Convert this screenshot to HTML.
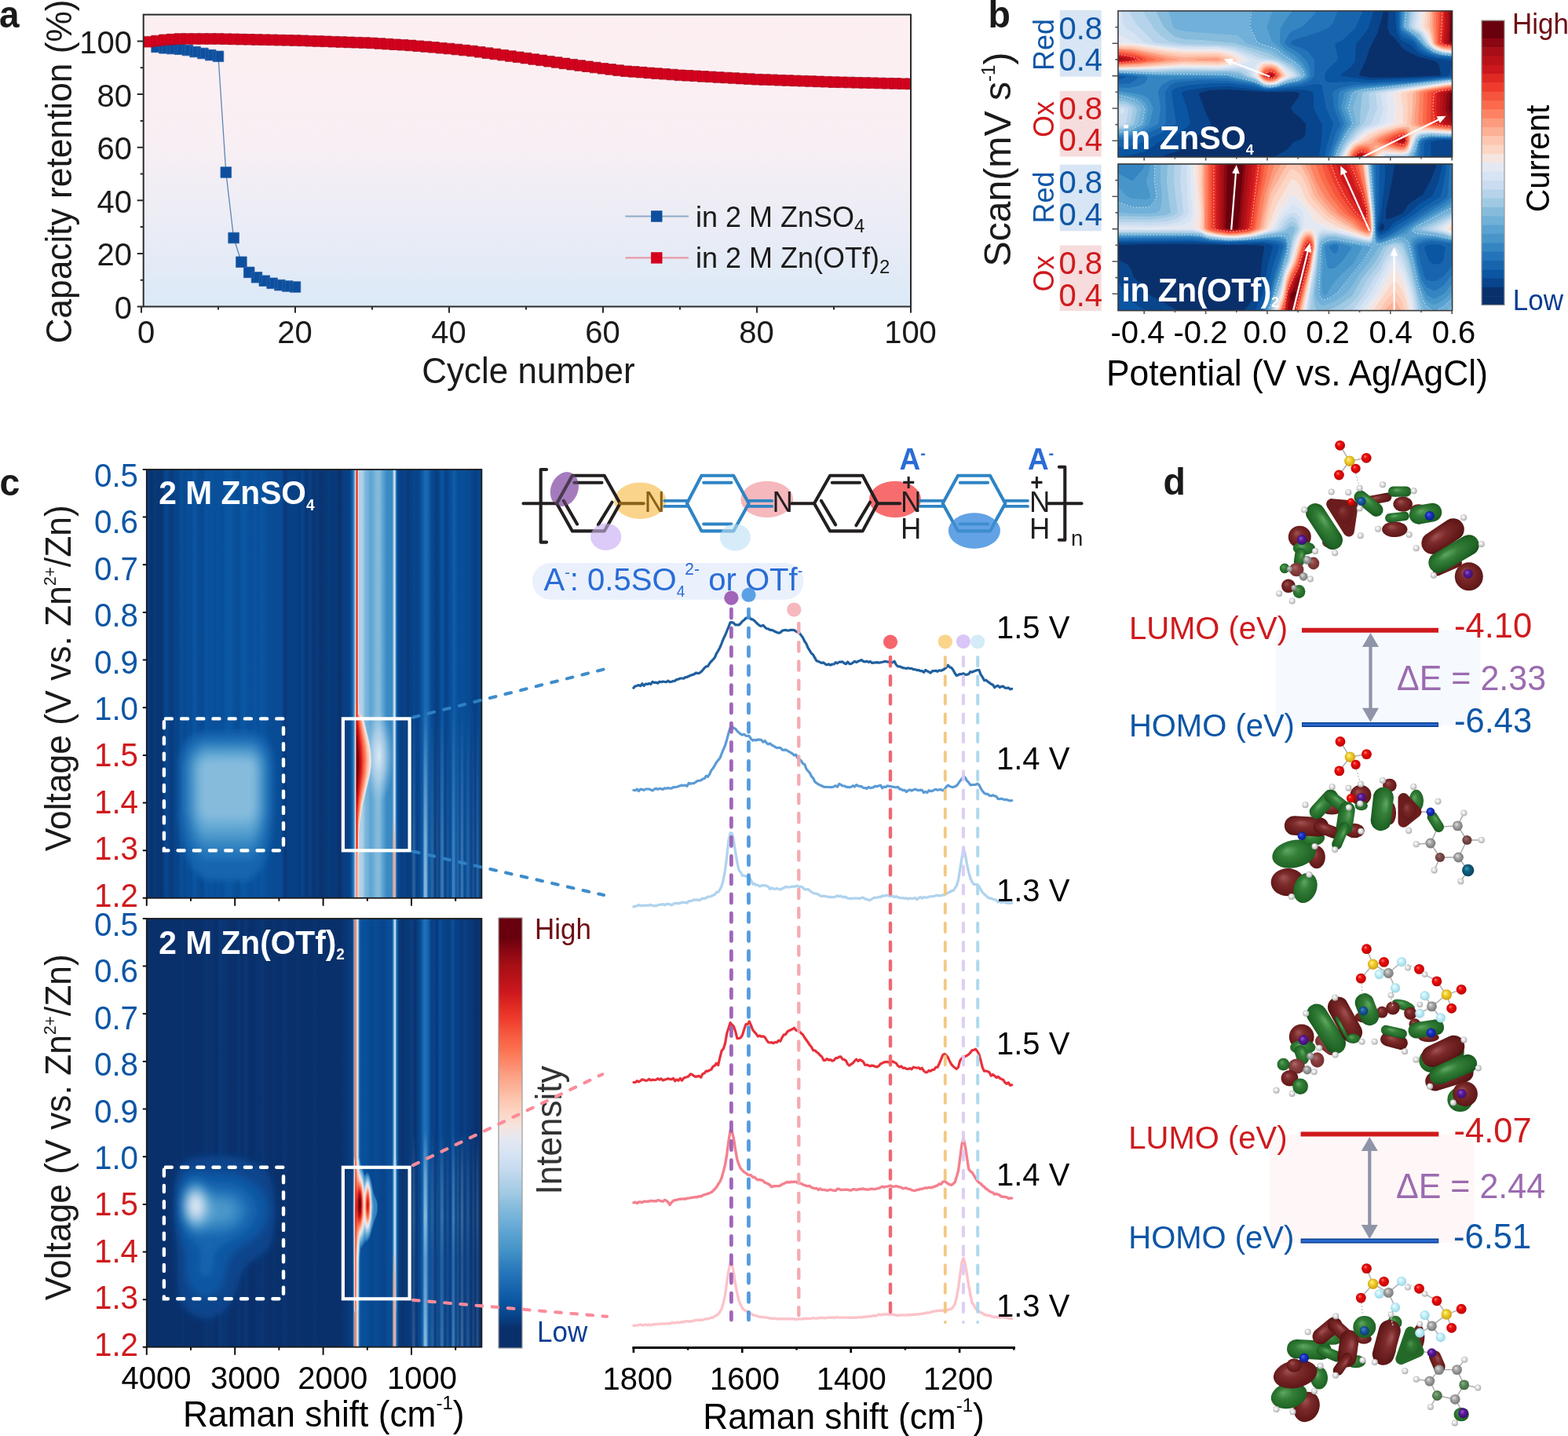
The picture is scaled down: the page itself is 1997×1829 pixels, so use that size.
<!DOCTYPE html>
<html lang="en"><head><meta charset="utf-8"><title>Figure</title>
<style>
html,body{margin:0;padding:0;background:#fff;}
body{width:1997px;height:1829px;overflow:hidden;}
svg{display:block;font-family:'Liberation Sans', Arial, Helvetica, sans-serif;}
</style></head>
<body>
<svg width="1997" height="1829" viewBox="0 0 1997 1829">
<rect width="1997" height="1829" fill="#fff"/>
<g id="panel_a">
<defs><linearGradient id="abg" x1="0" y1="0" x2="0" y2="1"><stop offset="0" stop-color="#fdeff1"/><stop offset="0.45" stop-color="#f8eff4"/><stop offset="0.75" stop-color="#e9ecf6"/><stop offset="1" stop-color="#dbe9f7"/></linearGradient></defs>
<rect x="182.7" y="18.6" width="977.3" height="371.9" fill="url(#abg)"/>
<polyline points="199.6,59.9 209.4,61.3 219.2,62 229,62.6 238.8,64 248.6,66 258.4,68 268.2,70.1 278,71.8 287.8,219.5 297.6,303 307.4,333.7 317.2,346.9 327,353.3 336.8,357.7 346.6,360.8 356.4,363.1 366.2,364.5 376,365.5" fill="none" stroke="#5b86b5" stroke-width="1.3"/>
<path d="M192.8 53.1h13.6v13.6h-13.6zM202.6 54.5h13.6v13.6h-13.6zM212.4 55.2h13.6v13.6h-13.6zM222.2 55.8h13.6v13.6h-13.6zM232 57.2h13.6v13.6h-13.6zM241.8 59.2h13.6v13.6h-13.6zM251.6 61.2h13.6v13.6h-13.6zM261.4 63.3h13.6v13.6h-13.6zM271.2 65h13.6v13.6h-13.6zM281 212.7h13.6v13.6h-13.6zM290.8 296.2h13.6v13.6h-13.6zM300.6 326.9h13.6v13.6h-13.6zM310.4 340.1h13.6v13.6h-13.6zM320.2 346.5h13.6v13.6h-13.6zM330 350.9h13.6v13.6h-13.6zM339.8 354h13.6v13.6h-13.6zM349.6 356.3h13.6v13.6h-13.6zM359.4 357.7h13.6v13.6h-13.6zM369.2 358.7h13.6v13.6h-13.6z" fill="#0d4f9e" stroke="#2a62a8" stroke-width="0.8"/>
<clipPath id="aclip"><rect x="182.7" y="0" width="977.3" height="420"/></clipPath>
<path d="M183 46.4h13.6v13.6h-13.6zM192.8 45.2h13.6v13.6h-13.6zM202.6 44h13.6v13.6h-13.6zM212.4 43.3h13.6v13.6h-13.6zM222.2 42.7h13.6v13.6h-13.6zM232 42.7h13.6v13.6h-13.6zM241.8 42.7h13.6v13.6h-13.6zM251.6 42.7h13.6v13.6h-13.6zM261.4 42.7h13.6v13.6h-13.6zM271.2 42.7h13.6v13.6h-13.6zM281 42.9h13.6v13.6h-13.6zM290.8 43.1h13.6v13.6h-13.6zM300.6 43.3h13.6v13.6h-13.6zM310.4 43.5h13.6v13.6h-13.6zM320.2 43.7h13.6v13.6h-13.6zM330 43.9h13.6v13.6h-13.6zM339.8 44.1h13.6v13.6h-13.6zM349.6 44.3h13.6v13.6h-13.6zM359.4 44.5h13.6v13.6h-13.6zM369.2 44.7h13.6v13.6h-13.6zM379 45h13.6v13.6h-13.6zM388.8 45.4h13.6v13.6h-13.6zM398.6 45.7h13.6v13.6h-13.6zM408.4 46h13.6v13.6h-13.6zM418.2 46.4h13.6v13.6h-13.6zM428 46.7h13.6v13.6h-13.6zM437.8 47.1h13.6v13.6h-13.6zM447.6 47.4h13.6v13.6h-13.6zM457.4 47.7h13.6v13.6h-13.6zM467.2 48.1h13.6v13.6h-13.6zM477 48.7h13.6v13.6h-13.6zM486.8 49.3h13.6v13.6h-13.6zM496.6 49.9h13.6v13.6h-13.6zM506.4 50.5h13.6v13.6h-13.6zM516.2 51.1h13.6v13.6h-13.6zM526 51.9h13.6v13.6h-13.6zM535.8 52.7h13.6v13.6h-13.6zM545.6 53.5h13.6v13.6h-13.6zM555.4 54.4h13.6v13.6h-13.6zM565.2 55.2h13.6v13.6h-13.6zM575 56.2h13.6v13.6h-13.6zM584.8 57.2h13.6v13.6h-13.6zM594.6 58.2h13.6v13.6h-13.6zM604.4 59.5h13.6v13.6h-13.6zM614.2 60.8h13.6v13.6h-13.6zM624 62.1h13.6v13.6h-13.6zM633.8 63.4h13.6v13.6h-13.6zM643.6 64.7h13.6v13.6h-13.6zM653.4 66h13.6v13.6h-13.6zM663.2 67.3h13.6v13.6h-13.6zM673 68.7h13.6v13.6h-13.6zM682.8 70h13.6v13.6h-13.6zM692.6 71.4h13.6v13.6h-13.6zM702.4 72.7h13.6v13.6h-13.6zM712.2 74.1h13.6v13.6h-13.6zM722 75.4h13.6v13.6h-13.6zM731.8 76.7h13.6v13.6h-13.6zM741.6 77.9h13.6v13.6h-13.6zM751.4 79.2h13.6v13.6h-13.6zM761.2 80.5h13.6v13.6h-13.6zM771 81.6h13.6v13.6h-13.6zM780.8 82.8h13.6v13.6h-13.6zM790.6 83.9h13.6v13.6h-13.6zM800.4 84.6h13.6v13.6h-13.6zM810.2 85.3h13.6v13.6h-13.6zM820 86.1h13.6v13.6h-13.6zM829.8 86.8h13.6v13.6h-13.6zM839.6 87.5h13.6v13.6h-13.6zM849.4 88.2h13.6v13.6h-13.6zM859.2 89h13.6v13.6h-13.6zM869 89.5h13.6v13.6h-13.6zM878.8 90h13.6v13.6h-13.6zM888.6 90.6h13.6v13.6h-13.6zM898.4 91.1h13.6v13.6h-13.6zM908.2 91.7h13.6v13.6h-13.6zM918 92.2h13.6v13.6h-13.6zM927.8 92.7h13.6v13.6h-13.6zM937.6 93.3h13.6v13.6h-13.6zM947.4 93.8h13.6v13.6h-13.6zM957.2 94.4h13.6v13.6h-13.6zM967 94.7h13.6v13.6h-13.6zM976.8 95h13.6v13.6h-13.6zM986.6 95.4h13.6v13.6h-13.6zM996.4 95.7h13.6v13.6h-13.6zM1006.2 96.1h13.6v13.6h-13.6zM1016 96.4h13.6v13.6h-13.6zM1025.8 96.7h13.6v13.6h-13.6zM1035.6 97.1h13.6v13.6h-13.6zM1045.4 97.4h13.6v13.6h-13.6zM1055.2 97.8h13.6v13.6h-13.6zM1065 98h13.6v13.6h-13.6zM1074.8 98.2h13.6v13.6h-13.6zM1084.6 98.5h13.6v13.6h-13.6zM1094.4 98.7h13.6v13.6h-13.6zM1104.2 98.9h13.6v13.6h-13.6zM1114 99.2h13.6v13.6h-13.6zM1123.8 99.4h13.6v13.6h-13.6zM1133.6 99.6h13.6v13.6h-13.6zM1143.4 99.9h13.6v13.6h-13.6zM1153.2 100.1h13.6v13.6h-13.6z" fill="#d6001c" stroke="#a80c20" stroke-width="0.7" clip-path="url(#aclip)"/>
<rect x="182.7" y="18.6" width="977.3" height="371.9" fill="none" stroke="#2b2b2b" stroke-width="2"/>
<path d="M182.7 390.5h-8M182.7 356.7h-4M182.7 322.9h-8M182.7 289.1h-4M182.7 255.3h-8M182.7 221.5h-4M182.7 187.7h-8M182.7 153.9h-4M182.7 120.1h-8M182.7 86.3h-4M182.7 52.5h-8M180 390.5v8M278 390.5v4M376 390.5v8M474 390.5v4M572 390.5v8M670 390.5v4M768 390.5v8M866 390.5v4M964 390.5v8M1062 390.5v4M1160 390.5v8" stroke="#2b2b2b" stroke-width="2" fill="none"/>
<text transform="translate(168 406) scale(1 1.035)" font-size="40" fill="#1a1a1a" text-anchor="end">0</text>
<text transform="translate(168 338.4) scale(1 1.035)" font-size="40" fill="#1a1a1a" text-anchor="end">20</text>
<text transform="translate(168 270.8) scale(1 1.035)" font-size="40" fill="#1a1a1a" text-anchor="end">40</text>
<text transform="translate(168 203.2) scale(1 1.035)" font-size="40" fill="#1a1a1a" text-anchor="end">60</text>
<text transform="translate(168 135.6) scale(1 1.035)" font-size="40" fill="#1a1a1a" text-anchor="end">80</text>
<text transform="translate(168 68) scale(1 1.035)" font-size="40" fill="#1a1a1a" text-anchor="end">100</text>
<text transform="translate(186 437) scale(1 1.035)" font-size="40" fill="#1a1a1a" text-anchor="middle">0</text>
<text transform="translate(375.5 437) scale(1 1.035)" font-size="40" fill="#1a1a1a" text-anchor="middle">20</text>
<text transform="translate(571.5 437) scale(1 1.035)" font-size="40" fill="#1a1a1a" text-anchor="middle">40</text>
<text transform="translate(767.5 437) scale(1 1.035)" font-size="40" fill="#1a1a1a" text-anchor="middle">60</text>
<text transform="translate(963.5 437) scale(1 1.035)" font-size="40" fill="#1a1a1a" text-anchor="middle">80</text>
<text transform="translate(1159.5 437) scale(1 1.035)" font-size="40" fill="#1a1a1a" text-anchor="middle">100</text>
<text transform="translate(673 488) scale(1 1.035)" font-size="44" fill="#1a1a1a" text-anchor="middle">Cycle number</text>
<text transform="translate(91 218.5) rotate(-90) scale(1 1.035)" font-size="44.3" fill="#1a1a1a" text-anchor="middle">Capacity retention (%)</text>
<text transform="translate(-1 34.5) scale(1 1.035)" font-size="46" fill="#1a1a1a" font-weight="bold">a</text>
<line x1="796.4" y1="275.5" x2="877" y2="275.5" stroke="#8fa9c6" stroke-width="2.2"/>
<rect x="829.1" y="268.3" width="14.4" height="14.4" fill="#0d4f9e"/>
<line x1="796.4" y1="328.4" x2="877" y2="328.4" stroke="#e79aa6" stroke-width="2.2"/>
<rect x="829.1" y="321.2" width="14.4" height="14.4" fill="#d6001c"/>
<text transform="translate(886 288.5) scale(1 1.035)" font-size="36" fill="#1a1a1a">in 2 M ZnSO<tspan font-size="24" dy="7">4</tspan><tspan dy="-7" font-size="1">&#8203;</tspan></text>
<text transform="translate(886 341) scale(1 1.035)" font-size="36" fill="#1a1a1a">in 2 M Zn(OTf)<tspan font-size="24" dy="7">2</tspan><tspan dy="-7" font-size="1">&#8203;</tspan></text>
</g>
<g id="panel_b">
<clipPath id="bct"><rect x="1424.0" y="13.9" width="425.6" height="186.1"/></clipPath>
<clipPath id="bcb"><rect x="1424.0" y="208.9" width="425.6" height="186.7"/></clipPath>
<g clip-path="url(#bct)"><rect x="1424" y="13.9" width="425.6" height="186.1" fill="#0a306b"/>
<path fill="#08458c" d="M1421 11l341 0 -1 8 -7 24 -9 17 -6 18 -8 17 1 2 4 0 10 2 54 -1 34 -2 1 -2 -1 -4 -1 -6 -3 -5 -5 -2 -19 -5 -16 -8 -5 -4 -9 -12 -6 -5 -3 -8 2 -24 84 0 0 192 -231 0 0 -3 13 -7 6 -4 6 -8 11 -4 4 -4 1 -9 0 -6 -6 -7 -9 -7 -4 -6 1 -3 8 -10 2 -5 -1 -2 -5 -1 -37 0 -49 -3 -23 1 -12 3 -1 2 8 22 7 15 0 3 -3 5 -5 4 -15 5 -10 5 -2 2 -2 7 -4 4 -5 2 -11 3 -4 3 0 3 -60 0z"/>
<path fill="#0a56a3" d="M1421 11l329 0 -1 5 -6 19 -4 7 -12 14 -1 18 0 4 -5 7 -13 10 0 2 8 1 29 4 88 -4 9 -1 4 -2 4 -14 3 0 0 98 -16 -1 -11 2 -4 1 1 22 -144 0 4 -24 1 -20 -11 -21 0 -19 -2 -2 -6 -2 -12 -1 -37 2 -52 -6 -22 1 -24 3 -10 2 -3 2 7 20 4 19 -2 3 -15 11 -22 9 -11 8 -8 5 -7 2 -25 5 0 3 -5 0zM1777 11l76 0 0 67 -27 -4 -14 -4 -7 -4 -8 -9 -13 -6 -3 -5 -3 -9z"/>
<path fill="#1865ae" d="M1421 11l314 0 0 5 -9 20 -15 14 -11 6 4 19 -2 3 -8 7 -5 6 -2 6 1 6 2 1 7 1 26 -1 22 1 55 -3 53 -5 0 80 -21 0 -10 1 -5 1 -3 3 -1 21 -126 0 2 -15 9 -30 -9 -20 -5 -27 -1 -3 -9 -1 -14 3 -43 4 -7 0 -11 -3 -34 -5 -23 0 -25 2 -16 3 -5 2 -3 2 -1 3 6 38 -2 4 -14 8 -32 15 -13 4 -16 0 0 -86 7 0 6 -3 0 -1 -5 0 -8 -1zM1781 11l72 0 0 64 -23 -2 -14 -5 -9 -5 -7 -10 -14 -6 -3 -5 -2 -7z"/>
<path fill="#2474ba" d="M1421 11l283 0 0 3 -7 16 -4 5 -16 7 -30 9 -3 3 1 3 12 4 8 4 4 5 4 5 1 4 0 17 -2 3 -5 5 -11 4 -38 5 -7 0 -14 -5 -35 -5 -34 -1 -31 3 -7 4 -6 8 1 23 0 16 -2 3 -7 4 -24 11 -15 4 -16 0 0 -71 18 -1 7 -4 4 -4 -4 -1 -6 -1 -19 -2zM1783 11l70 0 0 62 -22 -2 -12 -4 -9 -5 -9 -11 -13 -8 -4 -4 -1 -4zM1845 99l8 0 0 77 -30 0 -11 3 -2 3 -2 21 -116 0 0 -6 4 -11 5 -16 6 -11 -8 -22 -2 -18 1 -2 2 -2 9 -4 15 -3 77 -4z"/>
<path fill="#3585c2" d="M1421 11l255 0 0 3 -1 3 -13 14 -6 4 -11 5 -3 3 -3 5 -3 6 1 2 3 3 16 10 9 10 3 8 1 10 -4 4 -8 4 -38 7 -9 0 -11 -5 -36 -7 -41 0 -23 1 -8 1 -10 5 -3 4 -3 5 3 22 -2 17 -1 3 -21 11 -8 3 -10 3 -15 0 0 -64 16 1 11 -2 10 -4 4 -7 -2 -2 -10 -1 -29 -2zM1785 11l68 0 0 61 -17 -1 -13 -3 -9 -6 -12 -13 -14 -9 -3 -3 -1 -3zM1843 100l10 0 0 75 -30 0 -12 3 -3 3 -3 22 -110 0 0 -5 4 -11 12 -28 0 -3 -7 -19 1 -17 2 -4 11 -4 13 -2 68 -5z"/>
<path fill="#4896c9" d="M1421 11l225 0 -1 4 -8 11 -6 10 -1 8 0 11 6 7 15 10 8 8 5 9 2 8 -4 4 -7 3 -17 3 -13 4 -8 1 -7 -1 -13 -6 -34 -7 -33 -1 -58 0 -31 -3 -20 -1zM1787 11l66 0 0 61 -17 -2 -11 -3 -10 -6 -12 -13 -14 -10 -3 -4zM1842 101l11 0 0 74 -30 -1 -12 2 -4 4 -4 20 0 3 -106 0 1 -5 3 -10 15 -30 -8 -21 3 -13 1 -5 2 -2 7 -3 11 -2zM1421 115l30 5 6 2 5 3 4 7 3 6 -5 18 -1 3 -10 7 -12 5 -9 1 -11 1z"/>
<path fill="#5aa2d1" d="M1421 11l200 0 0 3 -8 20 7 19 16 13 19 15 6 8 2 5 0 3 -3 3 -6 3 -15 3 -14 4 -8 1 -8 -1 -11 -5 -35 -9 -92 -1 -50 -3zM1789 11l64 0 0 60 -16 -1 -12 -4 -11 -7 -11 -13 -14 -9 -2 -4zM1847 101l6 0 0 73 -30 -1 -9 1 -4 2 -4 4 -2 12 -4 8 0 3 -101 0 0 -5 4 -9 9 -19 8 -12 -2 -7 -6 -14 5 -17 2 -3 7 -2 9 -2zM1421 118l9 1 16 4 7 3 5 4 3 5 1 4 -3 17 -1 3 -8 5 -10 4 -9 2 -10 1z"/>
<path fill="#70b0d9" d="M1421 11l172 0 -2 23 10 19 4 3 20 6 11 9 13 8 8 8 4 7 0 3 -3 2 -5 3 -14 3 -14 5 -8 1 -8 -2 -11 -5 -19 -6 -16 -3 -92 -1 -50 -2zM1791 11l62 0 0 59 -16 -1 -11 -3 -11 -8 -11 -12 -13 -10 -2 -3zM1844 102l9 0 0 71 -30 -1 -13 3 -4 4 -4 13 -4 8 0 3 -97 0 0 -5 6 -13 8 -15 8 -12 -1 -6 -5 -15 5 -17 3 -3 12 -3zM1421 122l9 0 12 3 7 4 6 5 3 5 -3 17 -2 3 -7 4 -9 4 -7 1 -9 1z"/>
<path fill="#86bbdc" d="M1421 11l67 0 0 3 3 8 3 12 3 3 13 3 65 5 5 3 7 7 33 10 15 10 11 5 9 9 3 5 1 3 -3 2 -6 2 -11 3 -14 5 -8 1 -7 -1 -11 -6 -20 -7 -15 -3 -94 0 -49 -2zM1794 11l59 0 0 59 -16 -2 -11 -3 -11 -8 -9 -12 -13 -9 -1 -4zM1848 102l5 0 0 71 -30 -1 -13 2 -6 5 -3 13 -5 8 0 3 -93 0 0 -5 6 -13 8 -14 10 -13 -1 -9 -3 -12 6 -18 2 -2 6 -1 14 -2zM1421 125l9 0 9 3 7 3 6 5 1 2 0 3 -3 15 -2 3 -5 3 -8 3 -14 2z"/>
<path fill="#a0cae3" d="M1421 11l51 0 1 5 9 18 8 8 7 5 12 3 22 1 42 4 33 10 12 4 27 14 8 8 3 4 0 2 -5 2 -12 4 -13 5 -9 1 -8 -1 -9 -6 -13 -5 -8 -4 -13 -2 -57 0 -39 1 -49 -2zM1796 11l57 0 0 58 -15 -1 -11 -4 -10 -7 -9 -13 -13 -8 -1 -4zM1846 103l7 0 0 69 -31 -1 -12 1 -6 6 -5 14 -3 5 -3 3 0 3 -88 0 0 -5 6 -13 11 -16 10 -11 1 -20 2 -18 1 -2 6 -2 12 -1zM1421 129l0 -1 11 1 10 4 5 4 1 3 -3 15 -2 4 -11 5 -11 0z"/>
<path fill="#b5d3ea" d="M1421 11l34 0 1 4 14 22 9 9 10 7 18 3 45 1 23 2 58 20 15 10 4 5 1 3 -3 2 -11 3 -13 6 -9 1 -8 -2 -9 -6 -11 -4 -7 -5 -4 -2 -69 -1 -39 2 -49 -1zM1799 11l54 0 0 58 -15 -2 -11 -3 -10 -8 -8 -13 -11 -7 -2 -4zM1843 104l10 0 0 67 -31 -1 -12 1 -4 3 -3 3 -4 12 -3 7 -4 3 -7 1 0 3 -13 0 0 -3 -2 0 -2 0 0 3 -62 0 1 -6 7 -13 13 -16 10 -11 7 -19 -1 -18 2 -2 12 -3zM1421 132l11 0 7 3 4 3 -3 17 -3 4 -6 3 -10 0z"/>
<path fill="#c9dcf0" d="M1421 11l17 0 1 4 2 5 7 12 22 22 14 2 22 2 46 1 20 2 34 13 18 3 6 2 17 12 3 4 0 2 -24 10 -9 1 -5 0 -4 -2 -8 -6 -7 -3 -6 -7 -7 -3 -28 2 -43 -1 -39 1 -49 0zM1802 11l51 0 0 57 -16 -2 -10 -3 -8 -7 -9 -14 -10 -7 -1 -3zM1847 104l6 0 0 67 -31 -2 -13 2 -4 2 -2 3 -8 19 -2 2 -3 1 -23 0 -4 2 0 3 -55 0 0 -3 2 -5 7 -12 14 -16 7 -5 7 -4 2 -2 7 -18 -2 -18 1 -2 12 -2zM1421 135l10 0 6 3 0 3 -3 15 -3 3 -10 1z"/>
<path fill="#d6e4f3" d="M1421 11l7 0 2 16 3 8 11 7 13 12 14 3 35 3 45 0 18 3 32 13 17 1 9 3 6 3 13 10 2 3 -1 1 -22 10 -8 1 -6 -1 -4 -2 -12 -9 -2 -7 -2 -2 -7 -2 -32 3 -44 -1 -38 1 -49 1zM1805 11l48 0 0 57 -14 -2 -8 -2 -5 -3 -6 -5 -8 -14 -10 -8zM1844 105l9 0 0 65 -31 -1 -13 1 -4 2 -3 3 -7 19 -5 3 -24 0 -6 3 0 3 -51 0 1 -5 6 -11 14 -15 9 -8 15 -6 3 -2 4 -17 -2 -19 1 -2 9 -2zM1428 138l3 0 1 2 -1 3 -2 2 -2 -1 -1 -3 1 -2z"/>
<path fill="#e4e8f2" d="M1808 11l45 0 0 56 -18 -2 -7 -3 -6 -5 -8 -15 -9 -8zM1421 44l4 0 21 10 22 4 40 4 42 0 14 2 9 2 13 7 5 3 1 2 -4 2 -15 4 -20 2 -45 0 -38 2 -49 0zM1605 79l12 -1 10 2 5 4 12 11 0 2 -20 10 -7 0 -8 -1 -11 -9 -1 -2 1 -10 3 -4zM1848 105l5 0 0 65 -32 -2 -9 0 -4 1 -6 4 -7 19 -2 3 -3 1 -7 1 -18 -1 -6 3 -1 4 -48 0 1 -6 7 -12 17 -15 7 -5 20 -7 3 -2 2 -17 -1 -19 1 -2 15 -3z"/>
<path fill="#f5e4df" d="M1811 11l42 0 0 55 -10 0 -9 -2 -7 -3 -5 -5 -5 -12 -8 -10zM1421 56l0 -1 3 0 18 1 65 8 46 0 18 4 11 7 1 2 -12 5 -18 3 -45 -1 -53 3 -34 0zM1608 80l10 -1 9 3 7 6 6 7 0 2 -16 9 -7 1 -7 -2 -7 -6 -3 -4 3 -11 2 -3zM1845 106l8 0 0 63 -31 -2 -13 0 -4 2 -4 3 -6 18 -2 3 -3 2 -6 1 -20 -1 -7 3 -1 2 0 3 -44 0 1 -5 7 -12 19 -16 11 -5 23 -7 2 -2 3 -18 -3 -17 1 -3 11 -3z"/>
<path fill="#fdd5c4" d="M1816 11l37 0 0 55 -17 -3 -7 -3 -5 -4 -4 -13 -6 -9zM1421 58l22 0 43 7 21 2 45 0 16 4 5 3 2 2 -1 2 -5 2 -17 3 -44 -1 -55 4 -32 1zM1613 81l7 0 7 3 6 6 4 5 0 2 -6 4 -8 4 -7 1 -7 -2 -7 -7 0 -3 1 -6 3 -4 3 -3zM1845 107l8 0 0 61 -41 -2 -5 0 -4 2 -3 3 -5 16 -2 5 -3 2 -5 1 -18 -2 -6 0 -5 3 -2 4 0 3 -40 0 0 -4 4 -8 4 -5 3 -3 9 -4 9 -7 10 -5 34 -10 0 -19 -3 -18 1 -2 6 -2 19 -3z"/>
<path fill="#fdc6b0" d="M1819 11l34 0 0 54 -16 -2 -8 -4 -4 -3 -3 -14 -4 -8zM1421 60l0 -1 3 0 19 1 43 7 21 3 45 -1 12 4 5 3 -4 2 -13 3 -44 -1 -55 5 -32 1zM1610 83l8 -1 7 2 7 6 3 5 0 2 -5 3 -7 4 -6 1 -7 -1 -6 -6 -1 -2 2 -8 3 -4zM1844 108l9 0 0 59 -42 -3 -9 1 -3 1 -1 2 -2 12 -2 7 -2 4 -3 2 -6 0 -16 -2 -7 0 -4 1 -2 3 -2 4 0 4 -36 0 0 -4 4 -8 3 -4 4 -3 12 -5 10 -6 10 -5 16 -5 15 -3 2 -2 1 -19 -1 -19 1 -2 19 -5z"/>
<path fill="#fcb095" d="M1822 11l31 0 0 53 -15 -2 -7 -3 -5 -3 -5 -22zM1421 61l21 1 44 8 21 3 24 -1 21 0 6 2 3 2 -3 2 -6 1 -44 -1 -57 6 -30 1zM1612 84l7 -1 7 3 6 8 1 2 0 1 -6 5 -5 2 -7 0 -6 -2 -5 -5 0 -2 4 -8zM1843 109l10 -1 0 58 -48 -4 -7 -2 -1 -4 2 -18 0 -18 1 -2 4 -2 9 -2zM1786 162l8 0 2 4 -1 15 -2 6 -3 4 -7 1 -17 -3 -9 -1 -3 2 -2 2 -2 11 -33 0 0 -4 3 -6 4 -5 4 -3 15 -5 10 -7 10 -4 15 -5z"/>
<path fill="#fc9b7e" d="M1824 11l29 0 0 52 -16 -2 -7 -3 -3 -3 -3 -21zM1421 62l23 1 59 13 -6 1 -44 5 -32 2zM1524 75l26 -1 4 2 -1 1 -5 0 -19 0 -10 -1zM1614 85l5 0 6 2 6 7 1 2 -1 1 -6 5 -5 2 -7 -1 -4 -2 -4 -4 0 -3 4 -7zM1848 109l5 0 0 57 -34 -3 -12 -2 -4 -2 -2 -3 3 -38 4 -2 8 -2zM1783 164l5 0 3 0 2 2 1 3 1 12 -2 5 -4 4 -2 1 -5 0 -16 -4 -14 -2 -2 1 0 2 -1 15 -31 0 1 -4 2 -6 4 -4 4 -3 8 -2 10 -1 5 -6 7 -4 10 -4z"/>
<path fill="#fc8262" d="M1826 11l27 0 0 51 -15 -2 -7 -2 -3 -3 -2 -21zM1421 64l0 -1 4 0 18 2 38 9 4 2 -6 2 -27 3 -31 2zM1611 87l7 -1 6 2 6 6 0 2 0 1 -5 4 -4 1 -5 1 -6 -2 -3 -3 -1 -2 2 -6zM1846 110l7 0 0 55 -31 -3 -11 -2 -4 -2 -1 -3 1 -17 1 -18 0 -2 8 -3zM1782 166l5 -1 3 1 2 1 2 4 1 7 -1 3 -2 5 -3 3 -4 1 -10 -2 -17 -5 -4 -3 2 -3 7 -4zM1733 186l8 0 4 2 2 6 1 9 -29 0 1 -4 4 -7 4 -4z"/>
<path fill="#fb6a4a" d="M1829 11l24 0 0 50 -15 -2 -6 -2 -2 -2 -1 -20zM1421 66l0 -1 4 0 18 2 25 7 4 2 -2 1 -18 3 -31 2zM1614 88l5 -1 5 2 4 6 0 2 -3 3 -6 2 -5 0 -4 -2 -3 -3 0 -2 3 -5zM1847 111l6 0 0 53 -29 -3 -11 -3 -1 -3 1 -35 1 -2 8 -3zM1782 168l7 0 2 1 2 4 0 7 -1 4 -3 4 -3 0 -7 -1 -14 -4 -5 -3 1 -2 4 -3zM1734 188l6 0 4 3 2 5 0 7 -25 0 0 -4 4 -6 5 -4z"/>
<path fill="#f5553d" d="M1832 11l21 0 0 49 -15 -2 -5 -2 -2 -2zM1421 67l6 0 16 2 14 4 5 3 -4 2 -9 1 -28 2zM1613 90l5 -1 5 1 4 5 0 2 -3 3 -5 1 -8 -1 -3 -3 0 -1 2 -4zM1846 112l7 0 0 51 -18 -2 -16 -3 -2 -3 1 -36 2 -2 4 -1zM1787 169l2 1 2 2 2 6 -1 4 -3 4 -3 1 -7 -1 -12 -5 -2 -2 2 -2 9 -5zM1732 190l6 0 4 2 2 5 1 6 -23 0 0 -4 3 -4 4 -3z"/>
<path fill="#ef3b2c" d="M1834 11l19 0 0 49 -14 -2 -4 -2 -2 -2zM1421 69l0 -1 4 0 14 2 14 3 3 3 -4 1 -7 2 -24 2zM1614 91l4 -1 5 2 3 3 0 2 -3 2 -5 1 -7 -1 -2 -2 0 -2 2 -3zM1845 113l8 0 0 49 -15 -1 -14 -3 -1 -1 -1 -3 1 -35 5 -3zM1784 171l5 0 3 5 0 5 -3 4 -3 1 -6 -1 -9 -4 -2 -2 7 -5zM1731 192l5 0 4 1 3 5 1 5 -21 0 1 -5z"/>
<path fill="#e02922" d="M1837 11l16 0 0 48 -14 -2 -4 -3 2 -20zM1421 70l4 -1 13 2 10 3 3 2 -12 3 -18 1zM1615 92l3 -1 4 1 3 3 0 2 -2 1 -4 2 -7 -1 -2 -2 0 -2 2 -2zM1844 114l9 0 0 47 -20 -2 -5 -2 -1 -2 -2 -17 2 -19 5 -2zM1783 173l5 -1 3 4 0 4 -3 4 -9 -1 -5 -2 -2 -2 4 -3zM1730 194l3 -1 6 1 3 4 1 5 -19 0 1 -4z"/>
<path fill="#cb181d" d="M1839 11l14 0 0 47 -12 -2 -3 0 -1 -2 2 -20zM1421 71l16 1 6 2 2 2 -7 2 -17 1zM1615 93l3 -1 4 2 2 1 0 2 -2 1 -4 1 -7 -2 0 -2zM1848 114l5 0 0 46 -14 -1 -6 -2 -2 -3 -2 -15 1 -20 3 -2zM1784 174l4 0 2 2 1 3 -2 4 -2 0 -4 0 -7 -3 -1 -1 2 -2zM1730 195l4 0 5 1 2 3 0 4 -15 0 0 -4z"/>
<path fill="#b91219" d="M1841 11l12 0 0 46 -10 -1 -4 -2 2 -19zM1421 73l0 -1 10 1 6 1 3 2 -7 1 -12 1zM1616 94l5 0 1 3 -5 1 -5 -1 1 -2zM1847 115l6 0 0 45 -13 -2 -3 -2 -4 -17 2 -20 3 -2zM1782 176l5 -1 2 1 1 3 -1 2 -3 1 -7 -2 0 -2zM1731 196l5 0 3 2 1 2 0 3 -13 0 0 -4z"/>
<path fill="#a50f15" d="M1844 11l9 0 0 46 -8 -1 -2 -1 -1 -2 2 -18zM1421 74l0 -1 6 0 6 2 1 1 -13 1zM1615 96l3 -1 2 1 0 1 -3 0 -2 0zM1846 116l7 0 0 42 -5 0 -5 -2 -3 -7 -3 -10 2 -20zM1784 177l4 0 1 1 -1 2 -1 1 -5 -1 0 -1zM1730 198l3 -1 5 2 1 1 0 3 -11 0 0 -3z"/>
<path fill="#8b0712" d="M1846 11l7 0 0 45 -6 -1 -2 -2 1 -18zM1421 75l4 0 2 1 -6 0zM1847 117l6 0 0 39 -3 0 -2 -2 -4 -8 -3 -8 2 -18 2 -2zM1731 199l2 0 3 1 0 3 -6 0 0 -3z"/>
<path fill="#69000d" d="M1848 11l5 0 0 44 -3 0 -3 -2zM1848 118l5 0 0 28 -3 0 -5 -8 2 -18z"/></g>
<g clip-path="url(#bcb)"><rect x="1424" y="208.9" width="425.6" height="186.7" fill="#0a306b"/>
<path fill="#08458c" d="M1421 206l356 0 -4 23 -8 41 0 7 1 2 2 0 9 -3 9 -4 2 -2 4 -7 3 -4 17 -11 10 -18 7 -18 0 -6 24 0 0 193 -268 0 0 -4 9 -11 7 -11 4 -19 2 -20 3 -18 0 -2 -3 -1 -10 -1 -35 0 -44 -1 -53 0 -44 1zM1760 284l-2 3 -1 4 0 2 2 0 3 -1 1 -2 -1 -5zM1421 332l0 -1 4 0 11 6 4 5 4 11 8 7 11 15 29 16 7 5 0 3 -78 0z"/>
<path fill="#0a56a3" d="M1421 206l343 0 0 23 -5 41 -4 20 1 5 3 2 8 -4 8 -9 20 -12 12 -12 17 -10 8 -18 5 -21 0 -5 16 0 0 193 -255 0 2 -7 8 -18 7 -38 6 -21 -1 -2 -5 -2 -9 -1 -45 1 -42 -3 -98 1zM1421 358l3 -1 6 12 13 16 7 5 11 6 0 3 -40 0z"/>
<path fill="#1865ae" d="M1421 206l336 0 -1 63 -3 22 2 7 2 2 2 0 9 -4 13 -10 18 -11 13 -10 22 -14 3 -9 5 -26 0 -10 11 0 0 193 -249 0 1 -5 8 -20 7 -31 9 -28 0 -3 -7 -2 -12 -2 -48 1 -21 -1 -24 -2 -96 1zM1824 311l-9 2 -1 3 3 9 3 7 4 4 4 1 7 -2 3 -3 3 -17 -3 -2 -3 -1z"/>
<path fill="#2474ba" d="M1421 206l331 0 1 63 0 24 1 8 4 3 6 -2 6 -3 51 -34 13 -7 8 -6 1 -2 1 -3 3 -41 6 0 0 105 -29 -4 -8 1 -6 2 -3 1 -2 3 4 20 5 18 3 5 8 1 4 0 9 -6 11 -13 4 -1 0 61 -245 0 1 -7 8 -17 6 -26 11 -34 0 -2 -1 -2 -6 -3 -12 -2 -50 2 -23 -1 -13 -2 -11 -1 -97 1z"/>
<path fill="#3585c2" d="M1421 206l328 0 3 63 0 26 2 8 2 2 2 1 8 -3 13 -7 43 -27 15 -9 13 -10 3 0 0 59 -25 -4 -12 0 -10 3 -3 3 -1 3 3 20 5 20 3 6 4 6 9 4 3 0 9 -6 11 -14 4 -1 0 50 -243 0 1 -6 8 -17 4 -19 13 -41 1 -4 -2 -3 -6 -3 -11 -1 -53 2 -24 -1 -12 -3 -11 -1 -97 1zM1697 312l-4 2 0 2 5 6 3 1 3 -4 1 -5 -3 -3z"/>
<path fill="#4896c9" d="M1459 206l289 0 3 62 1 30 1 8 4 2 8 -2 22 -10 17 -13 18 -10 16 -9 11 -7 4 -1 0 51 -26 -4 -15 0 -6 1 -3 1 -3 3 -1 5 4 20 6 26 5 11 4 6 8 5 3 -1 10 -6 11 -13 3 0 0 38 -241 0 1 -6 7 -15 3 -15 15 -46 0 -7 -2 -4 -2 -1 -5 -2 -12 0 -30 3 -22 1 -23 -2 -13 -3 -11 -1 -97 1 0 -80 7 1 13 7 2 0 13 -15 2 -5zM1698 309l-8 2 -3 3 3 24 1 3 1 1 7 0 4 -3 8 -8 11 -16 -4 -2 -16 -4z"/>
<path fill="#5aa2d1" d="M1466 206l280 0 4 61 1 34 1 5 2 3 6 0 17 -7 14 -4 2 -1 4 -6 7 -5 45 -25 4 -1 0 46 -26 -5 -21 0 -7 2 -2 3 0 6 10 47 3 9 6 14 4 3 5 3 3 0 11 -6 11 -11 3 0 0 28 -239 0 0 -4 7 -16 4 -15 14 -46 0 -8 -1 -5 -3 -2 -5 -1 -11 0 -29 3 -25 1 -24 -2 -12 -3 -11 -1 -97 0 0 -62 4 1 9 10 7 4 19 1 4 -1 1 -2 0 -3 -4 -13 -1 -5 4 -13zM1698 307l-9 2 -3 2 -2 3 1 20 -2 23 1 16 1 2 2 1 3 -2 6 -10 11 -13 17 -16 11 -20 -4 -2z"/>
<path fill="#70b0d9" d="M1471 206l274 0 5 63 1 41 2 1 5 0 18 -7 5 0 7 0 4 2 2 4 11 51 7 20 4 8 8 7 0 3 -209 0 1 -4 5 -13 16 -51 4 -15 0 -4 -1 -6 -2 -4 -2 -2 -21 1 -27 4 -22 1 -24 -2 -13 -4 -11 -1 -97 0 0 -42 4 1 17 6 19 0 5 -2 5 -6 2 -6 -3 -20zM1692 306l-7 3 -2 3 -1 3 -3 59 3 5 4 3 9 -3 7 -5 34 -41 11 -18 0 -1 -3 -1 -33 -6 -10 -2zM1848 265l5 -1 0 41 -4 0 -21 -5 -23 -2 -5 -3 -1 -3 5 -4zM1849 381l4 -1 0 19 -24 0 0 -3 10 -6z"/>
<path fill="#86bbdc" d="M1478 206l266 0 6 66 0 22 -1 14 -2 2 -6 1 -42 -8 -9 1 -6 3 -2 3 -1 4 -2 25 -4 35 2 7 4 6 3 2 2 0 13 -5 10 -6 5 -4 8 -10 8 -13 13 -16 13 -20 3 -2 16 -6 8 -1 6 3 3 7 17 65 5 15 0 3 -197 0 0 -4 14 -39 3 -14 6 -15 3 -16 -1 -11 -2 -3 -4 0 -21 3 -23 4 -20 1 -29 -2 -7 -1 -7 -3 -11 -1 -97 0 0 -28 21 2 21 0 9 -1 5 -3 2 -7 1 -10 -2 -21zM1848 269l5 -1 0 36 -4 -1 -20 -5 -20 -3 -6 -2 3 -3zM1849 390l4 -1 0 10 -11 0 0 -3z"/>
<path fill="#a0cae3" d="M1487 206l256 0 6 68 1 19 -2 13 -1 3 -4 1 -43 -9 -10 0 -6 3 -3 3 -1 5 -3 29 -4 34 1 14 2 4 2 3 0 3 -59 0 0 -4 12 -35 4 -17 5 -11 4 -19 2 -12 4 -9 -1 -2 -2 -2 -4 0 -7 6 -8 2 -35 7 -18 2 -13 0 -18 -2 -8 -2 -7 -3 -11 -1 -97 0 0 -22 44 1 20 -2 6 -3 0 -2 -3 -18 -2 -20zM1847 273l6 -1 0 30 -4 0 -12 -4 -22 -4 -5 -2 2 -2zM1776 309l9 1 2 2 2 4 6 17 15 63 0 3 -120 0 0 -3 15 -7 17 -12 13 -23 17 -21 10 -18 3 -2z"/>
<path fill="#b5d3ea" d="M1496 206l247 0 6 71 0 16 -1 12 -2 3 -4 0 -42 -9 -11 0 -6 2 -3 4 -1 6 -3 32 -5 32 -2 24 -49 0 0 -4 11 -31 5 -19 5 -12 6 -29 6 -12 -2 -7 -3 -2 -3 -1 -3 1 -8 9 -7 3 -33 7 -18 2 -14 0 -17 -2 -8 -1 -8 -4 -11 -1 -97 0 0 -17 41 1 19 -2 10 -2 8 -4 1 -3 -3 -19 -2 -20zM1849 275l4 0 0 26 -4 0 -12 -4 -15 -3 -5 -2 2 -2zM1773 312l5 -1 4 2 3 2 3 6 5 14 10 39 4 25 -99 0 0 -3 14 -10 8 -9 12 -22 14 -18 10 -20 3 -3z"/>
<path fill="#c9dcf0" d="M1504 206l238 0 6 69 1 18 -2 11 -2 3 -3 0 -41 -10 -13 0 -6 1 -2 3 -1 4 -4 37 -7 34 -2 23 -44 0 0 -4 10 -29 4 -19 6 -15 6 -25 7 -15 -2 -9 -3 -5 -4 -2 -4 1 -6 6 -5 8 -6 3 -30 7 -18 2 -15 0 -18 -2 -8 -1 -7 -4 -11 -2 -97 1 0 -12 42 0 22 -1 13 -3 8 -6 1 -4 -4 -39zM1848 278l5 -1 0 23 -4 -1 -24 -7 1 -2zM1775 315l3 0 2 2 6 9 3 8 12 41 4 24 -83 0 0 -3 16 -21 11 -20 9 -12 8 -16z"/>
<path fill="#d6e4f3" d="M1511 206l230 0 7 71 1 16 -2 10 -2 3 -4 0 -40 -10 -15 -2 -5 2 -3 6 -4 37 -3 16 -7 44 -41 0 0 -5 9 -25 4 -20 7 -16 7 -27 7 -15 -1 -13 -2 -3 -2 -3 -6 -1 -7 3 -7 7 -5 10 -3 2 -26 7 -14 2 -20 1 -17 -2 -10 -2 -8 -4 -11 -2 -97 0 0 -7 42 1 24 -1 14 -3 9 -6 3 -4 1 -3 -2 -21zM1848 280l5 -1 0 19 -5 0 -17 -6 1 -2zM1775 323l2 -1 3 3 5 8 4 9 10 33 4 24 -74 0 0 -4 16 -21 16 -28 6 -13z"/>
<path fill="#e4e8f2" d="M1515 206l226 0 7 71 0 15 -1 10 -3 3 -3 0 -38 -10 -19 -4 -4 2 -3 4 -2 31 -13 71 -38 0 0 -5 8 -22 6 -24 6 -15 8 -29 4 -7 4 -7 0 -18 -4 -6 -8 -5 -2 0 -2 1 -6 7 -6 6 -3 4 -5 11 -2 2 -14 5 -17 4 -18 2 -19 -1 -16 -3 -9 -4 -12 -3 -96 0 0 -3 45 1 30 -2 11 -2 7 -3 3 -5 2 -7 -2 -21zM1848 282l5 -1 0 16 -5 0 -11 -5 0 -2zM1775 330l2 -1 3 3 9 18 8 27 4 22 -67 0 1 -4 17 -22 19 -38z"/>
<path fill="#f5e4df" d="M1520 206l220 0 8 75 0 12 -1 7 -3 4 -4 0 -28 -10 -16 -3 -13 -6 -8 -2 -3 -3 -3 -9 -7 -8 -7 -9 -9 -7 -2 1 -7 11 -7 9 -10 22 -4 3 -22 7 -18 2 -16 0 -23 -4 -8 -5 -5 -1 -3 -2 3 -20zM1848 285l5 -1 0 12 -5 -1 -7 -3 1 -2zM1665 292l7 0 2 3 1 5 1 13 -4 27 -11 59 -36 0 1 -5 7 -21 5 -23 7 -17 9 -28 4 -9 4 -3zM1775 342l2 -1 1 1 11 19 6 22 3 16 -57 0 1 -5 14 -18 6 -11z"/>
<path fill="#fdd5c4" d="M1526 206l213 0 7 66 2 19 -2 8 -1 2 -2 1 -5 -1 -36 -13 -13 -7 -6 -5 -17 -18 -4 -7 -7 -16 -5 -5 -4 -2 -3 3 -8 14 -9 15 -11 29 -2 3 -5 2 -13 5 -20 2 -20 -1 -19 -4 -5 -3 -3 -3 1 -19 -3 -40zM1849 288l4 0 0 6 -4 0 -3 -2 1 -2zM1663 295l6 -1 3 3 2 6 1 10 -5 30 -11 56 -32 0 1 -7 6 -17 2 -15 3 -10 8 -17 3 -13 6 -17 3 -5zM1774 360l3 -1 2 1 8 12 5 14 2 13 -45 0 0 -3 1 -2z"/>
<path fill="#fdc6b0" d="M1530 206l207 0 9 66 1 19 -1 7 -2 2 -2 1 -11 -4 -28 -14 -12 -7 -22 -25 -8 -21 -4 -7 -3 -3 -8 -5 -2 1 -4 5 -19 32 -9 36 -2 3 -5 2 -12 4 -18 2 -17 0 -21 -4 -5 -3 -1 -3 0 -20 -2 -40zM1663 297l5 -1 4 3 2 6 0 9 -4 29 -12 52 0 4 -30 0 1 -6 6 -17 2 -15 3 -10 8 -17 9 -30 3 -4zM1776 372l1 0 2 1 7 12 3 9 1 5 -34 0 0 -3 3 -4 7 -10z"/>
<path fill="#fcb095" d="M1532 206l107 0 0 4 -21 37 -9 42 -2 3 -14 5 -20 3 -10 0 -13 -2 -11 -3 -5 -2 -1 -3 0 -20 -2 -39zM1656 206l80 0 9 66 2 20 -1 4 -2 3 -2 0 -3 -1 -12 -5 -24 -14 -11 -8 -18 -21 -8 -22 -10 -19zM1663 299l4 -1 4 2 2 6 1 8 -5 28 -12 53 0 4 -27 0 0 -6 5 -15 4 -21 4 -11 6 -12 9 -29zM1775 384l2 0 3 3 4 8 0 4 -21 0 0 -3 2 -3z"/>
<path fill="#fc9b7e" d="M1533 206l98 0 0 4 -8 15 -7 18 -10 46 -2 3 -13 5 -22 2 -21 -2 -9 -3 -4 -2 -1 -3 -1 -58zM1662 206l73 0 10 65 1 20 0 3 -2 3 -4 0 -10 -4 -9 -7 -17 -11 -8 -6 -17 -21 -11 -26 -6 -12zM1664 300l4 0 3 2 2 7 0 6 -5 28 -12 52 0 4 -26 0 1 -5 4 -14 5 -22 4 -11 6 -13 9 -28 3 -4zM1774 395l3 0 0 4 -4 0 0 -3z"/>
<path fill="#fc8262" d="M1535 206l88 0 0 4 -12 38 -7 41 -2 3 -10 4 -12 2 -11 0 -18 -1 -9 -2 -6 -3 -1 -3zM1668 206l66 0 10 61 2 24 -2 4 -4 1 -7 -3 -11 -10 -16 -10 -18 -21 -11 -19 -9 -23zM1664 302l3 -1 3 2 2 4 1 7 -5 27 -13 53 0 5 -24 0 1 -6 4 -12 4 -21 4 -11 7 -15 8 -25 2 -4z"/>
<path fill="#fb6a4a" d="M1538 206l78 0 -4 23 -6 23 -6 37 -1 3 -5 2 -6 2 -13 1 -10 1 -18 -3 -6 -2 -3 -2zM1676 206l55 0 0 4 12 60 2 21 -2 3 -2 0 -5 -2 -12 -12 -12 -8 -17 -21 -12 -22 -7 -19zM1664 304l3 -1 3 3 2 5 0 4 -4 24 -15 56 0 4 -21 0 0 -4 4 -12 4 -20 4 -12 8 -15 8 -26z"/>
<path fill="#f5553d" d="M1540 206l71 0 -3 22 -5 25 -5 36 -2 3 -4 2 -7 1 -10 2 -10 0 -17 -3 -7 -3zM1683 206l45 0 1 5 8 30 5 26 1 22 -1 3 -1 0 -2 -1 -8 -9 -14 -11 -16 -21 -11 -21 -6 -18zM1664 306l3 -1 2 2 2 4 0 4 -4 23 -14 56 -1 5 -19 0 0 -4 3 -9 4 -20 5 -13 8 -17 7 -24z"/>
<path fill="#ef3b2c" d="M1543 206l64 0 -2 22 -5 24 -5 37 -1 3 -5 2 -10 1 -14 1 -14 -2 -7 -3 -1 -3zM1690 206l35 0 0 4 11 33 5 21 1 9 -1 13 -2 0 -16 -15 -15 -21 -11 -21 -7 -18zM1664 308l3 -1 2 1 1 4 0 3 -3 21 -15 57 -1 6 -17 0 6 -30 6 -16 7 -14 8 -26z"/>
<path fill="#e02922" d="M1546 206l57 0 -10 83 -2 3 -14 3 -12 0 -13 -2 -5 -2 -1 -3zM1696 206l24 0 1 4 14 37 5 17 1 8 -1 9 -2 0 -11 -10 -13 -21 -11 -21 -7 -18zM1665 309l3 0 2 4 -3 21 -16 59 -1 6 -15 0 5 -27 7 -18 7 -14 8 -27z"/>
<path fill="#cb181d" d="M1549 206l51 0 -10 83 -2 3 -12 2 -12 1 -10 -2 -3 -1 -2 -2zM1701 206l15 0 1 8 6 13 3 11 7 10 2 11 5 9 0 5 -1 3 -2 0 -5 -5 -5 -10 -7 -10 -4 -10 -6 -9 -8 -22zM1665 311l2 -1 2 3 -3 21 -16 57 -1 8 -13 0 4 -26 8 -19 6 -12 9 -28z"/>
<path fill="#b91219" d="M1552 206l43 0 -8 82 0 2 -3 2 -9 2 -11 0 -10 -2 -2 -2zM1737 271l1 -1 0 2zM1665 313l2 -1 0 2 -2 20 -4 11 -1 10 -11 36 -1 8 -10 0 3 -25 5 -12 3 -8 7 -13z"/>
<path fill="#a50f15" d="M1555 206l36 0 -7 82 -1 2 -2 2 -7 1 -10 0 -6 -1 -3 -2zM1662 327l1 -1 1 1 0 7 -5 10 0 11 -11 34 -1 10 -8 0 3 -24 5 -11 3 -10 8 -11 1 -10z"/>
<path fill="#8b0712" d="M1559 206l28 0 -7 83 -1 2 -3 1 -13 0 -4 -1 -1 -2zM1661 332l1 -1 1 1 -1 3 -1 0zM1655 351l2 -1 0 5 -4 9 -1 11 -5 14 -2 10 -5 0 3 -24 6 -10 3 -10z"/>
<path fill="#69000d" d="M1563 206l21 0 -7 83 -1 2 -3 1 -9 -1 -2 0 -1 -2zM1648 371l2 0 1 4 -6 9 -1 -8 2 -3z"/></g>
<path d="M1594 14 1592 34 1601 53 1606 56 1625 62 1636 71 1650 80 1656 85 1660 91 1661 96 1659 98 1653 102 1639 105 1626 110 1617 111 1609 109 1598 104 1563 95 1471 94 1424 92M1850 71 1836 69 1826 66 1815 58 1804 46 1791 36 1789 33 1791 14M1424 121 1433 123 1447 127 1455 133 1458 139 1455 156 1453 159 1439 166 1424 169M1850 173 1822 173 1810 175 1806 179 1802 192 1798 200M1701 200 1705 189 1713 173 1723 158 1717 137 1722 120 1725 117 1737 114 1850 102M1424 55 1443 56 1507 64 1553 64 1570 68 1583 76 1582 78 1572 82 1553 85 1508 84 1469 86 1424 87M1850 66 1838 65 1831 63 1826 60 1822 56 1817 44 1809 34 1811 14M1608 80 1618 79 1627 82 1634 88 1640 95 1640 97 1624 106 1617 107 1610 105 1603 99 1600 95 1603 84 1608 80M1850 169 1821 167 1808 168 1804 170 1801 173 1796 189 1792 194 1785 196 1765 195 1759 197 1756 200M1712 200 1720 185 1740 170 1752 164 1774 157 1778 138 1775 121 1776 118 1787 115 1850 106M1850 59 1839 57 1835 54 1836 34 1837 14M1424 69 1441 72 1448 74 1451 76 1443 78 1424 80M1614 92 1618 91 1622 92 1625 95 1625 97 1623 98 1619 100 1612 99 1610 96 1611 93 1614 92M1850 161 1835 160 1828 157 1827 154 1825 138 1826 121 1827 118 1833 116 1850 114M1782 173 1788 172 1791 176 1791 180 1788 184 1779 183 1772 179 1776 176 1782 173M1724 200 1729 195 1733 193 1739 194 1743 200" fill="none" stroke="#fff" stroke-width="0.9" stroke-dasharray="1.6 2.4" opacity="0.75"/>
<path d="M1745 209 1750 268 1751 310 1753 311 1758 311 1781 303 1788 303 1792 306 1794 309 1806 362 1813 383 1817 390 1825 396M1424 257 1443 264 1462 264 1467 261 1471 255 1473 250 1470 230 1471 209M1692 306 1685 309 1682 315 1680 374 1682 379 1686 382 1694 379 1702 374 1735 333 1747 315 1746 314 1744 313 1701 305 1692 306M1850 305 1828 300 1804 297 1800 296 1799 293 1805 288 1850 264M1615 396 1621 381 1639 323 1641 311 1639 304 1637 301 1628 300 1590 305 1565 306 1541 304 1529 300 1518 299 1424 299M1829 396 1839 390 1850 380M1740 209 1747 268 1748 291 1746 301 1745 303 1742 304 1712 294 1696 291 1674 282 1672 279 1669 271 1662 263 1655 254 1646 247 1644 248 1630 268 1620 290 1616 293 1594 300 1576 302 1551 301 1536 297 1524 292 1521 290 1524 270 1520 209M1850 296 1842 293 1841 291 1850 284M1625 396 1633 374 1638 350 1645 333 1655 302 1657 297 1661 293 1664 292 1670 292 1673 293 1675 297 1676 315 1672 340 1664 384 1661 396M1741 396 1746 388 1756 376 1774 344 1777 341 1789 361 1798 396M1603 209 1593 290 1591 292 1587 293 1569 295 1552 293 1548 292 1546 290 1546 209M1720 209 1735 246 1740 264 1741 274 1740 280 1739 281 1727 271 1713 250 1703 230 1695 209M1635 396 1640 370 1647 354 1654 340 1662 313 1665 309 1667 309 1669 311 1670 314 1666 335 1650 396" fill="none" stroke="#fff" stroke-width="0.9" stroke-dasharray="1.6 2.4" opacity="0.75"/>
<polygon fill="#fff" points="1617.6,96.6 1569.5,78.1 1570.8,74.7 1558.8,75.2 1567.4,83.6 1568.7,80.2 1616.8,98.6"/>
<polygon fill="#fff" points="1735.9,201 1832.3,153.5 1833.9,156.8 1841.7,147.7 1829.7,148.3 1831.3,151.6 1734.9,199"/>
<g clip-path="url(#bcb)">
<polygon fill="#fff" points="1569.3,292.8 1575,221.1 1578.7,221.3 1574.8,210 1569.2,220.6 1572.8,220.9 1567.1,292.6"/>
<polygon fill="#fff" points="1745.2,293.4 1712.8,220.8 1716.1,219.3 1707.3,211.2 1707.4,223.2 1710.8,221.7 1743.2,294.2"/>
<polygon fill="#fff" points="1647.8,397.3 1666.6,320.7 1670.2,321.6 1668.2,309.8 1661,319.3 1664.5,320.2 1645.6,396.7"/>
<polygon fill="#fff" points="1776.7,397 1776.7,325.7 1780.3,325.7 1775.6,314.7 1770.8,325.7 1774.5,325.7 1774.5,397"/>
</g>
<rect x="1424" y="13.9" width="425.6" height="186.1" fill="none" stroke="#3a3a3a" stroke-width="1.6"/>
<rect x="1424" y="208.9" width="425.6" height="186.7" fill="none" stroke="#3a3a3a" stroke-width="1.6"/>
<path d="M1424 34.6h-3.5M1424 55.3h-7.5M1424 75.9h-3.5M1424 96.6h-7.5M1424 117.3h-3.5M1424 138h-7.5M1424 158.6h-3.5M1424 179.3h-7.5M1424 229.6h-3.5M1424 250.3h-7.5M1424 270.9h-3.5M1424 291.6h-7.5M1424 312.3h-3.5M1424 333h-7.5M1424 353.6h-3.5M1424 374.3h-7.5M1457.2 200v4.5M1496.4 200v2.5M1535.6 200v4.5M1574.8 200v2.5M1614 200v4.5M1653.2 200v2.5M1692.4 200v4.5M1731.6 200v2.5M1770.8 200v4.5M1810 200v2.5M1849.2 200v4.5M1457.2 395.6v4.5M1496.4 395.6v2.5M1535.6 395.6v4.5M1574.8 395.6v2.5M1614 395.6v4.5M1653.2 395.6v2.5M1692.4 395.6v4.5M1731.6 395.6v2.5M1770.8 395.6v4.5M1810 395.6v2.5M1849.2 395.6v4.5" stroke="#555" stroke-width="1.6" fill="none"/>
<rect x="1349.8" y="13" width="52.9" height="84.6" fill="#d7e5f4"/>
<rect x="1349.8" y="115.8" width="52.9" height="83.6" fill="#f6dcdc"/>
<rect x="1349.8" y="209.7" width="52.9" height="84.6" fill="#d7e5f4"/>
<rect x="1349.8" y="312.5" width="52.9" height="83.5" fill="#f6dcdc"/>
<text transform="translate(1376.2 50) scale(1 1.035)" font-size="40" fill="#0d56a6" text-anchor="middle">0.8</text>
<text transform="translate(1376.2 152.3) scale(1 1.035)" font-size="40" fill="#cf1a1d" text-anchor="middle">0.8</text>
<text transform="translate(1376.2 246.2) scale(1 1.035)" font-size="40" fill="#0d56a6" text-anchor="middle">0.8</text>
<text transform="translate(1376.2 348.5) scale(1 1.035)" font-size="40" fill="#cf1a1d" text-anchor="middle">0.8</text>
<text transform="translate(1376.2 89.6) scale(1 1.035)" font-size="40" fill="#0d56a6" text-anchor="middle">0.4</text>
<text transform="translate(1376.2 192.4) scale(1 1.035)" font-size="40" fill="#cf1a1d" text-anchor="middle">0.4</text>
<text transform="translate(1376.2 286.9) scale(1 1.035)" font-size="40" fill="#0d56a6" text-anchor="middle">0.4</text>
<text transform="translate(1376.2 389.7) scale(1 1.035)" font-size="40" fill="#cf1a1d" text-anchor="middle">0.4</text>
<text transform="translate(1342 57) rotate(-90) scale(1 1.035)" font-size="36" fill="#0d56a6" text-anchor="middle">Red</text>
<text transform="translate(1342 152) rotate(-90) scale(1 1.035)" font-size="36" fill="#cf1a1d" text-anchor="middle">Ox</text>
<text transform="translate(1342 251.6) rotate(-90) scale(1 1.035)" font-size="36" fill="#0d56a6" text-anchor="middle">Red</text>
<text transform="translate(1342 348.4) rotate(-90) scale(1 1.035)" font-size="36" fill="#cf1a1d" text-anchor="middle">Ox</text>
<text transform="translate(1287 203) rotate(-90) scale(1 1.035)" font-size="46" fill="#1a1a1a" text-anchor="middle" textLength="273" lengthAdjust="spacingAndGlyphs">Scan(mV s<tspan font-size="23" dy="-19">-1</tspan><tspan dy="19" font-size="1">&#8203;</tspan>)</text>
<text transform="translate(1258.5 34.5) scale(1 1.035)" font-size="46.5" fill="#1a1a1a" font-weight="bold">b</text>
<text transform="translate(1449 437) scale(1 1.035)" font-size="40" fill="#000" text-anchor="middle">-0.4</text>
<text transform="translate(1529 437) scale(1 1.035)" font-size="40" fill="#000" text-anchor="middle">-0.2</text>
<text transform="translate(1611 437) scale(1 1.035)" font-size="40" fill="#000" text-anchor="middle">0.0</text>
<text transform="translate(1691 437) scale(1 1.035)" font-size="40" fill="#000" text-anchor="middle">0.2</text>
<text transform="translate(1771.3 437) scale(1 1.035)" font-size="40" fill="#000" text-anchor="middle">0.4</text>
<text transform="translate(1851.5 437) scale(1 1.035)" font-size="40" fill="#000" text-anchor="middle">0.6</text>
<text transform="translate(1652 490.8) scale(1 1.035)" font-size="44.4" fill="#000" text-anchor="middle">Potential (V vs. Ag/AgCl)</text>
<text transform="translate(1428.6 189.6) scale(1 1.035)" font-size="41.3" fill="#fff" font-weight="bold">in ZnSO<tspan font-size="18" dy="7">4</tspan><tspan dy="-7" font-size="1">&#8203;</tspan></text>
<text transform="translate(1428.6 383.6) scale(1 1.035)" font-size="40.8" fill="#fff" font-weight="bold" letter-spacing="-0.45">in Zn(OTf)<tspan font-size="18" dy="7.5">2</tspan><tspan dy="-7.5" font-size="1">&#8203;</tspan></text>
<rect x="1887" y="26.1" width="29" height="11.9" fill="#69000d"/><rect x="1887" y="37.4" width="29" height="11.9" fill="#69000d"/><rect x="1887" y="48.8" width="29" height="11.9" fill="#8b0712"/><rect x="1887" y="60.1" width="29" height="11.9" fill="#a50f15"/><rect x="1887" y="71.4" width="29" height="11.9" fill="#b91219"/><rect x="1887" y="82.7" width="29" height="11.9" fill="#cb181d"/><rect x="1887" y="94" width="29" height="11.9" fill="#e02922"/><rect x="1887" y="105.4" width="29" height="11.9" fill="#ef3b2c"/><rect x="1887" y="116.7" width="29" height="11.9" fill="#f5553d"/><rect x="1887" y="128" width="29" height="11.9" fill="#fb6a4a"/><rect x="1887" y="139.3" width="29" height="11.9" fill="#fc8262"/><rect x="1887" y="150.7" width="29" height="11.9" fill="#fc9b7e"/><rect x="1887" y="162" width="29" height="11.9" fill="#fcb095"/><rect x="1887" y="173.3" width="29" height="11.9" fill="#fdc6b0"/><rect x="1887" y="184.6" width="29" height="11.9" fill="#fdd5c4"/><rect x="1887" y="196" width="29" height="11.9" fill="#f5e4df"/><rect x="1887" y="207.3" width="29" height="11.9" fill="#e4e8f2"/><rect x="1887" y="218.6" width="29" height="11.9" fill="#d6e4f3"/><rect x="1887" y="229.9" width="29" height="11.9" fill="#c9dcf0"/><rect x="1887" y="241.3" width="29" height="11.9" fill="#b5d3ea"/><rect x="1887" y="252.6" width="29" height="11.9" fill="#a0cae3"/><rect x="1887" y="263.9" width="29" height="11.9" fill="#86bbdc"/><rect x="1887" y="275.2" width="29" height="11.9" fill="#70b0d9"/><rect x="1887" y="286.6" width="29" height="11.9" fill="#5aa2d1"/><rect x="1887" y="297.9" width="29" height="11.9" fill="#4896c9"/><rect x="1887" y="309.2" width="29" height="11.9" fill="#3585c2"/><rect x="1887" y="320.6" width="29" height="11.9" fill="#2474ba"/><rect x="1887" y="331.9" width="29" height="11.9" fill="#1865ae"/><rect x="1887" y="343.2" width="29" height="11.9" fill="#0a56a3"/><rect x="1887" y="354.5" width="29" height="11.9" fill="#08458c"/><rect x="1887" y="365.9" width="29" height="11.9" fill="#0a306b"/><rect x="1887" y="377.2" width="29" height="11.3" fill="#0a306b"/>
<rect x="1887" y="26.1" width="29" height="362.4" fill="none" stroke="#999" stroke-width="1.2"/>
<text transform="translate(1926 42.7) scale(1 1.035)" font-size="35" fill="#6e0d14">High</text>
<text transform="translate(1926.8 395.3) scale(1 1.035)" font-size="35" fill="#0b3c93">Low</text>
<text transform="translate(1973 202) rotate(-90) scale(1 1.035)" font-size="41" fill="#000" text-anchor="middle">Current</text>
</g>
<g id="panel_c">
<defs>
<linearGradient id="ctg" x1="0" y1="0" x2="1" y2="0"><stop offset="0.0000" stop-color="#084084"/><stop offset="0.0047" stop-color="#093e81"/><stop offset="0.0094" stop-color="#093775"/><stop offset="0.0141" stop-color="#0a326e"/><stop offset="0.0188" stop-color="#093573"/><stop offset="0.0235" stop-color="#093979"/><stop offset="0.0282" stop-color="#093878"/><stop offset="0.0329" stop-color="#093776"/><stop offset="0.0376" stop-color="#093776"/><stop offset="0.0423" stop-color="#0a3472"/><stop offset="0.0469" stop-color="#093674"/><stop offset="0.0516" stop-color="#093f82"/><stop offset="0.0563" stop-color="#08468d"/><stop offset="0.0610" stop-color="#08478e"/><stop offset="0.0657" stop-color="#084388"/><stop offset="0.0704" stop-color="#093e81"/><stop offset="0.0751" stop-color="#093c7e"/><stop offset="0.0798" stop-color="#093f83"/><stop offset="0.0845" stop-color="#08458c"/><stop offset="0.0892" stop-color="#08448a"/><stop offset="0.0939" stop-color="#084389"/><stop offset="0.0986" stop-color="#094a92"/><stop offset="0.1033" stop-color="#094f99"/><stop offset="0.1080" stop-color="#094d96"/><stop offset="0.1127" stop-color="#084991"/><stop offset="0.1174" stop-color="#094a93"/><stop offset="0.1221" stop-color="#094e98"/><stop offset="0.1268" stop-color="#094d97"/><stop offset="0.1315" stop-color="#094c96"/><stop offset="0.1362" stop-color="#094f99"/><stop offset="0.1408" stop-color="#0a54a1"/><stop offset="0.1455" stop-color="#0a55a1"/><stop offset="0.1502" stop-color="#094f9a"/><stop offset="0.1549" stop-color="#094d96"/><stop offset="0.1596" stop-color="#094b94"/><stop offset="0.1643" stop-color="#084992"/><stop offset="0.1690" stop-color="#094b94"/><stop offset="0.1737" stop-color="#09509b"/><stop offset="0.1784" stop-color="#0a54a0"/><stop offset="0.1831" stop-color="#0a529d"/><stop offset="0.1878" stop-color="#094f9a"/><stop offset="0.1925" stop-color="#0a529e"/><stop offset="0.1972" stop-color="#09519c"/><stop offset="0.2019" stop-color="#094e98"/><stop offset="0.2066" stop-color="#094f9a"/><stop offset="0.2113" stop-color="#09509b"/><stop offset="0.2160" stop-color="#09519c"/><stop offset="0.2207" stop-color="#094f9a"/><stop offset="0.2254" stop-color="#094d96"/><stop offset="0.2300" stop-color="#09509b"/><stop offset="0.2347" stop-color="#0a55a2"/><stop offset="0.2394" stop-color="#0a56a3"/><stop offset="0.2441" stop-color="#0b57a3"/><stop offset="0.2488" stop-color="#0b58a4"/><stop offset="0.2535" stop-color="#0a55a2"/><stop offset="0.2582" stop-color="#0a529d"/><stop offset="0.2629" stop-color="#09509b"/><stop offset="0.2676" stop-color="#094d97"/><stop offset="0.2723" stop-color="#094c95"/><stop offset="0.2770" stop-color="#094e98"/><stop offset="0.2817" stop-color="#0a54a1"/><stop offset="0.2864" stop-color="#0b57a4"/><stop offset="0.2911" stop-color="#0a56a3"/><stop offset="0.2958" stop-color="#0a55a2"/><stop offset="0.3005" stop-color="#0a529e"/><stop offset="0.3052" stop-color="#09519c"/><stop offset="0.3099" stop-color="#09509b"/><stop offset="0.3146" stop-color="#094f99"/><stop offset="0.3192" stop-color="#0a539e"/><stop offset="0.3239" stop-color="#0a54a1"/><stop offset="0.3286" stop-color="#09519c"/><stop offset="0.3333" stop-color="#09509b"/><stop offset="0.3380" stop-color="#0a529e"/><stop offset="0.3427" stop-color="#0a54a0"/><stop offset="0.3474" stop-color="#0a539f"/><stop offset="0.3521" stop-color="#09529d"/><stop offset="0.3568" stop-color="#09519c"/><stop offset="0.3615" stop-color="#094d97"/><stop offset="0.3662" stop-color="#094c95"/><stop offset="0.3709" stop-color="#094d97"/><stop offset="0.3756" stop-color="#094b94"/><stop offset="0.3803" stop-color="#094c95"/><stop offset="0.3850" stop-color="#094c96"/><stop offset="0.3897" stop-color="#094a92"/><stop offset="0.3944" stop-color="#094b94"/><stop offset="0.3991" stop-color="#094d97"/><stop offset="0.4038" stop-color="#094992"/><stop offset="0.4085" stop-color="#084084"/><stop offset="0.4131" stop-color="#093878"/><stop offset="0.4178" stop-color="#093c7e"/><stop offset="0.4225" stop-color="#084185"/><stop offset="0.4272" stop-color="#084084"/><stop offset="0.4319" stop-color="#094084"/><stop offset="0.4366" stop-color="#084186"/><stop offset="0.4413" stop-color="#084084"/><stop offset="0.4460" stop-color="#084084"/><stop offset="0.4507" stop-color="#084085"/><stop offset="0.4554" stop-color="#093b7d"/><stop offset="0.4601" stop-color="#093f83"/><stop offset="0.4648" stop-color="#08468e"/><stop offset="0.4695" stop-color="#084186"/><stop offset="0.4742" stop-color="#093675"/><stop offset="0.4789" stop-color="#093777"/><stop offset="0.4836" stop-color="#093e81"/><stop offset="0.4883" stop-color="#084084"/><stop offset="0.4930" stop-color="#093b7c"/><stop offset="0.4977" stop-color="#0a3572"/><stop offset="0.5023" stop-color="#0a3573"/><stop offset="0.5070" stop-color="#093a7a"/><stop offset="0.5117" stop-color="#09397a"/><stop offset="0.5164" stop-color="#093573"/><stop offset="0.5211" stop-color="#0a3472"/><stop offset="0.5258" stop-color="#093675"/><stop offset="0.5305" stop-color="#093877"/><stop offset="0.5352" stop-color="#093776"/><stop offset="0.5399" stop-color="#093a7a"/><stop offset="0.5446" stop-color="#093d7f"/><stop offset="0.5493" stop-color="#09397a"/><stop offset="0.5540" stop-color="#093777"/><stop offset="0.5587" stop-color="#093a7b"/><stop offset="0.5634" stop-color="#09397a"/><stop offset="0.5681" stop-color="#093877"/><stop offset="0.5728" stop-color="#0a3370"/><stop offset="0.5775" stop-color="#0a316d"/><stop offset="0.5822" stop-color="#093979"/><stop offset="0.5869" stop-color="#093d80"/><stop offset="0.5915" stop-color="#093f82"/><stop offset="0.5962" stop-color="#084084"/><stop offset="0.6009" stop-color="#093f82"/><stop offset="0.6056" stop-color="#094084"/><stop offset="0.6103" stop-color="#09519c"/><stop offset="0.6150" stop-color="#1865ae"/><stop offset="0.6197" stop-color="#4a97ca"/><stop offset="0.6237" stop-color="#e7e7ef"/><stop offset="0.6258" stop-color="#f24a36"/><stop offset="0.6277" stop-color="#d92320"/><stop offset="0.6296" stop-color="#f6583f"/><stop offset="0.6318" stop-color="#f2e5e2"/><stop offset="0.6338" stop-color="#a8cde6"/><stop offset="0.6385" stop-color="#b1d1e9"/><stop offset="0.6432" stop-color="#aed0e8"/><stop offset="0.6479" stop-color="#9ac7e1"/><stop offset="0.6526" stop-color="#7fb7db"/><stop offset="0.6573" stop-color="#76b3da"/><stop offset="0.6620" stop-color="#6fafd8"/><stop offset="0.6667" stop-color="#5fa5d3"/><stop offset="0.6714" stop-color="#62a7d4"/><stop offset="0.6761" stop-color="#68abd6"/><stop offset="0.6808" stop-color="#76b3da"/><stop offset="0.6854" stop-color="#7fb8db"/><stop offset="0.6901" stop-color="#84badc"/><stop offset="0.6948" stop-color="#84badc"/><stop offset="0.6995" stop-color="#71b1d9"/><stop offset="0.7042" stop-color="#5ea5d2"/><stop offset="0.7089" stop-color="#529ccd"/><stop offset="0.7136" stop-color="#408fc6"/><stop offset="0.7183" stop-color="#3b8ac4"/><stop offset="0.7230" stop-color="#3a8ac4"/><stop offset="0.7277" stop-color="#3a89c4"/><stop offset="0.7324" stop-color="#3a89c4"/><stop offset="0.7365" stop-color="#7cb6db"/><stop offset="0.7387" stop-color="#d5e3f3"/><stop offset="0.7414" stop-color="#d5e3f3"/><stop offset="0.7436" stop-color="#4c98cb"/><stop offset="0.7465" stop-color="#105da8"/><stop offset="0.7512" stop-color="#084890"/><stop offset="0.7559" stop-color="#084388"/><stop offset="0.7606" stop-color="#093e81"/><stop offset="0.7653" stop-color="#093f82"/><stop offset="0.7700" stop-color="#08458c"/><stop offset="0.7746" stop-color="#093f82"/><stop offset="0.7793" stop-color="#093a7b"/><stop offset="0.7840" stop-color="#093f83"/><stop offset="0.7887" stop-color="#093f82"/><stop offset="0.7934" stop-color="#084287"/><stop offset="0.7981" stop-color="#08468d"/><stop offset="0.8028" stop-color="#084389"/><stop offset="0.8075" stop-color="#084288"/><stop offset="0.8122" stop-color="#08458c"/><stop offset="0.8169" stop-color="#094d97"/><stop offset="0.8216" stop-color="#0b57a3"/><stop offset="0.8263" stop-color="#125ea9"/><stop offset="0.8310" stop-color="#1c6ab2"/><stop offset="0.8357" stop-color="#1a68b0"/><stop offset="0.8404" stop-color="#1663ad"/><stop offset="0.8451" stop-color="#0c58a4"/><stop offset="0.8498" stop-color="#094b94"/><stop offset="0.8545" stop-color="#08478f"/><stop offset="0.8592" stop-color="#084389"/><stop offset="0.8638" stop-color="#093e81"/><stop offset="0.8685" stop-color="#093f82"/><stop offset="0.8732" stop-color="#08448a"/><stop offset="0.8779" stop-color="#094f99"/><stop offset="0.8826" stop-color="#0a56a3"/><stop offset="0.8873" stop-color="#094c95"/><stop offset="0.8920" stop-color="#084389"/><stop offset="0.8967" stop-color="#08448b"/><stop offset="0.9014" stop-color="#084991"/><stop offset="0.9061" stop-color="#094e98"/><stop offset="0.9108" stop-color="#0a529d"/><stop offset="0.9155" stop-color="#0e5aa6"/><stop offset="0.9202" stop-color="#0e5aa6"/><stop offset="0.9249" stop-color="#0a539f"/><stop offset="0.9296" stop-color="#094f99"/><stop offset="0.9343" stop-color="#094d97"/><stop offset="0.9390" stop-color="#094e98"/><stop offset="0.9437" stop-color="#094e99"/><stop offset="0.9484" stop-color="#094e98"/><stop offset="0.9531" stop-color="#094c96"/><stop offset="0.9577" stop-color="#094b94"/><stop offset="0.9624" stop-color="#094b94"/><stop offset="0.9671" stop-color="#084991"/><stop offset="0.9718" stop-color="#08458c"/><stop offset="0.9765" stop-color="#084287"/><stop offset="0.9812" stop-color="#093e81"/><stop offset="0.9859" stop-color="#084186"/><stop offset="0.9906" stop-color="#08468d"/><stop offset="0.9953" stop-color="#08468d"/><stop offset="1.0000" stop-color="#08478e"/></linearGradient>
<linearGradient id="cbg" x1="0" y1="0" x2="1" y2="0"><stop offset="0.0000" stop-color="#0a306b"/><stop offset="0.0047" stop-color="#0a306b"/><stop offset="0.0094" stop-color="#0a306b"/><stop offset="0.0141" stop-color="#0a306b"/><stop offset="0.0188" stop-color="#0a306b"/><stop offset="0.0235" stop-color="#0a306b"/><stop offset="0.0282" stop-color="#0a306b"/><stop offset="0.0329" stop-color="#0a306b"/><stop offset="0.0376" stop-color="#0a306b"/><stop offset="0.0423" stop-color="#0a306b"/><stop offset="0.0469" stop-color="#0a306b"/><stop offset="0.0516" stop-color="#0a306b"/><stop offset="0.0563" stop-color="#0a306b"/><stop offset="0.0610" stop-color="#0a306b"/><stop offset="0.0657" stop-color="#0a306b"/><stop offset="0.0704" stop-color="#0a306b"/><stop offset="0.0751" stop-color="#0a306b"/><stop offset="0.0798" stop-color="#0a306b"/><stop offset="0.0845" stop-color="#0a306b"/><stop offset="0.0892" stop-color="#0a306b"/><stop offset="0.0939" stop-color="#0a316c"/><stop offset="0.0986" stop-color="#0a306c"/><stop offset="0.1033" stop-color="#0a316c"/><stop offset="0.1080" stop-color="#0a3472"/><stop offset="0.1127" stop-color="#0a306b"/><stop offset="0.1174" stop-color="#0a306b"/><stop offset="0.1221" stop-color="#0a306b"/><stop offset="0.1268" stop-color="#0a306b"/><stop offset="0.1315" stop-color="#0a306b"/><stop offset="0.1362" stop-color="#0a306b"/><stop offset="0.1408" stop-color="#0a306b"/><stop offset="0.1455" stop-color="#0a306b"/><stop offset="0.1502" stop-color="#0a306b"/><stop offset="0.1549" stop-color="#0a306b"/><stop offset="0.1596" stop-color="#0a306b"/><stop offset="0.1643" stop-color="#0a306b"/><stop offset="0.1690" stop-color="#0a306b"/><stop offset="0.1737" stop-color="#0a3370"/><stop offset="0.1784" stop-color="#0a3573"/><stop offset="0.1831" stop-color="#0a326f"/><stop offset="0.1878" stop-color="#0a326f"/><stop offset="0.1925" stop-color="#0a3370"/><stop offset="0.1972" stop-color="#0a3370"/><stop offset="0.2019" stop-color="#0a306c"/><stop offset="0.2066" stop-color="#0a306b"/><stop offset="0.2113" stop-color="#0a306b"/><stop offset="0.2160" stop-color="#0a3573"/><stop offset="0.2207" stop-color="#093a7b"/><stop offset="0.2254" stop-color="#093574"/><stop offset="0.2300" stop-color="#0a3370"/><stop offset="0.2347" stop-color="#093675"/><stop offset="0.2394" stop-color="#0a3471"/><stop offset="0.2441" stop-color="#0a316d"/><stop offset="0.2488" stop-color="#0a316d"/><stop offset="0.2535" stop-color="#0a316c"/><stop offset="0.2582" stop-color="#0a306b"/><stop offset="0.2629" stop-color="#0a306b"/><stop offset="0.2676" stop-color="#0a316d"/><stop offset="0.2723" stop-color="#0a3472"/><stop offset="0.2770" stop-color="#093573"/><stop offset="0.2817" stop-color="#0a316c"/><stop offset="0.2864" stop-color="#0a306b"/><stop offset="0.2911" stop-color="#0a336f"/><stop offset="0.2958" stop-color="#093878"/><stop offset="0.3005" stop-color="#0a3471"/><stop offset="0.3052" stop-color="#0a306b"/><stop offset="0.3099" stop-color="#0a306b"/><stop offset="0.3146" stop-color="#0a306b"/><stop offset="0.3192" stop-color="#0a306b"/><stop offset="0.3239" stop-color="#0a316d"/><stop offset="0.3286" stop-color="#0a3472"/><stop offset="0.3333" stop-color="#0a336f"/><stop offset="0.3380" stop-color="#0a326f"/><stop offset="0.3427" stop-color="#093775"/><stop offset="0.3474" stop-color="#093674"/><stop offset="0.3521" stop-color="#0a326e"/><stop offset="0.3568" stop-color="#0a316d"/><stop offset="0.3615" stop-color="#0a326d"/><stop offset="0.3662" stop-color="#0a306b"/><stop offset="0.3709" stop-color="#0a306b"/><stop offset="0.3756" stop-color="#0a306b"/><stop offset="0.3803" stop-color="#0a336f"/><stop offset="0.3850" stop-color="#0a306b"/><stop offset="0.3897" stop-color="#0a306b"/><stop offset="0.3944" stop-color="#0a306b"/><stop offset="0.3991" stop-color="#0a306b"/><stop offset="0.4038" stop-color="#0a306b"/><stop offset="0.4085" stop-color="#0a336f"/><stop offset="0.4131" stop-color="#0a3472"/><stop offset="0.4178" stop-color="#0a326e"/><stop offset="0.4225" stop-color="#0a306b"/><stop offset="0.4272" stop-color="#0a306b"/><stop offset="0.4319" stop-color="#0a306b"/><stop offset="0.4366" stop-color="#0a306b"/><stop offset="0.4413" stop-color="#0a306b"/><stop offset="0.4460" stop-color="#0a306b"/><stop offset="0.4507" stop-color="#0a3471"/><stop offset="0.4554" stop-color="#0a316d"/><stop offset="0.4601" stop-color="#0a306b"/><stop offset="0.4648" stop-color="#0a306b"/><stop offset="0.4695" stop-color="#0a306b"/><stop offset="0.4742" stop-color="#0a306b"/><stop offset="0.4789" stop-color="#0a306b"/><stop offset="0.4836" stop-color="#0a306b"/><stop offset="0.4883" stop-color="#0a306b"/><stop offset="0.4930" stop-color="#0a306b"/><stop offset="0.4977" stop-color="#0a316d"/><stop offset="0.5023" stop-color="#0a3370"/><stop offset="0.5070" stop-color="#0a326e"/><stop offset="0.5117" stop-color="#0a306b"/><stop offset="0.5164" stop-color="#0a306b"/><stop offset="0.5211" stop-color="#0a306b"/><stop offset="0.5258" stop-color="#0a316d"/><stop offset="0.5305" stop-color="#0a306b"/><stop offset="0.5352" stop-color="#0a306b"/><stop offset="0.5399" stop-color="#0a306b"/><stop offset="0.5446" stop-color="#0a306b"/><stop offset="0.5493" stop-color="#0a306b"/><stop offset="0.5540" stop-color="#0a306b"/><stop offset="0.5587" stop-color="#0a306b"/><stop offset="0.5634" stop-color="#0a306b"/><stop offset="0.5681" stop-color="#0a306b"/><stop offset="0.5728" stop-color="#0a306b"/><stop offset="0.5775" stop-color="#0a306c"/><stop offset="0.5822" stop-color="#0a316d"/><stop offset="0.5869" stop-color="#0a3471"/><stop offset="0.5915" stop-color="#0a3572"/><stop offset="0.5962" stop-color="#093574"/><stop offset="0.6009" stop-color="#093979"/><stop offset="0.6056" stop-color="#093b7c"/><stop offset="0.6103" stop-color="#093b7d"/><stop offset="0.6150" stop-color="#093f83"/><stop offset="0.6199" stop-color="#73b2d9"/><stop offset="0.6221" stop-color="#fc8666"/><stop offset="0.6242" stop-color="#f96446"/><stop offset="0.6264" stop-color="#fcbba2"/><stop offset="0.6285" stop-color="#d5e3f3"/><stop offset="0.6312" stop-color="#cedff1"/><stop offset="0.6339" stop-color="#2d7dbe"/><stop offset="0.6385" stop-color="#0a539e"/><stop offset="0.6432" stop-color="#09509b"/><stop offset="0.6479" stop-color="#094f9a"/><stop offset="0.6526" stop-color="#09509b"/><stop offset="0.6573" stop-color="#094e98"/><stop offset="0.6620" stop-color="#094b94"/><stop offset="0.6667" stop-color="#094992"/><stop offset="0.6714" stop-color="#084890"/><stop offset="0.6761" stop-color="#084891"/><stop offset="0.6808" stop-color="#094a93"/><stop offset="0.6854" stop-color="#094b94"/><stop offset="0.6901" stop-color="#094a92"/><stop offset="0.6948" stop-color="#084890"/><stop offset="0.6995" stop-color="#08468e"/><stop offset="0.7042" stop-color="#08458c"/><stop offset="0.7089" stop-color="#08458b"/><stop offset="0.7136" stop-color="#08478f"/><stop offset="0.7183" stop-color="#094b94"/><stop offset="0.7230" stop-color="#094e98"/><stop offset="0.7277" stop-color="#094d97"/><stop offset="0.7324" stop-color="#09509b"/><stop offset="0.7371" stop-color="#4c98cb"/><stop offset="0.7392" stop-color="#c0d8ed"/><stop offset="0.7430" stop-color="#c0d8ed"/><stop offset="0.7452" stop-color="#2d7dbe"/><stop offset="0.7512" stop-color="#084388"/><stop offset="0.7559" stop-color="#093878"/><stop offset="0.7606" stop-color="#093776"/><stop offset="0.7653" stop-color="#0a3370"/><stop offset="0.7700" stop-color="#093674"/><stop offset="0.7746" stop-color="#093979"/><stop offset="0.7793" stop-color="#093776"/><stop offset="0.7840" stop-color="#093a7a"/><stop offset="0.7887" stop-color="#093d7f"/><stop offset="0.7934" stop-color="#093e80"/><stop offset="0.7981" stop-color="#093777"/><stop offset="0.8028" stop-color="#0a326e"/><stop offset="0.8075" stop-color="#093c7d"/><stop offset="0.8122" stop-color="#08448a"/><stop offset="0.8169" stop-color="#084891"/><stop offset="0.8216" stop-color="#0e5aa6"/><stop offset="0.8263" stop-color="#1c6ab2"/><stop offset="0.8310" stop-color="#2271b8"/><stop offset="0.8357" stop-color="#1c6ab2"/><stop offset="0.8404" stop-color="#1562ac"/><stop offset="0.8451" stop-color="#0a529e"/><stop offset="0.8498" stop-color="#084186"/><stop offset="0.8545" stop-color="#084288"/><stop offset="0.8592" stop-color="#084287"/><stop offset="0.8638" stop-color="#093c7e"/><stop offset="0.8685" stop-color="#093878"/><stop offset="0.8732" stop-color="#094b94"/><stop offset="0.8779" stop-color="#094f9a"/><stop offset="0.8826" stop-color="#084389"/><stop offset="0.8873" stop-color="#08448a"/><stop offset="0.8920" stop-color="#084287"/><stop offset="0.8967" stop-color="#084084"/><stop offset="0.9014" stop-color="#084186"/><stop offset="0.9061" stop-color="#093f82"/><stop offset="0.9108" stop-color="#094c96"/><stop offset="0.9155" stop-color="#09509b"/><stop offset="0.9202" stop-color="#084185"/><stop offset="0.9249" stop-color="#084084"/><stop offset="0.9296" stop-color="#084288"/><stop offset="0.9343" stop-color="#093d7f"/><stop offset="0.9390" stop-color="#09397a"/><stop offset="0.9437" stop-color="#093b7c"/><stop offset="0.9484" stop-color="#094083"/><stop offset="0.9531" stop-color="#093f83"/><stop offset="0.9577" stop-color="#09397a"/><stop offset="0.9624" stop-color="#093979"/><stop offset="0.9671" stop-color="#09397a"/><stop offset="0.9718" stop-color="#093877"/><stop offset="0.9765" stop-color="#0a3573"/><stop offset="0.9812" stop-color="#0a326e"/><stop offset="0.9859" stop-color="#0a306b"/><stop offset="0.9906" stop-color="#0a326e"/><stop offset="0.9953" stop-color="#0a3471"/><stop offset="1.0000" stop-color="#0a326f"/></linearGradient>
<radialGradient id="cb1"><stop offset="0" stop-color="#9ecae1" stop-opacity="0.78"/><stop offset="0.35" stop-color="#9ecae1" stop-opacity="0.62"/><stop offset="0.65" stop-color="#9ecae1" stop-opacity="0.3"/><stop offset="1" stop-color="#9ecae1" stop-opacity="0"/></radialGradient>
<radialGradient id="cb2"><stop offset="0" stop-color="#e8f0f8" stop-opacity="0.95"/><stop offset="0.3" stop-color="#c6dbef" stop-opacity="0.8"/><stop offset="0.6" stop-color="#9ecae1" stop-opacity="0.4"/><stop offset="1" stop-color="#9ecae1" stop-opacity="0"/></radialGradient>
<radialGradient id="cw"><stop offset="0" stop-color="#e4eef8" stop-opacity="0.9"/><stop offset="0.5" stop-color="#c6dbef" stop-opacity="0.6"/><stop offset="1" stop-color="#9ecae1" stop-opacity="0"/></radialGradient>
<radialGradient id="cr"><stop offset="0" stop-color="#7a0410" stop-opacity="1"/><stop offset="0.35" stop-color="#c4161c" stop-opacity="1"/><stop offset="0.7" stop-color="#f0452f" stop-opacity="0.95"/><stop offset="0.9" stop-color="#fc9272" stop-opacity="0.8"/><stop offset="1" stop-color="#fee0d2" stop-opacity="0"/></radialGradient>
<radialGradient id="cr2"><stop offset="0" stop-color="#a50f15" stop-opacity="1"/><stop offset="0.4" stop-color="#e32f27" stop-opacity="1"/><stop offset="0.75" stop-color="#fb6a4a" stop-opacity="0.9"/><stop offset="1" stop-color="#fee0d2" stop-opacity="0"/></radialGradient>
<linearGradient id="cfade" x1="0" y1="0" x2="0" y2="1"><stop offset="0" stop-color="#fff" stop-opacity="0"/><stop offset="1" stop-color="#fff" stop-opacity="1"/></linearGradient>
<clipPath id="cct"><rect x="186.8" y="598.0" width="426.6" height="545.8"/></clipPath>
<clipPath id="ccb"><rect x="186.8" y="1170.0" width="426.6" height="545.7"/></clipPath>
<linearGradient id="cst" gradientUnits="userSpaceOnUse" x1="520" y1="0" x2="614" y2="0"><stop offset="0" stop-color="#9ecae1" stop-opacity="0"/><stop offset="0.0426" stop-color="#a9d1e8" stop-opacity="0"/><stop offset="0.0633" stop-color="#a9d1e8" stop-opacity="0.2"/><stop offset="0.0856" stop-color="#a9d1e8" stop-opacity="0.2"/><stop offset="0.1064" stop-color="#a9d1e8" stop-opacity="0"/><stop offset="0.1957" stop-color="#a9d1e8" stop-opacity="0"/><stop offset="0.2193" stop-color="#a9d1e8" stop-opacity="0.75"/><stop offset="0.2446" stop-color="#a9d1e8" stop-opacity="0.75"/><stop offset="0.2681" stop-color="#a9d1e8" stop-opacity="0"/><stop offset="0.2926" stop-color="#a9d1e8" stop-opacity="0"/><stop offset="0.3133" stop-color="#a9d1e8" stop-opacity="0.2"/><stop offset="0.3356" stop-color="#a9d1e8" stop-opacity="0.2"/><stop offset="0.3564" stop-color="#a9d1e8" stop-opacity="0"/><stop offset="0.3670" stop-color="#a9d1e8" stop-opacity="0"/><stop offset="0.3843" stop-color="#a9d1e8" stop-opacity="0.12"/><stop offset="0.4029" stop-color="#a9d1e8" stop-opacity="0.12"/><stop offset="0.4202" stop-color="#a9d1e8" stop-opacity="0"/><stop offset="0.4255" stop-color="#a9d1e8" stop-opacity="0"/><stop offset="0.4463" stop-color="#a9d1e8" stop-opacity="0.3"/><stop offset="0.4686" stop-color="#a9d1e8" stop-opacity="0.3"/><stop offset="0.4894" stop-color="#a9d1e8" stop-opacity="0"/><stop offset="0.5053" stop-color="#a9d1e8" stop-opacity="0"/><stop offset="0.5226" stop-color="#a9d1e8" stop-opacity="0.12"/><stop offset="0.5412" stop-color="#a9d1e8" stop-opacity="0.12"/><stop offset="0.5585" stop-color="#a9d1e8" stop-opacity="0"/><stop offset="0.5809" stop-color="#a9d1e8" stop-opacity="0"/><stop offset="0.6016" stop-color="#a9d1e8" stop-opacity="0.32"/><stop offset="0.6239" stop-color="#a9d1e8" stop-opacity="0.32"/><stop offset="0.6447" stop-color="#a9d1e8" stop-opacity="0"/><stop offset="0.6436" stop-color="#a9d1e8" stop-opacity="0"/><stop offset="0.6609" stop-color="#a9d1e8" stop-opacity="0.15"/><stop offset="0.6795" stop-color="#a9d1e8" stop-opacity="0.15"/><stop offset="0.6968" stop-color="#a9d1e8" stop-opacity="0"/><stop offset="0.7011" stop-color="#a9d1e8" stop-opacity="0"/><stop offset="0.7184" stop-color="#a9d1e8" stop-opacity="0.3"/><stop offset="0.7370" stop-color="#a9d1e8" stop-opacity="0.3"/><stop offset="0.7543" stop-color="#a9d1e8" stop-opacity="0"/><stop offset="0.7766" stop-color="#a9d1e8" stop-opacity="0"/><stop offset="0.7973" stop-color="#a9d1e8" stop-opacity="0.18"/><stop offset="0.8197" stop-color="#a9d1e8" stop-opacity="0.18"/><stop offset="0.8404" stop-color="#a9d1e8" stop-opacity="0"/><stop offset="0.8564" stop-color="#a9d1e8" stop-opacity="0"/><stop offset="0.8737" stop-color="#a9d1e8" stop-opacity="0.12"/><stop offset="0.8923" stop-color="#a9d1e8" stop-opacity="0.12"/><stop offset="0.9096" stop-color="#a9d1e8" stop-opacity="0"/><stop offset="0.9096" stop-color="#a9d1e8" stop-opacity="0"/><stop offset="0.9269" stop-color="#a9d1e8" stop-opacity="0.2"/><stop offset="0.9455" stop-color="#a9d1e8" stop-opacity="0.2"/><stop offset="0.9628" stop-color="#a9d1e8" stop-opacity="0"/></linearGradient>
<linearGradient id="cmg1" gradientUnits="userSpaceOnUse" x1="0" y1="900" x2="0" y2="1144"><stop offset="0" stop-color="#000"/><stop offset=".35" stop-color="#777"/><stop offset=".7" stop-color="#ddd"/><stop offset="1" stop-color="#fff"/></linearGradient>
<mask id="cmk1" maskUnits="userSpaceOnUse" x="520" y="900" width="94" height="244"><rect x="520" y="900" width="94" height="244" fill="url(#cmg1)"/></mask>
<linearGradient id="cmg2" gradientUnits="userSpaceOnUse" x1="0" y1="1440" x2="0" y2="1716"><stop offset="0" stop-color="#000"/><stop offset=".2" stop-color="#aaa"/><stop offset=".4" stop-color="#fff"/><stop offset=".6" stop-color="#999"/><stop offset=".8" stop-color="#bbb"/><stop offset="1" stop-color="#fff"/></linearGradient>
<mask id="cmk2" maskUnits="userSpaceOnUse" x="520" y="1440" width="94" height="276"><rect x="520" y="1440" width="94" height="276" fill="url(#cmg2)"/></mask>
<linearGradient id="cpk" x1="0" y1="0" x2="0" y2="1"><stop offset="0" stop-color="#f4a08a" stop-opacity="0"/><stop offset=".4" stop-color="#f4a08a" stop-opacity=".9"/><stop offset="1" stop-color="#f4a08a" stop-opacity=".95"/></linearGradient>
<filter id="cbl5" x="-20%" y="-20%" width="140%" height="140%"><feGaussianBlur stdDeviation="4.5"/></filter>
<filter id="cbl1" x="-20%" y="-20%" width="140%" height="140%"><feGaussianBlur stdDeviation="0.55 1.4"/></filter>
<filter id="cblur" x="-50%" y="-50%" width="200%" height="200%"><feGaussianBlur stdDeviation="13"/></filter>
<filter id="cbl2" x="-50%" y="-20%" width="200%" height="140%"><feGaussianBlur stdDeviation="1.1 3"/></filter>
</defs>
<g clip-path="url(#cct)">
<rect x="186.8" y="598" width="426.6" height="545.8" fill="url(#ctg)"/>
<g filter="url(#cbl5)"><path fill="#1865ae" d="M253 934l11 -2 52 0 6 1 8 3 6 4 5 6 4 8 2 12 1 14 0 54 -3 34 -5 20 -5 14 -7 10 -10 9 -2 1 -54 -1 -8 -6 -8 -8 -5 -9 -4 -10 -6 -22 -3 -26 0 -16 0 -54 3 -14 5 -10 4 -5 4 -3z"/>
<path fill="#2474ba" d="M260 942l60 0 6 2 5 4 4 4 4 8 2 8 1 10 0 50 -1 16 -4 20 -4 14 -7 11 -6 5 -4 1 -54 0 -6 -3 -4 -4 -5 -6 -4 -8 -4 -14 -4 -24 0 -64 3 -10 5 -10 7 -6 6 -3z"/>
<path fill="#3585c2" d="M259 948l5 -1 54 0 6 2 4 3 3 4 3 5 3 7 1 10 0 48 -1 12 -3 18 -4 12 -4 7 -6 6 -4 1 -54 0 -4 -2 -4 -3 -6 -9 -5 -16 -4 -18 0 -58 2 -10 4 -8 7 -7z"/>
<path fill="#4896c9" d="M258 954l6 -1 54 0 4 1 4 3 5 7 2 6 1 8 0 48 0 10 -3 14 -4 10 -5 8 -4 3 -56 0 -6 -4 -5 -7 -4 -12 -3 -16 -1 -54 2 -8 2 -6 5 -6z"/>
<path fill="#5aa2d1" d="M260 958l4 -1 54 1 6 3 4 5 2 6 1 6 0 54 -2 10 -3 9 -4 7 -4 4 -54 0 -4 -1 -2 -2 -4 -5 -5 -12 -2 -12 0 -52 1 -6 3 -6 3 -4z"/>
<path fill="#70b0d9" d="M258 964l6 -2 52 0 4 1 4 4 3 5 1 6 0 50 -1 8 -3 8 -2 4 -4 4 -54 1 -4 -2 -4 -5 -4 -9 -1 -9 -1 -48 1 -6 2 -4 3 -4z"/>
<path fill="#86bbdc" d="M260 970l4 -1 52 0 2 0 3 3 2 4 1 4 0 46 -2 9 -2 4 -2 2 -2 1 -52 0 -4 -2 -3 -6 -1 -6 -1 -48 2 -6z"/></g>
<ellipse cx="482.5" cy="963" rx="19" ry="60" fill="url(#cw)"/>
<g filter="url(#cbl1)"><path fill="#d6e4f3" d="M452.5 896l4.9 0 0 12 0.9 1.5 3.2 2.4 1.1 2.1 8.1 33.1 1.6 10.5 0.6 10.5 -0.3 7.6 -1.3 10.5 -9.4 39.1 -4 24 -0.5 10.5 0 84.2 -2.9 0.2 -2 -0.2z"/>
<path fill="#e4e8f2" d="M452.7 896l4.3 0 0 12 0.8 1.5 3.7 3 1 2.2 8 33 1.5 9.9 0.6 10.5 -0.6 10.6 -1.3 9 -10 42.1 -2.9 19.5 -0.8 10.5 0 84.2 -2.5 0.2 -1.8 -0.2z"/>
<path fill="#f5e4df" d="M452.9 896l3.6 0 0 12 0.6 1.5 3.9 3 1.4 3 7.6 32.6 1.5 10.5 0.5 9.5 -0.5 9.7 -1.5 10.5 -8.9 38.5 -3.5 22.5 -1.1 18 0 76.7 -2 0.2 -1.6 -0.2z"/>
<path fill="#fdd5c4" d="M453 896l3.3 0 0.1 13.5 3.8 3 1.4 3 7.3 33.1 1.4 10.5 0.4 9 -0.4 9.1 -1.1 9 -8.7 40.6 -3.4 25.5 -0.8 15 0 76.7 -1.8 0.2 -1.5 -0.2z"/>
<path fill="#fdc6b0" d="M453.1 896l3 0 0.1 13.5 3.2 3 1.5 3 6.8 33.1 1.4 10.5 0.4 9 -0.3 9.1 -1.1 9 -8.1 39.8 -3 23 -0.9 16.8 0 78.2 -1.6 0.1 -1.4 -0.1z"/>
<path fill="#fcb095" d="M453.2 896l2.8 0 0 13.8 3 3.2 1.2 2.5 6.7 34.6 1.5 18 -1.2 16.6 -7.7 40.6 -2.9 24 -0.6 12 0 82.7 -1.5 0.1 -1.3 -0.1z"/>
<path fill="#fc9b7e" d="M453.3 896l2.5 0 0.2 14.8 2 1.7 1.5 3 6.4 34.6 1.4 18 -1.3 18.1 -7 38.6 -2.6 23 -0.6 13.5 0 82.7 -1.3 0.1 -1.2 -0.1z"/>
<path fill="#fc8262" d="M453.4 896l2.3 0 0.1 15 2.6 3 0.4 1.5 6.2 36 1.2 16.6 -1.2 18.3 -6.3 35.9 -2.6 24 -0.4 15 0 82.7 -1.2 0.1 -1.1 -0.1z"/>
<path fill="#fb6a4a" d="M453.6 896l2 0 0 15 2.3 4.5 4.6 28.6 1.8 13.5 0.5 10.5 -0.9 16.6 -5.9 37.1 -2.2 23 -0.2 99.2 -1.1 0.1 -0.9 -0.1z"/>
<path fill="#f5553d" d="M453.8 896l1.6 0 0.1 16.3 1.6 3.2 4.7 31.6 1.3 12 0.4 10.5 -0.8 15.1 -5.3 36.1 -1.9 20.7 -0.1 102.5 -0.9 0.1 -0.7 -0.1z"/>
<path fill="#ef3b2c" d="M453.9 896l1.2 0 0.1 16.5 1.2 3 4.7 34.6 1.3 19.5 -0.8 15.1 -4.7 34.5 -1.7 19.6 -0.1 105.2 -0.6 0 -0.6 0 -0.1 -61.6z"/>
<path fill="#e02922" d="M454.2 896l0.6 0 0 16.5 0.9 3 4.5 36.1 1.1 18 -0.7 15.1 -4.2 33 -1.6 19.6 -0.3 106.7 -0.8 -142.8 0.1 -85.7 0.4 -4.5z"/>
<path fill="#cb181d" d="M453.9 914l0.1 -0.9 0.5 0.2 4.6 36.8 1.3 19.5 -0.7 15.1 -4.8 43.6 -0.9 40.1z"/>
<path fill="#b91219" d="M454 914l4.6 40.6 0.8 15 -0.6 13.6 -3.7 34.5 -1.1 20.5z"/>
<path fill="#a50f15" d="M454 920l0 -0.8 3.7 36.9 0.7 15.1 -0.6 13.5 -3.8 40.4z"/>
<path fill="#8b0712" d="M454 929.1l0 -1 2.9 28 0.6 15.1 -0.5 13.5 -3 31.5z"/>
<path fill="#69000d" d="M454 935.1l2.2 22.5 0.5 13.6 -0.5 13.5 -2.2 24.5z"/></g>
<rect x="520" y="900" width="94" height="244" fill="url(#cst)" mask="url(#cmk1)"/>
<rect x="500.6" y="1040" width="3" height="105" fill="url(#cpk)"/>
<rect x="453.6" y="1086" width="2.8" height="60" fill="#f9c4b6" opacity=".75"/>
</g>
<g clip-path="url(#ccb)">
<rect x="186.8" y="1170" width="426.6" height="545.7" fill="url(#cbg)"/>
<g filter="url(#cbl5)"><path fill="#08458c" d="M249 1474l33 -2 14 1 16 4 16 6 12 8 3 5 5 16 2 18 1 18 -2 16 -3 17 -4 10 -4 4 -19 13 -7 7 -4 8 -9 27 -4 8 -6 8 -5 5 -6 4 -8 4 -6 1 -8 -1 -8 -3 -8 -5 -7 -7 -3 -6 -2 -6 -2 -20 -1 -40 -4 -46 0 -20 1 -16 3 -14 5 -12 2 -2 6 -4 6 -3z"/>
<path fill="#0a56a3" d="M242 1492l4 -1 6 -1 18 3 20 1 10 1 10 4 12 7 9 8 7 10 2 6 1 6 0 8 -1 9 -2 7 -4 6 -5 6 -5 5 -22 15 -6 6 -5 8 -6 24 -4 10 -7 8 -4 3 -6 1 -6 0 -6 -3 -6 -5 -4 -8 -3 -6 -1 -8 -1 -22 -1 -8 -7 -20 -3 -16 -1 -12 0 -12 2 -20 2 -6 3 -5 4 -5z"/>
<path fill="#1865ae" d="M244 1500l4 -1 4 0 18 6 22 2 12 3 8 5 7 7 5 8 2 8 0 8 -1 6 -3 6 -4 6 -6 5 -6 5 -23 12 -5 4 -4 4 -2 6 -2 14 -1 6 -3 5 -4 1 -4 -2 -3 -6 0 -6 1 -14 -1 -6 -4 -6 -11 -11 -5 -7 -4 -8 -2 -10 -1 -16 2 -16 2 -6 4 -6 4 -4z"/>
<path fill="#2474ba" d="M243 1506l5 -2 6 1 18 10 22 2 10 5 6 6 3 4 2 6 0 6 -1 4 -4 8 -6 7 -6 4 -10 4 -6 1 -26 2 -6 -1 -6 -3 -6 -6 -3 -6 -4 -10 -1 -10 1 -10 2 -8 4 -8z"/>
<path fill="#3585c2" d="M246 1508l4 -1 6 2 16 12 4 1 14 1 6 2 4 3 5 6 2 6 -1 8 -3 6 -5 4 -4 3 -10 3 -14 1 -16 4 -6 -1 -4 -3 -5 -5 -4 -8 -2 -8 -1 -10 1 -8 3 -8 4 -6z"/>
<path fill="#4896c9" d="M244 1512l4 -2 6 1 6 5 10 10 4 3 14 2 4 2 3 3 2 4 0 4 -1 4 -4 4 -4 2 -18 3 -14 7 -6 0 -6 -2 -4 -5 -3 -5 -2 -8 -1 -8 1 -8 2 -8 3 -5z"/>
<path fill="#5aa2d1" d="M244 1514l6 -1 4 1 4 3 8 9 9 16 -1 4 -8 8 -6 5 -6 2 -6 0 -5 -3 -4 -6 -3 -8 -1 -10 2 -8 3 -8z"/>
<path fill="#70b0d9" d="M245 1516l5 -1 4 1 2 2 7 8 2 6 2 6 0 6 -4 8 -5 4 -6 3 -6 -1 -4 -4 -3 -6 -2 -6 0 -8 1 -8 3 -6z"/>
<path fill="#86bbdc" d="M245 1518l5 -1 6 3 4 6 3 8 0 8 -2 6 -4 6 -5 2 -4 0 -4 -3 -4 -5 -2 -6 0 -8 1 -6 2 -6z"/>
<path fill="#a0cae3" d="M246 1520l4 -1 5 3 4 6 2 6 0 6 -2 6 -3 5 -4 2 -4 0 -4 -2 -3 -5 -1 -6 -1 -6 1 -6 2 -4z"/>
<path fill="#b5d3ea" d="M248 1522l4 1 3 3 2 4 2 6 -1 6 -1 4 -3 3 -4 2 -4 -2 -2 -2 -2 -4 -1 -5 0 -6 1 -4 2 -3z"/>
<path fill="#c9dcf0" d="M246 1526l2 -1 4 1 3 4 1 4 0 8 -3 4 -3 2 -4 -2 -3 -6 0 -8 1 -4z"/>
<path fill="#d6e4f3" d="M248 1528l2 0 2 2 2 4 0 6 -2 3 -2 1 -2 0 -2 -2 -2 -4 1 -6 1 -2z"/>
<path fill="#e4e8f2" d="M247 1534l1 -1 2 0 1 1 0 2 -1 3 -2 0 -1 -1z"/></g>
<g filter="url(#cbl1)"><path fill="#3585c2" d="M450.3 1476l2.7 -0.4 5.1 0.4 0.9 7.1 2.5 4.6 3 10.4 1.7 -2.5 1.3 -1 1 0.2 1.7 2.3 2 6 3.8 17.8 4 9.2 0.8 6.1 -0.3 5.6 -0.9 4.9 -3.1 8.5 -5.5 19.9 -3 4.7 -1.5 0.7 -1.5 -0.1 -3.5 6.1 -2.5 2.7 -1.5 21 -0.1 59.8 -4.4 0.4 -2.6 -0.4 -0.6 -130.8zM500.8 1476l4 0 0 194 -1.3 0.3 -2.7 -0.3z"/>
<path fill="#4896c9" d="M450.6 1476l7 0 1.4 10.3 2.5 4.9 3 11 2 -4.3 1 -0.7 1.5 0.5 1.5 2.6 1.6 5.8 1.7 9 2.5 22.6 -1.5 16.5 -1.5 9 -2.3 8.6 -2.5 4.4 -1.5 0.8 -2 -0.8 -0.5 0.3 -3.5 7.1 -2 2.2 -1.6 16.5 -0.3 67.7 -4.1 0.3 -2.4 -0.3 -0.6 -130.8zM501.1 1476l3.5 0 0 194 -1.1 0.2 -2.4 -0.2z"/>
<path fill="#5aa2d1" d="M450.8 1476l6.5 0 1.7 12.4 2.5 5 3 11.4 1.5 -4.1 1.5 -1.8 1.5 0.5 1.5 2.8 1.8 6.9 1.3 9 1.5 19.6 -1.3 18 -2.8 13.8 -1 2.4 -2 2.6 -1.5 0 -2 -1.3 -3 7 -2.5 3.1 -0.8 4 -0.7 5.4 -0.5 15.6 -0.1 61.7 -3.9 0.3 -2.1 -0.3 -0.7 -130.8zM501.3 1476l3.1 0 0 194 -0.9 0.2 -2.2 -0.2z"/>
<path fill="#70b0d9" d="M451 1476l6.1 0 0.4 7.2 1.3 6.3 2.7 6 3 11.6 1.5 -4.5 1.5 -2.1 1.5 0.4 1.2 2.2 1.6 6 1.2 7.5 1.5 19.6 -0.8 16.5 -2.7 14.7 -1 2.6 -2 2.6 -1.5 -0.3 -2 -2.2 -3 7.8 -2.5 3.3 -1.2 6.1 -0.9 18 -0.1 64.7 -3.8 0.3 -2 -0.3 -0.6 -132.3zM501.4 1476l2.9 0 0 194 -0.8 0.2 -2.1 -0.2z"/>
<path fill="#86bbdc" d="M451.1 1476l5.8 0 0.7 10.5 1.4 5.6 2.5 5.5 2.5 11.6 0.5 0.3 1.5 -5.1 1.5 -2.4 1.5 0.4 1.2 2.2 1.5 6 1.1 7.5 1.2 18.1 -0.8 16.5 -1.2 8.2 -1.5 6 -1.5 3 -1.5 0.9 -1.5 -1.1 -1.5 -2.8 -3 8.8 -2.5 3.5 -1.5 6.5 -0.8 21.1 -0.1 63.2 -3.6 0.3 -1.8 -0.3 -0.7 -132.3zM501.6 1476l2.6 0 0 194 -0.7 0.1 -1.9 -0.1z"/>
<path fill="#a0cae3" d="M451.2 1476l5.5 0 0.8 12.6 1.5 5.2 2.5 5.7 2.5 12.6 0.5 -0.3 1.5 -5.7 1.5 -2.6 1 -0.1 1.5 2.2 2.3 11 1.3 19.6 -0.8 16.5 -2.3 12.3 -1.5 3.1 -1.5 0.9 -1.5 -1.4 -1.5 -3.4 -3 9.3 -2.5 3.9 -1.5 5.6 -0.9 22.3 -0.1 64.7 -3.5 0.3 -1.7 -0.3 -0.6 -132.3zM501.8 1476l2.2 0 0 194 -0.5 0.1 -1.7 -0.1z"/>
<path fill="#b5d3ea" d="M451.3 1476l5.3 0 0.9 14.8 4 10.6 2.5 13.7 3 -9.6 1.5 -0.8 1.5 2.3 2.2 11.1 1 16.6 -0.6 16.5 -2.1 12 -1.5 3.3 -1.5 0.8 -1.5 -1.7 -1.5 -4.1 -3 10 -2.5 4.2 -1.5 4.9 -1 23.2 -0.2 66.2 -3.3 0.2 -1.6 -0.2 -0.5 -132.3zM502 1476l1.8 0 -0.3 194 -1.5 0z"/>
<path fill="#c9dcf0" d="M451.4 1476l5 0 1.1 16.8 4 10.3 2.5 15 1.6 -7.5 1.4 -3.7 1.5 -0.9 1.5 2.4 1.9 9.7 1.1 16.6 -0.7 16.5 -2.3 11.9 -1.5 2.5 -1 0.1 -1.5 -2 -1.5 -4.9 -0.5 0.4 -2.5 10.4 -2.5 4.4 -1.5 4.4 -1.2 23.9 -0.1 67.7 -3.2 0.2 -1.5 -0.2 -0.5 -132.3zM502.5 1476l1 0 0 194 -1 0z"/>
<path fill="#d6e4f3" d="M451.5 1476l4.7 0 1.2 18 3.7 9.1 2.9 18 1.7 -9 1.8 -4.8 1 -0.3 1.5 2.6 1.7 8.5 1 16.6 -0.5 15 -2.2 12 -1.5 2.6 -1.5 -0.4 -1.5 -3.3 -1 -4.2 -0.5 -0.3 -2.4 11.6 -1.1 2.9 -1.5 2.1 -1.8 5.6 -1 24 -0.3 67.7 -2.9 0.2 -1.4 -0.2 -0.5 -132.3z"/>
<path fill="#e4e8f2" d="M451.6 1476l4.5 0 0.9 17.3 0.5 2.6 2.7 5.7 1.3 4.4 2.5 18.1 1.5 -9.9 1.5 -5.1 1.5 -1 1.5 2.6 1.6 8.9 0.9 15.1 -0.5 14 -2 11.8 -1.5 2.6 -1 0.1 -1.5 -2.6 -2 -7.6 -2.4 13.2 -1.1 3 -1.5 2.2 -1.8 5.4 -1.2 26.1 -1 3.5 -0.1 63.6 -1.9 0.2 -1.4 -0.2 -0.3 -132.3z"/>
<path fill="#f5e4df" d="M451.7 1476l3.2 0 0.1 5.1 1 -0.6 1 14.9 0.5 2.2 2.7 5.5 1.3 4.8 2.5 21.3 2 -15.6 1 -3.1 1.5 -1.2 1.5 2.7 1 4.7 1.2 18 -0.6 15 -1.6 9.2 -1.5 2.8 -1 -0.1 -2 -4.8 -1.5 -9 -0.8 7.9 -1.7 8.7 -1.1 3.3 -2.9 5.5 -0.5 2.6 -1 17.3 -1 -0.1 0 1.8 -0.3 75.2 -1.7 0.1 -1.3 -0.1z"/>
<path fill="#fdd5c4" d="M451.8 1476l2.8 0 0.4 13.5 1 -1.9 1 10.6 3 6.3 1.3 4.6 1.6 12 0.9 16.6 -0.5 12 -1.5 10.5 -1.3 5 -3.4 7 -1.1 13.1 -1 -1.6 -0.5 86.3 -1.5 0.1 -1.2 -0.1zM467.2 1512.1l1.3 -1.1 1.8 4.1 1.1 7.5 0.6 10.5 -0.2 10.6 -1 9 -1.3 5.4 -1.5 1.8 -1 -1.2 -1.4 -4.5 -1.4 -15 1 -18.1z"/>
<path fill="#fdc6b0" d="M451.9 1476l2.5 0 0.6 19.2 1 -2.6 1 8 3 5.8 1.1 4.2 1.6 12 0.6 13.6 -0.4 12 -1.3 10.5 -1.6 5.6 -3 5.8 -1 9.7 -1 -2.4 -0.7 23.4 -0.1 69.2 -1.2 0.1 -1.1 -0.1zM467.3 1513.6l0.7 -1 1 0.5 1.2 3.5 1 7.5 0.5 9 -1 18.1 -1.2 5 -1.5 1.7 -1 -1.2 -1.1 -4 -1.2 -13.5 0.7 -16.6z"/>
<path fill="#fcb095" d="M451.9 1476l2.2 0 0.9 23.7 1 -3.2 1 6.3 2.5 4.1 1.5 5.3 1.3 10.4 0.6 13.6 -0.5 13.5 -1.3 9 -1.1 3.7 -3 5.3 -1 7.8 -1 -3 -0.1 1.3 -0.8 27 -0.1 69.2 -1 0.1 -1 -0.1zM467.4 1515.1l1.1 -1 1.5 3.5 0.9 6.5 0.5 9 -0.9 16.7 -1 4.5 -0.5 1.2 -1 0.6 -1.2 -1.9 -0.9 -4.5 -0.9 -12 0.6 -13.6z"/>
<path fill="#fc9b7e" d="M452.1 1476l1.8 0 1.1 27.5 1 -3.8 1 5.1 2.5 3.7 1.5 5.7 1.1 9.9 0.5 12.1 -0.5 12 -1.2 9 -1.4 4.5 -2.5 3.9 -1 6.4 -1 -3.6 -0.3 3.8 -0.8 28.6 -0.1 69.2 -0.8 0.1 -0.9 -0.1zM467.4 1516.6l1.1 -1 1.5 3.8 1.2 13.7 -0.8 15.1 -1 4.5 -0.9 1.7 -0.5 0 -1 -1.7 -0.7 -3 -1 -12 0.6 -13.6z"/>
<path fill="#fc8262" d="M452.3 1476l1.3 0 1.2 30.1 0.2 1.2 1 -4.4 1 3.9 2 2.3 1.5 4.5 1.4 12 0.3 10.6 -0.3 10.5 -1.4 10.1 -2 4.9 -1.5 1.7 -1 5.2 -1 -4.2 -0.5 4.8 -0.8 28.6 -0.1 72.2 -0.6 0 -0.7 0 -0.4 -120.3zM467.5 1518.1l1 -0.9 1 2 1.4 12.4 -0.5 13.6 -0.9 5.4 -1 2.1 -1 -0.7 -1 -3.7 -0.8 -9.1 0.3 -12.9z"/>
<path fill="#fb6a4a" d="M452.5 1476l0.8 0 1.2 33.9 0.5 2.2 1 -5.3 1 2.6 1.5 0.8 1.4 3.4 1.4 9 0.6 12.1 -0.4 12 -1.4 9 -1.6 3.7 -1.5 1.1 -1 3.8 -1 -5.2 -0.8 7.1 -0.8 30.1 -0.4 73.7 -0.4 0 -0.6 -123.3zM467.9 1519.6l0.6 -0.3 1 2.2 1.1 11.6 -0.6 12.1 -1.5 5.1 -0.8 -0.6 -0.7 -2 -1 -10 0.5 -12.1z"/>
<path fill="#f5553d" d="M453 1480.5l0.6 22.6 0.9 12.7 0.5 1 1 -6.5 1 1.5 1.5 0.4 1.5 3.9 1.1 8 0.4 10.6 -0.3 10.5 -1 7.5 -1.7 4.6 -1.5 0.6 -1 2.5 -1 -6.3 -0.5 2 -1.5 42.5 -0.9 -60.9zM467.5 1522.6l1 -1.2 1 2.7 0.7 7.5 -0.3 10.6 -1.4 5.8 -0.5 -0.1 -0.9 -2.7 -0.7 -7.5 0.2 -9.1z"/>
<path fill="#ef3b2c" d="M453 1500.1l0 -1.2 1.5 23 0.5 -0.2 1 -8.2 1 0.5 1 -0.4 1.5 2.6 0.7 3.4 1 15.1 -0.3 9 -0.9 7.6 -1.5 4.1 -1.5 0.1 -1 1.4 -1 -8 -0.5 0.7 -1.5 29 -0.7 -39.4zM467.8 1524.1l0.7 -0.6 0.5 0.9 0.9 7.2 -0.2 9.1 -1.2 5 -0.5 -0.2 -0.6 -1.8 -0.6 -7.5 0.2 -7.6z"/>
<path fill="#e02922" d="M453 1510.6l0 -0.4 1.5 21.9 1.5 -15.3 2 -1.4 1 1.3 1.1 4.4 0.8 13.6 -0.8 13.5 -1.1 4.3 -1 1.3 -1 -0.7 -1 0.3 -1.5 -14.4 -1.5 27.6 -0.5 -28.9zM467.7 1527.1l0.8 -1.4 1 5.9 -0.1 7.6 -0.9 4 -0.7 -1 -0.6 -4.5z"/>
<path fill="#cb181d" d="M457.2 1518.1l0.8 -0.9 0.5 0.2 1 2.7 1.1 11.5 -0.6 14.7 -1 4.3 -1 1.3 -2 -2.2 -0.7 -10.5 0.4 -16.6 0.3 -2.4zM453 1522.6l0 -1.3 0.6 16.4 -0.6 17.4zM468.4 1528.6l0.8 6.1 -0.7 5.5 -0.6 -1 -0.4 -4.5 0.3 -4.6z"/>
<path fill="#b91219" d="M457.6 1519.6l0.4 -0.6 0.5 0.2 1 3.1 0.9 10.8 -0.6 12.1 -0.8 3.4 -1 1.3 -2 -4.7 -0.4 -9 0.4 -11.8z"/>
<path fill="#a50f15" d="M457.3 1522.6l0.7 -1.5 0.5 0.2 1 3.6 0.5 6.7 -0.5 12.1 -0.5 2.6 -1 1.3 -1.4 -3.9 -0.6 -6 0.2 -9.1z"/>
<path fill="#8b0712" d="M457.6 1524.1l0.4 -0.8 0.5 0 0.5 1.4 0.8 8.4 -0.5 9.1 -0.8 3.1 -0.5 0.1 -0.9 -3.2 -0.6 -6 0.3 -7.6z"/>
<path fill="#69000d" d="M457.9 1525.6l0.6 -0.1 0.5 1.7 0.5 7.5 -0.5 6.6 -0.5 1.7 -0.5 0 -1 -8.3z"/></g>
<rect x="520" y="1440" width="94" height="276" fill="url(#cst)" mask="url(#cmk2)"/>
<rect x="500.6" y="1590" width="3" height="126" fill="url(#cpk)"/>
</g>
<rect x="436.9" y="915.4" width="84.7" height="167.9" fill="none" stroke="#fff" stroke-width="4.2"/>
<rect x="208.9" y="915.4" width="152.1" height="167.9" fill="none" stroke="#fff" stroke-width="4.4" stroke-dasharray="8 12.2" stroke-linecap="round" stroke-dashoffset="-2"/>
<rect x="436.9" y="1486.8" width="84.7" height="167.5" fill="none" stroke="#fff" stroke-width="4.2"/>
<rect x="208.9" y="1486.8" width="152.1" height="167.5" fill="none" stroke="#fff" stroke-width="4.4" stroke-dasharray="8 12.2" stroke-linecap="round" stroke-dashoffset="-2"/>
<rect x="186.8" y="598" width="426.6" height="545.8" fill="none" stroke="#1a1a1a" stroke-width="1.8"/>
<rect x="186.8" y="1170" width="426.6" height="545.7" fill="none" stroke="#1a1a1a" stroke-width="1.8"/>
<path d="M186.8 598h-5M186.8 658.6h-5M186.8 719.3h-5M186.8 779.9h-5M186.8 840.6h-5M186.8 901.2h-5M186.8 961.9h-5M186.8 1022.5h-5M186.8 1083.2h-5M186.8 1143.8h-5M186.8 1170h-5M186.8 1230.6h-5M186.8 1291.3h-5M186.8 1351.9h-5M186.8 1412.6h-5M186.8 1473.2h-5M186.8 1533.9h-5M186.8 1594.5h-5M186.8 1655.2h-5M186.8 1715.8h-5M186.8 1143.8v10M243 1143.8v4M299.2 1143.8v10M355.4 1143.8v4M411.6 1143.8v10M467.8 1143.8v4M524 1143.8v10M580.2 1143.8v4M186.8 1715.7v10M243 1715.7v4M299.2 1715.7v10M355.4 1715.7v4M411.6 1715.7v10M467.8 1715.7v4M524 1715.7v10M580.2 1715.7v4" stroke="#111" stroke-width="2" fill="none"/>
<text transform="translate(148 620) scale(1 1.035)" font-size="40.4" fill="#0d56a6" text-anchor="middle">0.5</text>
<text transform="translate(148 679.4) scale(1 1.035)" font-size="40.4" fill="#0d56a6" text-anchor="middle">0.6</text>
<text transform="translate(148 738.8) scale(1 1.035)" font-size="40.4" fill="#0d56a6" text-anchor="middle">0.7</text>
<text transform="translate(148 798.2) scale(1 1.035)" font-size="40.4" fill="#0d56a6" text-anchor="middle">0.8</text>
<text transform="translate(148 857.6) scale(1 1.035)" font-size="40.4" fill="#0d56a6" text-anchor="middle">0.9</text>
<text transform="translate(148 917) scale(1 1.035)" font-size="40.4" fill="#0d56a6" text-anchor="middle">1.0</text>
<text transform="translate(148 976.4) scale(1 1.035)" font-size="40.4" fill="#cf1a1d" text-anchor="middle">1.5</text>
<text transform="translate(148 1035.8) scale(1 1.035)" font-size="40.4" fill="#cf1a1d" text-anchor="middle">1.4</text>
<text transform="translate(148 1095.2) scale(1 1.035)" font-size="40.4" fill="#cf1a1d" text-anchor="middle">1.3</text>
<text transform="translate(148 1154.6) scale(1 1.035)" font-size="40.4" fill="#cf1a1d" text-anchor="middle">1.2</text>
<text transform="translate(148 1192) scale(1 1.035)" font-size="40.4" fill="#0d56a6" text-anchor="middle">0.5</text>
<text transform="translate(148 1251.4) scale(1 1.035)" font-size="40.4" fill="#0d56a6" text-anchor="middle">0.6</text>
<text transform="translate(148 1310.8) scale(1 1.035)" font-size="40.4" fill="#0d56a6" text-anchor="middle">0.7</text>
<text transform="translate(148 1370.2) scale(1 1.035)" font-size="40.4" fill="#0d56a6" text-anchor="middle">0.8</text>
<text transform="translate(148 1429.6) scale(1 1.035)" font-size="40.4" fill="#0d56a6" text-anchor="middle">0.9</text>
<text transform="translate(148 1489) scale(1 1.035)" font-size="40.4" fill="#0d56a6" text-anchor="middle">1.0</text>
<text transform="translate(148 1548.4) scale(1 1.035)" font-size="40.4" fill="#cf1a1d" text-anchor="middle">1.5</text>
<text transform="translate(148 1607.8) scale(1 1.035)" font-size="40.4" fill="#cf1a1d" text-anchor="middle">1.4</text>
<text transform="translate(148 1667.2) scale(1 1.035)" font-size="40.4" fill="#cf1a1d" text-anchor="middle">1.3</text>
<text transform="translate(148 1726.6) scale(1 1.035)" font-size="40.4" fill="#cf1a1d" text-anchor="middle">1.2</text>
<text transform="translate(198.9 1769) scale(1 1.035)" font-size="40" fill="#000" text-anchor="middle">4000</text>
<text transform="translate(312.5 1769) scale(1 1.035)" font-size="40" fill="#000" text-anchor="middle">3000</text>
<text transform="translate(423.7 1769) scale(1 1.035)" font-size="40" fill="#000" text-anchor="middle">2000</text>
<text transform="translate(537.5 1769) scale(1 1.035)" font-size="40" fill="#000" text-anchor="middle">1000</text>
<text transform="translate(412.3 1817) scale(1 1.035)" font-size="44.3" fill="#000" text-anchor="middle">Raman shift (cm<tspan font-size="24" dy="-21">-1</tspan><tspan dy="21" font-size="1">&#8203;</tspan>)</text>
<text transform="translate(90.2 863.7) rotate(-90) scale(1 1.035)" font-size="44.4" fill="#1a1a1a" text-anchor="middle">Voltage (V vs. Zn<tspan font-size="21" dy="-19">2+</tspan><tspan dy="19" font-size="1">&#8203;</tspan>/Zn)</text>
<text transform="translate(90.2 1435.7) rotate(-90) scale(1 1.035)" font-size="44.4" fill="#1a1a1a" text-anchor="middle">Voltage (V vs. Zn<tspan font-size="21" dy="-19">2+</tspan><tspan dy="19" font-size="1">&#8203;</tspan>/Zn)</text>
<text transform="translate(-0.5 630.5) scale(1 1.035)" font-size="46.5" fill="#1a1a1a" font-weight="bold">c</text>
<text transform="translate(202.3 642.2) scale(1 1.035)" font-size="40.7" fill="#fff" font-weight="bold">2 M ZnSO<tspan font-size="19" dy="7.5">4</tspan><tspan dy="-7.5" font-size="1">&#8203;</tspan></text>
<text transform="translate(202.3 1214.5) scale(1 1.035)" font-size="40.7" fill="#fff" font-weight="bold">2 M Zn(OTf)<tspan font-size="19" dy="7.5">2</tspan><tspan dy="-7.5" font-size="1">&#8203;</tspan></text>
<defs><linearGradient id="ccbar" x1="0" y1="0" x2="0" y2="1"><stop offset="0.000" stop-color="#69000d"/><stop offset="0.016" stop-color="#69000d"/><stop offset="0.031" stop-color="#69000d"/><stop offset="0.047" stop-color="#69000d"/><stop offset="0.062" stop-color="#7a0410"/><stop offset="0.078" stop-color="#8b0712"/><stop offset="0.094" stop-color="#980b14"/><stop offset="0.109" stop-color="#a50f15"/><stop offset="0.125" stop-color="#af1017"/><stop offset="0.141" stop-color="#b91219"/><stop offset="0.156" stop-color="#c2151b"/><stop offset="0.172" stop-color="#cb181d"/><stop offset="0.188" stop-color="#d62020"/><stop offset="0.203" stop-color="#e02922"/><stop offset="0.219" stop-color="#e83227"/><stop offset="0.234" stop-color="#ef3b2c"/><stop offset="0.250" stop-color="#f24834"/><stop offset="0.266" stop-color="#f5553d"/><stop offset="0.281" stop-color="#f86044"/><stop offset="0.297" stop-color="#fb6a4a"/><stop offset="0.312" stop-color="#fc7656"/><stop offset="0.328" stop-color="#fc8262"/><stop offset="0.344" stop-color="#fc8e70"/><stop offset="0.359" stop-color="#fc9b7e"/><stop offset="0.375" stop-color="#fca68a"/><stop offset="0.391" stop-color="#fcb095"/><stop offset="0.406" stop-color="#fcbba2"/><stop offset="0.422" stop-color="#fdc6b0"/><stop offset="0.438" stop-color="#fdceba"/><stop offset="0.453" stop-color="#fdd5c4"/><stop offset="0.469" stop-color="#f9dcd2"/><stop offset="0.484" stop-color="#f5e4df"/><stop offset="0.500" stop-color="#ece6e8"/><stop offset="0.516" stop-color="#e4e8f2"/><stop offset="0.531" stop-color="#dde6f2"/><stop offset="0.547" stop-color="#d6e4f3"/><stop offset="0.562" stop-color="#d0e0f2"/><stop offset="0.578" stop-color="#c9dcf0"/><stop offset="0.594" stop-color="#bfd8ed"/><stop offset="0.609" stop-color="#b5d3ea"/><stop offset="0.625" stop-color="#aacee6"/><stop offset="0.641" stop-color="#a0cae3"/><stop offset="0.656" stop-color="#93c2e0"/><stop offset="0.672" stop-color="#86bbdc"/><stop offset="0.688" stop-color="#7bb6da"/><stop offset="0.703" stop-color="#70b0d9"/><stop offset="0.719" stop-color="#65a9d5"/><stop offset="0.734" stop-color="#5aa2d1"/><stop offset="0.750" stop-color="#519ccd"/><stop offset="0.766" stop-color="#4896c9"/><stop offset="0.781" stop-color="#3e8ec6"/><stop offset="0.797" stop-color="#3585c2"/><stop offset="0.812" stop-color="#2c7cbe"/><stop offset="0.828" stop-color="#2474ba"/><stop offset="0.844" stop-color="#1e6cb4"/><stop offset="0.859" stop-color="#1865ae"/><stop offset="0.875" stop-color="#115ea8"/><stop offset="0.891" stop-color="#0a56a3"/><stop offset="0.906" stop-color="#094e98"/><stop offset="0.922" stop-color="#08458c"/><stop offset="0.938" stop-color="#093a7c"/><stop offset="0.953" stop-color="#0a306b"/><stop offset="0.969" stop-color="#0a306b"/><stop offset="0.984" stop-color="#0a306b"/><stop offset="1.000" stop-color="#0a306b"/></linearGradient></defs>
<rect x="635" y="1169" width="30" height="548" fill="url(#ccbar)" stroke="#999" stroke-width="1.2"/>
<text transform="translate(681 1196) scale(1 1.035)" font-size="35" fill="#6e0d14">High</text>
<text transform="translate(684 1709) scale(1 1.035)" font-size="35" fill="#0b3c93">Low</text>
<text transform="translate(715 1439.5) rotate(-90) scale(1 1.035)" font-size="44" fill="#333" text-anchor="middle">Intensity</text>
<path d="M526 913.7L769 852.5M526 1084.4L769 1140" stroke="#2f83c6" stroke-opacity=".93" stroke-width="4.1" stroke-dasharray="7.7 12.5" stroke-linecap="round" fill="none"/>
<path d="M526 1484.2L767.2 1368.3M526 1655.9L773 1676.8" stroke="#fb8b9a" stroke-width="4.1" stroke-dasharray="7.7 12.5" fill="none" stroke-linecap="round"/>
</g>
<g id="panel_s">
<ellipse cx="815.3" cy="637.8" rx="33" ry="23.2" fill="#fbd48b"/>
<ellipse cx="976.8" cy="636" rx="33.3" ry="23.2" fill="#f5b8bd"/>
<ellipse cx="1140" cy="636" rx="33" ry="23.2" fill="#f76d6e"/>
<ellipse cx="718.9" cy="623" rx="17.2" ry="22.5" transform="rotate(22 718.9 623)" fill="#a57cbd"/>
<ellipse cx="771.7" cy="683.8" rx="19.5" ry="17" fill="#dccbf8"/>
<ellipse cx="936.4" cy="684.5" rx="19.5" ry="17" fill="#d6edf9"/>
<ellipse cx="1240.9" cy="676" rx="33" ry="22.8" fill="#62a3e6"/>
<path d="M709.1 641.2L728.9 605.8L769.7 605.8L789.7 641.2L769.7 676.4L728.9 676.4zM731.3 614.7L766.5 614.7M717.8 637.8L735 667.5M779.5 639.7L761.9 668.4" fill="none" stroke="#231f20" stroke-width="4.1" stroke-linejoin="round" stroke-linecap="round"/>
<path d="M874.9 641.2L893.5 605.8L934.2 605.8L953.7 641.2L934.2 676.4L893.5 676.4zM896.2 614.7L931.4 614.7M896.2 667.5L931.4 667.5" fill="none" stroke="#2e84c4" stroke-width="4.1" stroke-linejoin="round" stroke-linecap="round"/>
<path d="M1037 641.2L1057.1 605.8L1098.7 605.8L1117.6 641.2L1098.7 676.4L1057.1 676.4zM1059.8 614.7L1095 614.7M1045.9 637.8L1064.1 668.4M1108 639.7L1090.4 669.3" fill="none" stroke="#231f20" stroke-width="4.1" stroke-linejoin="round" stroke-linecap="round"/>
<path d="M1200.6 641.2L1220.1 605.8L1260.9 605.8L1280.3 641.2L1260.9 676.4L1220.1 676.4zM1222.9 614.7L1258.1 614.7M1222.9 667.5L1258.1 667.5" fill="none" stroke="#2e84c4" stroke-width="4.1" stroke-linejoin="round" stroke-linecap="round"/>
<path d="M666.5 641.2L709.1 641.2M1008.3 641.2L1037 641.2M1335 641.2L1377.6 641.2" stroke="#231f20" stroke-width="4.1" stroke-linecap="round" fill="none"/>
<path d="M789.7 641.2L819.7 641.2" stroke="#8a6217" stroke-width="4.1" stroke-linecap="round" fill="none"/>
<path d="M1117.6 641.2L1146 641.2" stroke="#231f20" stroke-width="4.1" stroke-linecap="round" fill="none"/>
<path d="M846.2 637.8L874.9 637.8M846.2 644.9L874.9 644.9M953.7 637.8L983.3 637.8M953.7 644.9L983.3 644.9M1171.9 637.8L1200.6 637.8M1171.9 644.9L1200.6 644.9M1280.3 637.8L1309 637.8M1280.3 644.9L1309 644.9" stroke="#2e84c4" stroke-width="3.7" stroke-linecap="round" fill="none"/>
<path d="M696.1 598L688.7 598L688.7 690.6L696.1 690.6M1348.9 594.8L1356.3 594.8L1356.3 687.8L1348.9 687.8" stroke="#231f20" stroke-width="4.1" stroke-linecap="round" stroke-linejoin="round" fill="none"/>
<ellipse cx="718.9" cy="623" rx="17.2" ry="22.5" transform="rotate(22 718.9 623)" fill="#a57cbd" fill-opacity=".3"/>
<ellipse cx="771.7" cy="683.8" rx="19.5" ry="17" fill="#dccbf8" fill-opacity=".55"/>
<ellipse cx="936.4" cy="684.5" rx="19.5" ry="17" fill="#d6edf9" fill-opacity=".5"/>
<ellipse cx="1240.9" cy="676" rx="33" ry="22.8" fill="#62a3e6" fill-opacity=".3"/>
<text transform="translate(820.5 652.4) scale(1 1.035)" font-size="36.5" fill="#8a6217">N</text>
<text transform="translate(983.5 652.4) scale(1 1.035)" font-size="36.5" fill="#231f20">N</text>
<text transform="translate(1147.1 652.4) scale(1 1.035)" font-size="36.5" fill="#231f20">N</text>
<text transform="translate(1311.1 652.4) scale(1 1.035)" font-size="36.5" fill="#231f20">N</text>
<text transform="translate(1147.1 686) scale(1 1.035)" font-size="36.5" fill="#231f20">H</text>
<text transform="translate(1311.1 686) scale(1 1.035)" font-size="36.5" fill="#231f20">H</text>
<text transform="translate(1157.2 624.2) scale(1 1.035)" font-size="28" fill="#231f20" text-anchor="middle" font-weight="bold">+</text>
<text transform="translate(1320.5 624.2) scale(1 1.035)" font-size="28" fill="#231f20" text-anchor="middle" font-weight="bold">+</text>
<text transform="translate(1145.5 598) scale(1 1.035)" font-size="37" fill="#2a6cd6" font-weight="bold">A<tspan font-size="20" dy="-14">-</tspan><tspan dy="14" font-size="1">&#8203;</tspan></text>
<text transform="translate(1308.9 598) scale(1 1.035)" font-size="37" fill="#2a6cd6" font-weight="bold">A<tspan font-size="20" dy="-14">-</tspan><tspan dy="14" font-size="1">&#8203;</tspan></text>
<text transform="translate(1364 695.3) scale(1 1.035)" font-size="27.5" fill="#231f20">n</text>
<rect x="678" y="717.1" width="345.5" height="46.7" rx="23.3" fill="#eaf1fc"/>
<text transform="translate(692.4 751.8) scale(1 1.035)" font-size="40" fill="#2a6cd6" textLength="330" lengthAdjust="spacingAndGlyphs">A<tspan font-size="20" dy="-15">-</tspan><tspan dy="15" font-size="1">&#8203;</tspan>: 0.5SO<tspan font-size="19" dy="8">4</tspan><tspan dy="-8" font-size="1">&#8203;</tspan><tspan font-size="21" dy="-19">2-</tspan><tspan dy="19" font-size="1">&#8203;</tspan> or OTf<tspan font-size="20" dy="-17">-</tspan><tspan dy="17" font-size="1">&#8203;</tspan></text>
<path d="M806.9 876.2 809.1 873.9 811.3 873.5 813.5 872.6 815.7 873.7 817.9 870.7 820.1 873.5 822.3 871 824.5 871.4 826.7 870.5 828.9 871.4 831.1 868.3 833.3 869.5 835.5 869.2 837.7 870.2 839.9 868.2 842.1 868.8 844.3 868 846.5 868.5 848.7 868.7 850.9 867.1 853.1 868.7 855.3 868.3 857.5 867.4 859.7 867.2 861.9 865.3 864.1 865.2 866.3 864 868.5 864 870.7 864.1 872.9 862.6 875.1 862.3 877.3 861.2 879.5 860.2 881.7 859.4 883.9 858.9 886.1 857.1 888.3 857.3 890.5 857.5 892.7 855.8 894.9 853.6 897.1 850.9 899.3 848.8 901.5 848.6 903.7 845 905.9 842.3 908.1 840 910.3 837.7 912.5 832.3 914.7 828.8 916.9 824.7 919.1 819.5 921.3 813.7 923.5 809.2 925.7 804 927.9 798.6 930.1 792.8 932.3 792.7 934.5 793.6 936.7 796 938.9 795.8 941.1 796 943.3 794 945.5 791.2 947.7 789.7 949.9 787.4 952.1 786.8 954.3 785.6 956.5 788.7 958.7 788.9 960.9 790.7 963.1 793 965.3 795 967.5 796.9 969.7 797.4 971.9 796.4 974.1 798.7 976.3 800.6 978.5 801 980.7 802.3 982.9 802.4 985.1 803.3 987.3 804.5 989.5 805.5 991.7 806.2 993.9 805.6 996.1 803.4 998.3 802.8 1000.5 802.4 1002.7 803.1 1004.9 803 1007.1 802.4 1009.3 802.4 1011.5 802.7 1013.7 804.1 1015.9 805.2 1018.1 806.2 1020.3 809.1 1022.5 812.1 1024.7 816.8 1026.9 819.9 1029.1 825.2 1031.3 828.6 1033.5 832.3 1035.7 834 1037.9 838.2 1040.1 841.8 1042.3 842.4 1044.5 843.6 1046.7 844.4 1048.9 843.9 1051.1 845.9 1053.3 846.7 1055.5 845.8 1057.7 847.2 1059.9 846 1062.1 846 1064.3 843.6 1066.5 844.8 1068.7 843.2 1070.9 843.2 1073.1 842.9 1075.3 844.8 1077.5 845.7 1079.7 842.9 1081.9 845.6 1084.1 845.5 1086.3 844 1088.5 842.3 1090.7 843.5 1092.9 842.3 1095.1 841.5 1097.3 840.6 1099.5 842.4 1101.7 842.9 1103.9 842.2 1106.1 843.4 1108.3 842.5 1110.5 844.4 1112.7 844.2 1114.9 843.8 1117.1 843.6 1119.3 844.1 1121.5 843.7 1123.7 843.3 1125.9 842.7 1128.1 842.4 1130.3 843.1 1132.5 843.2 1134.7 844 1136.9 843.6 1139.1 842.3 1141.3 846.5 1143.5 848.8 1145.7 848.8 1147.9 849.7 1150.1 850.7 1152.3 851 1154.5 851.4 1156.7 850.8 1158.9 851.5 1161.1 851.4 1163.3 852.7 1165.5 852.6 1167.7 853.6 1169.9 853.4 1172.1 854.7 1174.3 854.5 1176.5 856.4 1178.7 853.5 1180.9 854.8 1183.1 855.9 1185.3 857 1187.5 854.6 1189.7 854.6 1191.9 854.2 1194.1 855.3 1196.3 853.8 1198.5 854.3 1200.7 853.3 1202.9 852 1205.1 850.2 1207.3 847.3 1209.5 849.7 1211.7 850.5 1213.9 853.3 1216.1 857.5 1218.3 860.5 1220.5 859.7 1222.7 858.5 1224.9 858.6 1227.1 857.7 1229.3 859.3 1231.5 859.1 1233.7 858.5 1235.9 855.5 1238.1 856.2 1240.3 855 1242.5 854.3 1244.7 853.5 1246.9 853.3 1249.1 859.1 1251.3 862.4 1253.5 866.6 1255.7 866.2 1257.9 868 1260.1 869.6 1262.3 871.3 1264.5 872.2 1266.7 875.7 1268.9 874 1271.1 873.4 1273.3 875.5 1275.5 874.3 1277.7 874.1 1279.9 876.2 1282.1 876.4 1284.3 876 1286.5 877.9 1288.7 877.3" fill="none" stroke="#1f5f9e" stroke-width="3.2" stroke-linejoin="round" stroke-linecap="round"/>
<path d="M806.9 1006.5 809.1 1006.7 811.3 1005.1 813.5 1007.6 815.7 1005 817.9 1005.6 820.1 1006.4 822.3 1005 824.5 1005 826.7 1005 828.9 1005.9 831.1 1007 833.3 1005.3 835.5 1004.3 837.7 1005.4 839.9 1004.4 842.1 1004.7 844.3 1005.4 846.5 1003.9 848.7 1004.3 850.9 1003.6 853.1 1004 855.3 1004.1 857.5 1002.7 859.7 1002.7 861.9 1002.3 864.1 1001.6 866.3 1000.7 868.5 1000.1 870.7 1000.5 872.9 1000 875.1 1001.3 877.3 997.3 879.5 998.3 881.7 997.7 883.9 997.6 886.1 996.2 888.3 994.5 890.5 994.3 892.7 993.9 894.9 992.3 897.1 991.6 899.3 988.3 901.5 989.3 903.7 986.1 905.9 981.3 908.1 978.6 910.3 974.9 912.5 971 914.7 968.3 916.9 965.6 919.1 960 921.3 954.7 923.5 949.6 925.7 942.1 927.9 933.9 930.1 926.5 932.3 925 934.5 927.4 936.7 928.2 938.9 931.1 941.1 933.1 943.3 935 945.5 936.1 947.7 935.1 949.9 937.2 952.1 937.4 954.3 937.7 956.5 941 958.7 943.1 960.9 942.4 963.1 943 965.3 941.8 967.5 942.1 969.7 942.4 971.9 945.3 974.1 943.5 976.3 946.4 978.5 947.9 980.7 946.9 982.9 949.1 985.1 950 987.3 951.5 989.5 952.7 991.7 952.3 993.9 952.3 996.1 954.9 998.3 955.4 1000.5 954.9 1002.7 956.1 1004.9 957.3 1007.1 958.8 1009.3 959.9 1011.5 962.1 1013.7 961.3 1015.9 965.4 1018.1 967.1 1020.3 968.9 1022.5 972.5 1024.7 973.4 1026.9 979.2 1029.1 982 1031.3 984.3 1033.5 988.8 1035.7 991.2 1037.9 995.7 1040.1 997.5 1042.3 998.9 1044.5 1000.1 1046.7 1001 1048.9 1002.1 1051.1 1002.5 1053.3 1002.3 1055.5 1002.5 1057.7 1002.7 1059.9 1002.6 1062.1 1001.9 1064.3 1000.7 1066.5 1002.2 1068.7 998.5 1070.9 999.4 1073.1 1001 1075.3 1001 1077.5 1002.1 1079.7 1002.6 1081.9 1002.7 1084.1 1002.2 1086.3 1000.7 1088.5 1002 1090.7 999.7 1092.9 1001 1095.1 1001.4 1097.3 1001.7 1099.5 1003.5 1101.7 1003.6 1103.9 1004.5 1106.1 1002.4 1108.3 1003.7 1110.5 1003.2 1112.7 1002.6 1114.9 1001.2 1117.1 1001.8 1119.3 1000.8 1121.5 1000.2 1123.7 1003.8 1125.9 1002.1 1128.1 1002.5 1130.3 1000.8 1132.5 1001.4 1134.7 1001.6 1136.9 1002.2 1139.1 1002.5 1141.3 1003 1143.5 1002.3 1145.7 1004.9 1147.9 1005.4 1150.1 1006.7 1152.3 1006.4 1154.5 1008.6 1156.7 1006.8 1158.9 1005.9 1161.1 1007.2 1163.3 1005.9 1165.5 1005.2 1167.7 1006.1 1169.9 1006.6 1172.1 1006.2 1174.3 1006.4 1176.5 1009.5 1178.7 1008.3 1180.9 1009.6 1183.1 1006.6 1185.3 1007.7 1187.5 1007.4 1189.7 1006.1 1191.9 1005.4 1194.1 1006.3 1196.3 1005.8 1198.5 1005.6 1200.7 1006.8 1202.9 1005.3 1205.1 1002.2 1207.3 1000.2 1209.5 1001.4 1211.7 1002.2 1213.9 1002.6 1216.1 1001.7 1218.3 1000.7 1220.5 997.9 1222.7 994.7 1224.9 991.9 1227.1 988.8 1229.3 990.3 1231.5 994.4 1233.7 996.6 1235.9 999.8 1238.1 999.6 1240.3 999.5 1242.5 999.5 1244.7 998.2 1246.9 999.6 1249.1 1004 1251.3 1007.5 1253.5 1010.1 1255.7 1011.2 1257.9 1011.3 1260.1 1013.3 1262.3 1013.7 1264.5 1012.8 1266.7 1013.9 1268.9 1014.4 1271.1 1017.5 1273.3 1017.7 1275.5 1017.2 1277.7 1017.9 1279.9 1018.7 1282.1 1018.4 1284.3 1019.2 1286.5 1019.9 1288.7 1019.5" fill="none" stroke="#5b9bd5" stroke-width="3.2" stroke-linejoin="round" stroke-linecap="round"/>
<path d="M806.9 1155 809.1 1154.1 811.3 1153.8 813.5 1152.6 815.7 1153.5 817.9 1153.3 820.1 1153.4 822.3 1153 824.5 1153.3 826.7 1153 828.9 1152.4 831.1 1153.6 833.3 1153.5 835.5 1153.9 837.7 1152.8 839.9 1152.4 842.1 1152.2 844.3 1151.5 846.5 1152.9 848.7 1151.5 850.9 1151.4 853.1 1151.8 855.3 1152.7 857.5 1151.6 859.7 1150.5 861.9 1150.4 864.1 1150.9 866.3 1150.1 868.5 1149.4 870.7 1149.4 872.9 1149.6 875.1 1150 877.3 1147.7 879.5 1147.7 881.7 1147.2 883.9 1145.8 886.1 1146.3 888.3 1145.8 890.5 1146.7 892.7 1145.5 894.9 1144.1 897.1 1144.8 899.3 1143.6 901.5 1142.1 903.7 1142.1 905.9 1141.5 908.1 1140.3 910.3 1139.4 912.5 1136.5 914.7 1136.2 916.9 1133 919.1 1128.5 921.3 1120.5 923.5 1108.7 925.7 1090.9 927.9 1070.9 930.1 1061 932.3 1061.3 934.5 1071 936.7 1085.5 938.9 1098.4 941.1 1108.5 943.3 1110.9 945.5 1115.4 947.7 1115.2 949.9 1116.1 952.1 1116.5 954.3 1116.6 956.5 1121.3 958.7 1126.1 960.9 1125.6 963.1 1127.4 965.3 1127.3 967.5 1128.9 969.7 1127.9 971.9 1127.8 974.1 1127.6 976.3 1128.5 978.5 1129.4 980.7 1132.4 982.9 1130.9 985.1 1132 987.3 1132.3 989.5 1131.6 991.7 1132.3 993.9 1132.9 996.1 1131.8 998.3 1130.9 1000.5 1129.3 1002.7 1130.1 1004.9 1129.9 1007.1 1129.6 1009.3 1129 1011.5 1129.5 1013.7 1128.5 1015.9 1128.5 1018.1 1129.4 1020.3 1129.3 1022.5 1130.5 1024.7 1132.8 1026.9 1132.8 1029.1 1132.6 1031.3 1134.5 1033.5 1136 1035.7 1137.5 1037.9 1137.9 1040.1 1138.4 1042.3 1139.2 1044.5 1141 1046.7 1141.3 1048.9 1141.1 1051.1 1141.6 1053.3 1141.8 1055.5 1142.8 1057.7 1142.3 1059.9 1142.7 1062.1 1142.6 1064.3 1142 1066.5 1140.8 1068.7 1141.8 1070.9 1141.2 1073.1 1142.5 1075.3 1142.5 1077.5 1142.5 1079.7 1144.2 1081.9 1144.3 1084.1 1144.2 1086.3 1144.5 1088.5 1144 1090.7 1144.1 1092.9 1144.2 1095.1 1144.6 1097.3 1143.3 1099.5 1143.4 1101.7 1145 1103.9 1145.3 1106.1 1146.3 1108.3 1146.5 1110.5 1145 1112.7 1143.5 1114.9 1143.3 1117.1 1143.1 1119.3 1142.5 1121.5 1142.6 1123.7 1140.9 1125.9 1141.2 1128.1 1140.5 1130.3 1140.4 1132.5 1141.3 1134.7 1141.5 1136.9 1141.1 1139.1 1142.6 1141.3 1141.7 1143.5 1142.9 1145.7 1143.3 1147.9 1144 1150.1 1143.6 1152.3 1144.1 1154.5 1144.2 1156.7 1144.9 1158.9 1144 1161.1 1144.6 1163.3 1144.3 1165.5 1143.5 1167.7 1145.6 1169.9 1143.8 1172.1 1142.7 1174.3 1144.2 1176.5 1142.5 1178.7 1143.2 1180.9 1143.2 1183.1 1142.1 1185.3 1141.9 1187.5 1141.6 1189.7 1141.6 1191.9 1140.4 1194.1 1140.4 1196.3 1140.8 1198.5 1140.8 1200.7 1139.8 1202.9 1139.8 1205.1 1138.4 1207.3 1137 1209.5 1136.5 1211.7 1134.6 1213.9 1134.5 1216.1 1131.4 1218.3 1128.3 1220.5 1120.9 1222.7 1107 1224.9 1093.8 1227.1 1080 1229.3 1088.9 1231.5 1100.6 1233.7 1111 1235.9 1118.5 1238.1 1123.5 1240.3 1126.3 1242.5 1126.3 1244.7 1126.6 1246.9 1129.1 1249.1 1133.2 1251.3 1136.6 1253.5 1138.7 1255.7 1140.7 1257.9 1142.9 1260.1 1144 1262.3 1144.1 1264.5 1145.3 1266.7 1145.7 1268.9 1146.5 1271.1 1148.9 1273.3 1147.9 1275.5 1149.7 1277.7 1148.6 1279.9 1149.3 1282.1 1150.1 1284.3 1149.8 1286.5 1150.3 1288.7 1150.2" fill="none" stroke="#b0d3ee" stroke-width="3.3" stroke-linejoin="round" stroke-linecap="round"/>
<path d="M806.9 1378.5 809.1 1378.6 811.3 1376.7 813.5 1378 815.7 1376.5 817.9 1374.9 820.1 1375.4 822.3 1376.4 824.5 1376 826.7 1374.4 828.9 1376 831.1 1375.2 833.3 1375.5 835.5 1375.3 837.7 1373.7 839.9 1375.1 842.1 1374 844.3 1376.1 846.5 1375.3 848.7 1374.6 850.9 1373.6 853.1 1374.6 855.3 1374.7 857.5 1373.4 859.7 1376.8 861.9 1375 864.1 1376.3 866.3 1373.5 868.5 1376.2 870.7 1373.2 872.9 1372.3 875.1 1371.8 877.3 1370.5 879.5 1367.9 881.7 1368.8 883.9 1370.5 886.1 1371.5 888.3 1370.9 890.5 1370.4 892.7 1372.2 894.9 1367.8 897.1 1367.1 899.3 1364.1 901.5 1364.4 903.7 1363.1 905.9 1362.1 908.1 1358.4 910.3 1357.3 912.5 1354.3 914.7 1356.6 916.9 1347 919.1 1338.4 921.3 1335.9 923.5 1329.1 925.7 1316.5 927.9 1309.4 930.1 1302.6 932.3 1305.2 934.5 1307.4 936.7 1313.8 938.9 1322.6 941.1 1322.5 943.3 1321.7 945.5 1318.3 947.7 1311.2 949.9 1304.7 952.1 1304.5 954.3 1301 956.5 1305.9 958.7 1311.8 960.9 1314.4 963.1 1316.8 965.3 1320.1 967.5 1319 969.7 1320.3 971.9 1319.9 974.1 1321 976.3 1324.6 978.5 1327.5 980.7 1328 982.9 1327.7 985.1 1328.7 987.3 1327.3 989.5 1327.7 991.7 1325.1 993.9 1326.2 996.1 1321.4 998.3 1317.9 1000.5 1317.7 1002.7 1314.1 1004.9 1312.7 1007.1 1311.8 1009.3 1310.7 1011.5 1309.2 1013.7 1312 1015.9 1313.1 1018.1 1313.5 1020.3 1315.9 1022.5 1317.7 1024.7 1321.5 1026.9 1324.5 1029.1 1327.7 1031.3 1331 1033.5 1333.5 1035.7 1337.9 1037.9 1337.9 1040.1 1340 1042.3 1341.5 1044.5 1344.1 1046.7 1345.9 1048.9 1350.4 1051.1 1350.4 1053.3 1348.6 1055.5 1350.3 1057.7 1349.6 1059.9 1351.2 1062.1 1350.5 1064.3 1347.6 1066.5 1347.7 1068.7 1346.1 1070.9 1345.9 1073.1 1349.2 1075.3 1349.6 1077.5 1351.1 1079.7 1355.5 1081.9 1357.1 1084.1 1355.4 1086.3 1353.9 1088.5 1351.2 1090.7 1349.2 1092.9 1351.5 1095.1 1349.8 1097.3 1350.7 1099.5 1352.4 1101.7 1356.4 1103.9 1356.3 1106.1 1357 1108.3 1358 1110.5 1357.1 1112.7 1357.5 1114.9 1358.7 1117.1 1358.8 1119.3 1357.6 1121.5 1355 1123.7 1354.2 1125.9 1352.9 1128.1 1352.6 1130.3 1352.6 1132.5 1353.1 1134.7 1353.2 1136.9 1351.8 1139.1 1353.1 1141.3 1354.1 1143.5 1357.4 1145.7 1359.1 1147.9 1358 1150.1 1360.3 1152.3 1360.2 1154.5 1361.4 1156.7 1361.5 1158.9 1360.7 1161.1 1361.8 1163.3 1359.2 1165.5 1359.8 1167.7 1360.2 1169.9 1359.8 1172.1 1361.7 1174.3 1360.3 1176.5 1363.9 1178.7 1365.8 1180.9 1365.7 1183.1 1363.4 1185.3 1364.3 1187.5 1362.5 1189.7 1362.3 1191.9 1359.4 1194.1 1359.2 1196.3 1354.5 1198.5 1349.4 1200.7 1343.8 1202.9 1342.4 1205.1 1344 1207.3 1346.7 1209.5 1351.4 1211.7 1355.7 1213.9 1358.1 1216.1 1360 1218.3 1361.5 1220.5 1359.1 1222.7 1350.9 1224.9 1348.1 1227.1 1345.5 1229.3 1345.6 1231.5 1344.4 1233.7 1343 1235.9 1340.6 1238.1 1337.7 1240.3 1337.4 1242.5 1336.2 1244.7 1339 1246.9 1342.8 1249.1 1350.9 1251.3 1359.7 1253.5 1364.2 1255.7 1364 1257.9 1364.7 1260.1 1365.9 1262.3 1370.2 1264.5 1368.5 1266.7 1370.2 1268.9 1372.5 1271.1 1371.3 1273.3 1373.3 1275.5 1374.4 1277.7 1375.3 1279.9 1378.7 1282.1 1380.4 1284.3 1378.9 1286.5 1382.5 1288.7 1381.8" fill="none" stroke="#e8303a" stroke-width="3.2" stroke-linejoin="round" stroke-linecap="round"/>
<path d="M806.9 1531.8 809.1 1531.2 811.3 1532.5 813.5 1531 815.7 1531 817.9 1531.6 820.1 1530.2 822.3 1530.2 824.5 1530.4 826.7 1530 828.9 1529.4 831.1 1529.8 833.3 1529.6 835.5 1530 837.7 1528.7 839.9 1529.1 842.1 1529.9 844.3 1530.2 846.5 1528.4 848.7 1529.3 850.9 1531.3 853.1 1534.6 855.3 1531.4 857.5 1529.4 859.7 1528.6 861.9 1528.2 864.1 1527.7 866.3 1527.2 868.5 1527.1 870.7 1526.9 872.9 1527.1 875.1 1526.1 877.3 1526.1 879.5 1525.6 881.7 1525.2 883.9 1525 886.1 1524.6 888.3 1524.7 890.5 1523.6 892.7 1524 894.9 1522.5 897.1 1521.6 899.3 1521.1 901.5 1520.4 903.7 1519.5 905.9 1518.6 908.1 1516.7 910.3 1514.5 912.5 1512.1 914.7 1508.3 916.9 1505.1 919.1 1500.2 921.3 1492.1 923.5 1483.5 925.7 1470.6 927.9 1453.9 930.1 1439.7 932.3 1441.2 934.5 1450.5 936.7 1464.9 938.9 1477.2 941.1 1483.4 943.3 1488.2 945.5 1490.6 947.7 1492.9 949.9 1494 952.1 1496 954.3 1496.7 956.5 1496.7 958.7 1499.5 960.9 1499.1 963.1 1501.7 965.3 1502.8 967.5 1502.5 969.7 1503.1 971.9 1503.9 974.1 1506.2 976.3 1507 978.5 1508 980.7 1509.5 982.9 1511.8 985.1 1510.7 987.3 1510.8 989.5 1510.6 991.7 1510.6 993.9 1510.1 996.1 1508.3 998.3 1507.6 1000.5 1506.4 1002.7 1505.5 1004.9 1506.1 1007.1 1505.3 1009.3 1505.5 1011.5 1505.2 1013.7 1505.2 1015.9 1506.6 1018.1 1506.8 1020.3 1507.5 1022.5 1508.8 1024.7 1509.5 1026.9 1510.4 1029.1 1510.8 1031.3 1510.5 1033.5 1512.4 1035.7 1513.1 1037.9 1513.9 1040.1 1513.4 1042.3 1515.5 1044.5 1514 1046.7 1515.4 1048.9 1515.4 1051.1 1515.5 1053.3 1516.3 1055.5 1515.9 1057.7 1515.1 1059.9 1515.8 1062.1 1516.3 1064.3 1516.6 1066.5 1514.2 1068.7 1514.4 1070.9 1515.5 1073.1 1515.4 1075.3 1515.3 1077.5 1515.1 1079.7 1515.3 1081.9 1516 1084.1 1516 1086.3 1514.8 1088.5 1514.8 1090.7 1515.6 1092.9 1515 1095.1 1514.5 1097.3 1514.5 1099.5 1514 1101.7 1514.8 1103.9 1515 1106.1 1515.2 1108.3 1514.4 1110.5 1514.3 1112.7 1514.6 1114.9 1514.4 1117.1 1513.9 1119.3 1513.4 1121.5 1512.2 1123.7 1511.3 1125.9 1512.2 1128.1 1511.4 1130.3 1511.1 1132.5 1510.4 1134.7 1510.1 1136.9 1511.6 1139.1 1511.2 1141.3 1510.6 1143.5 1511.4 1145.7 1511.8 1147.9 1512.5 1150.1 1513.9 1152.3 1513.3 1154.5 1513.2 1156.7 1514.4 1158.9 1514.6 1161.1 1515.8 1163.3 1516.2 1165.5 1516.5 1167.7 1515.5 1169.9 1515.4 1172.1 1514.4 1174.3 1514.4 1176.5 1513.5 1178.7 1512.8 1180.9 1513.2 1183.1 1512.3 1185.3 1513 1187.5 1512.1 1189.7 1511.5 1191.9 1510.6 1194.1 1509.8 1196.3 1507.9 1198.5 1508.3 1200.7 1505.3 1202.9 1504.6 1205.1 1505.7 1207.3 1507.6 1209.5 1508.7 1211.7 1509.4 1213.9 1507.8 1216.1 1505.9 1218.3 1498.7 1220.5 1491.5 1222.7 1475 1224.9 1457.9 1227.1 1450.2 1229.3 1460.2 1231.5 1474.5 1233.7 1488.9 1235.9 1491.8 1238.1 1493.4 1240.3 1496.8 1242.5 1500.9 1244.7 1504.1 1246.9 1506.2 1249.1 1507.6 1251.3 1510.1 1253.5 1511.7 1255.7 1514 1257.9 1515.3 1260.1 1517.2 1262.3 1518.2 1264.5 1519.1 1266.7 1521.2 1268.9 1520.6 1271.1 1521.3 1273.3 1522.5 1275.5 1524 1277.7 1524.3 1279.9 1524.6 1282.1 1524.7 1284.3 1526.5 1286.5 1525.9 1288.7 1526.1" fill="none" stroke="#f4808e" stroke-width="3.4" stroke-linejoin="round" stroke-linecap="round"/>
<path d="M806.9 1688.2 809.1 1688.4 811.3 1688.1 813.5 1687.7 815.7 1687 817.9 1687.9 820.1 1687.9 822.3 1687 824.5 1687.8 826.7 1687 828.9 1687.8 831.1 1687 833.3 1686.6 835.5 1686.9 837.7 1686.4 839.9 1686.3 842.1 1686.1 844.3 1685.9 846.5 1686 848.7 1685.9 850.9 1685.6 853.1 1685.9 855.3 1684.8 857.5 1684.8 859.7 1685 861.9 1684.2 864.1 1684.8 866.3 1684.3 868.5 1683.8 870.7 1683.8 872.9 1683.2 875.1 1682.7 877.3 1683.2 879.5 1683 881.7 1682.5 883.9 1682.2 886.1 1681.3 888.3 1681.4 890.5 1681.3 892.7 1681.3 894.9 1681.3 897.1 1680.3 899.3 1679.8 901.5 1679.8 903.7 1679.1 905.9 1678.3 908.1 1678.2 910.3 1676.4 912.5 1675.2 914.7 1673.8 916.9 1670.7 919.1 1667.1 921.3 1659.5 923.5 1649.5 925.7 1634 927.9 1619.1 930.1 1607.9 932.3 1610.5 934.5 1621 936.7 1636.4 938.9 1647.4 941.1 1657 943.3 1661.6 945.5 1666.3 947.7 1668.5 949.9 1669.5 952.1 1671.3 954.3 1672.2 956.5 1673.3 958.7 1674.6 960.9 1675.3 963.1 1675.7 965.3 1676.6 967.5 1677.2 969.7 1677.4 971.9 1677.6 974.1 1678.1 976.3 1677.9 978.5 1678.6 980.7 1678.9 982.9 1679.2 985.1 1679.7 987.3 1679 989.5 1680 991.7 1679.6 993.9 1680 996.1 1679.9 998.3 1679.5 1000.5 1680.1 1002.7 1679.7 1004.9 1680.1 1007.1 1679.8 1009.3 1679.8 1011.5 1680 1013.7 1680.5 1015.9 1680 1018.1 1679.8 1020.3 1680.2 1022.5 1679.7 1024.7 1679.5 1026.9 1679.2 1029.1 1679.5 1031.3 1679.4 1033.5 1679.1 1035.7 1678.7 1037.9 1679.1 1040.1 1679.1 1042.3 1678.8 1044.5 1678.6 1046.7 1678.4 1048.9 1678.5 1051.1 1678.9 1053.3 1678.4 1055.5 1677.8 1057.7 1678.4 1059.9 1677.9 1062.1 1678.7 1064.3 1677.8 1066.5 1677.9 1068.7 1678.1 1070.9 1678.1 1073.1 1678.1 1075.3 1678.1 1077.5 1678.1 1079.7 1678.1 1081.9 1678.2 1084.1 1678 1086.3 1678.2 1088.5 1678.2 1090.7 1678.2 1092.9 1677.9 1095.1 1677.8 1097.3 1677.8 1099.5 1677.3 1101.7 1677.2 1103.9 1677.1 1106.1 1676.7 1108.3 1676.5 1110.5 1676.4 1112.7 1675.6 1114.9 1676.1 1117.1 1675.4 1119.3 1674 1121.5 1674.9 1123.7 1674 1125.9 1674.3 1128.1 1673.8 1130.3 1674.1 1132.5 1674.5 1134.7 1674.2 1136.9 1674.2 1139.1 1674.6 1141.3 1675.2 1143.5 1675.1 1145.7 1675.2 1147.9 1674.9 1150.1 1674.9 1152.3 1675.1 1154.5 1674.9 1156.7 1674.5 1158.9 1675 1161.1 1674.5 1163.3 1674.2 1165.5 1674.2 1167.7 1674 1169.9 1674 1172.1 1673.6 1174.3 1673.2 1176.5 1673 1178.7 1672.4 1180.9 1672 1183.1 1672 1185.3 1671.3 1187.5 1670.7 1189.7 1670.2 1191.9 1669.8 1194.1 1669.7 1196.3 1669.1 1198.5 1669.5 1200.7 1669 1202.9 1669.1 1205.1 1668.9 1207.3 1668.3 1209.5 1667.6 1211.7 1667.1 1213.9 1664.6 1216.1 1661.3 1218.3 1652.4 1220.5 1640.8 1222.7 1624.1 1224.9 1608.1 1227.1 1602.4 1229.3 1610.2 1231.5 1622.9 1233.7 1637.2 1235.9 1649.2 1238.1 1659.6 1240.3 1662.3 1242.5 1666.5 1244.7 1669.2 1246.9 1670.1 1249.1 1671.8 1251.3 1672.3 1253.5 1674.5 1255.7 1674.7 1257.9 1675.6 1260.1 1675.2 1262.3 1676.7 1264.5 1677.1 1266.7 1677.5 1268.9 1677.3 1271.1 1677.8 1273.3 1678 1275.5 1677.9 1277.7 1677.8 1279.9 1678.1 1282.1 1678.4 1284.3 1679.1 1286.5 1679.3 1288.7 1679.6" fill="none" stroke="#fbc3ca" stroke-width="3.4" stroke-linejoin="round" stroke-linecap="round"/>
<line x1="931.4" y1="775.9" x2="931.4" y2="1681" stroke="#9b5fb5" stroke-width="4.8" stroke-dasharray="11.2 13" stroke-linecap="round" opacity=".95"/>
<circle cx="931.4" cy="761.6" r="9.1" fill="#a064b8"/>
<line x1="953.5" y1="775.9" x2="953.5" y2="1681" stroke="#4a97e0" stroke-width="4.8" stroke-dasharray="11.2 13" stroke-linecap="round" opacity=".95"/>
<circle cx="953.5" cy="757.7" r="9.1" fill="#5ba0e5"/>
<line x1="1017.3" y1="794" x2="1017.3" y2="1675" stroke="#f3a7ae" stroke-width="4.4" stroke-dasharray="11.2 13" stroke-linecap="round" opacity=".95"/>
<circle cx="1011.3" cy="776.5" r="9.1" fill="#f5b8bd"/>
<line x1="1134" y1="837" x2="1134" y2="1684" stroke="#f2606a" stroke-width="4.4" stroke-dasharray="11.2 13" stroke-linecap="round" opacity=".95"/>
<circle cx="1134" cy="817.6" r="9.1" fill="#f7656c"/>
<line x1="1203.8" y1="837" x2="1203.8" y2="1684" stroke="#f3c77f" stroke-width="4" stroke-dasharray="11.2 13" stroke-linecap="round" opacity=".95"/>
<circle cx="1203.8" cy="817.3" r="9.1" fill="#fbd48b"/>
<line x1="1226.9" y1="837" x2="1226.9" y2="1684" stroke="#dccbf6" stroke-width="4" stroke-dasharray="11.2 13" stroke-linecap="round" opacity=".95"/>
<circle cx="1226.9" cy="817" r="9.1" fill="#d9c6f7"/>
<line x1="1245.2" y1="837" x2="1245.2" y2="1684" stroke="#aad8ee" stroke-width="4" stroke-dasharray="11.2 13" stroke-linecap="round" opacity=".95"/>
<circle cx="1245.2" cy="817.3" r="9.1" fill="#d3ecf8"/>
<line x1="805.4" y1="1716.4" x2="1293" y2="1716.4" stroke="#000" stroke-width="3"/>
<path d="M806.9 1716.4v6.5M876.1 1716.4v3.2M945.3 1716.4v6.5M1014.5 1716.4v3.2M1083.7 1716.4v6.5M1152.9 1716.4v3.2M1222.1 1716.4v6.5M1291.3 1716.4v3.2" stroke="#000" stroke-width="2.6" fill="none"/>
<text transform="translate(812 1770) scale(1 1.035)" font-size="40" fill="#000" text-anchor="middle">1800</text>
<text transform="translate(948.4 1770) scale(1 1.035)" font-size="40" fill="#000" text-anchor="middle">1600</text>
<text transform="translate(1084.2 1770) scale(1 1.035)" font-size="40" fill="#000" text-anchor="middle">1400</text>
<text transform="translate(1220.3 1770) scale(1 1.035)" font-size="40" fill="#000" text-anchor="middle">1200</text>
<text transform="translate(1074.5 1819.6) scale(1 1.035)" font-size="44.3" fill="#000" text-anchor="middle">Raman shift (cm<tspan font-size="24" dy="-21">-1</tspan><tspan dy="21" font-size="1">&#8203;</tspan>)</text>
<text transform="translate(1269 812.6) scale(1 1.035)" font-size="40" fill="#000">1.5 V</text>
<text transform="translate(1269 979.6) scale(1 1.035)" font-size="40" fill="#000">1.4 V</text>
<text transform="translate(1269 1148) scale(1 1.035)" font-size="40" fill="#000">1.3 V</text>
<text transform="translate(1269 1342.7) scale(1 1.035)" font-size="40" fill="#000">1.5 V</text>
<text transform="translate(1269 1509.7) scale(1 1.035)" font-size="40" fill="#000">1.4 V</text>
<text transform="translate(1269 1677.4) scale(1 1.035)" font-size="40" fill="#000">1.3 V</text>
</g>
<g id="panel_d">
<defs><radialGradient id="mG" cx=".5" cy=".5" r=".62" fx="0.36" fy="0.32"><stop offset="0" stop-color="#5fa862"/><stop offset="0.35" stop-color="#347f38"/><stop offset="0.8" stop-color="#1f6425"/><stop offset="1" stop-color="#154a1a"/></radialGradient><radialGradient id="mR" cx=".5" cy=".5" r=".62" fx="0.36" fy="0.32"><stop offset="0" stop-color="#a05252"/><stop offset="0.35" stop-color="#7c2a2a"/><stop offset="0.8" stop-color="#611818"/><stop offset="1" stop-color="#4a1010"/></radialGradient><radialGradient id="mr" cx=".5" cy=".5" r=".62" fx="0.36" fy="0.32"><stop offset="0" stop-color="#b06a6a"/><stop offset="0.4" stop-color="#8a4040"/><stop offset="1" stop-color="#6c2a2a"/></radialGradient><radialGradient id="aO" cx=".5" cy=".5" r=".62" fx="0.36" fy="0.32"><stop offset="0" stop-color="#ff8a80"/><stop offset="0.3" stop-color="#f01010"/><stop offset="0.8" stop-color="#c00000"/><stop offset="1" stop-color="#800000"/></radialGradient><radialGradient id="aS" cx=".5" cy=".5" r=".62" fx="0.36" fy="0.32"><stop offset="0" stop-color="#fff59a"/><stop offset="0.35" stop-color="#f2d230"/><stop offset="0.85" stop-color="#d0a010"/><stop offset="1" stop-color="#9a7400"/></radialGradient><radialGradient id="aH" cx=".5" cy=".5" r=".62" fx="0.36" fy="0.32"><stop offset="0" stop-color="#ffffff"/><stop offset="0.4" stop-color="#e6e6e6"/><stop offset="0.8" stop-color="#b0b0b0"/><stop offset="1" stop-color="#8a8a8a"/></radialGradient><radialGradient id="aC" cx=".5" cy=".5" r=".62" fx="0.36" fy="0.32"><stop offset="0" stop-color="#e0e0e0"/><stop offset="0.4" stop-color="#a4a4a4"/><stop offset="0.85" stop-color="#777"/><stop offset="1" stop-color="#555"/></radialGradient><radialGradient id="aF" cx=".5" cy=".5" r=".62" fx="0.36" fy="0.32"><stop offset="0" stop-color="#f4feff"/><stop offset="0.4" stop-color="#c2eef8"/><stop offset="0.85" stop-color="#9ad6e4"/><stop offset="1" stop-color="#7ab8c8"/></radialGradient><radialGradient id="aN" cx=".5" cy=".5" r=".62" fx="0.36" fy="0.32"><stop offset="0" stop-color="#4a8ad0"/><stop offset="0.4" stop-color="#185a9c"/><stop offset="1" stop-color="#0a3060"/></radialGradient><radialGradient id="aN2" cx=".5" cy=".5" r=".62" fx="0.36" fy="0.32"><stop offset="0" stop-color="#4a6af0"/><stop offset="0.4" stop-color="#1a30c0"/><stop offset="1" stop-color="#0a1870"/></radialGradient><radialGradient id="aI" cx=".5" cy=".5" r=".62" fx="0.36" fy="0.32"><stop offset="0" stop-color="#9a5ad0"/><stop offset="0.4" stop-color="#5a1a9a"/><stop offset="1" stop-color="#300a60"/></radialGradient><radialGradient id="aT" cx=".5" cy=".5" r=".62" fx="0.36" fy="0.32"><stop offset="0" stop-color="#3a9ab0"/><stop offset="0.4" stop-color="#0e607e"/><stop offset="1" stop-color="#0a3a50"/></radialGradient><radialGradient id="aB" cx=".5" cy=".5" r=".62" fx="0.36" fy="0.32"><stop offset="0" stop-color="#a07070"/><stop offset="0.4" stop-color="#7a4a4a"/><stop offset="1" stop-color="#553030"/></radialGradient><radialGradient id="aGr" cx=".5" cy=".5" r=".62" fx="0.36" fy="0.32"><stop offset="0" stop-color="#90b090"/><stop offset="0.4" stop-color="#5a8a5a"/><stop offset="1" stop-color="#3a5a3a"/></radialGradient></defs>
<rect x="1624.5" y="802.8" width="261" height="120.6" rx="14" fill="#f6f9fe"/>
<rect x="1616.5" y="1444.4" width="261.5" height="138.5" rx="16" fill="#fff7f7"/>
<path d="M1718.9 587.3L1706.6 567.3M1718.9 587.3L1740.2 583.3M1718.9 587.3L1726.6 596.8M1718.9 587.3L1705.4 605" stroke="#b0b0b0" stroke-width="1.6" fill="none"/>
<path d="M1726.6 602.9L1731.7 620.5" stroke="#c8c8c8" stroke-width="1.6" fill="none" stroke-dasharray="2 2"/>
<circle cx="1706.6" cy="567.3" r="6.4" fill="url(#aO)"/>
<circle cx="1740.2" cy="583.3" r="6.4" fill="url(#aO)"/>
<circle cx="1705.4" cy="605" r="6.4" fill="url(#aO)"/>
<circle cx="1718.9" cy="587.3" r="6.7" fill="url(#aS)"/>
<circle cx="1726.6" cy="596.8" r="6.1" fill="url(#aO)"/>
<ellipse cx="1655.3" cy="683.8" rx="14.5" ry="14.1" fill="url(#mR)"/>
<ellipse cx="1660.9" cy="698.2" rx="14.1" ry="8.5" fill="url(#mG)"/>
<rect x="1643.3" y="703.1" width="23.9" height="13.4" rx="6.7" transform="rotate(98.7 1655.3 709.8)" fill="url(#mG)"/>
<ellipse cx="1672.9" cy="717.5" rx="7.4" ry="7.9" fill="url(#mr)"/>
<ellipse cx="1651.3" cy="725.5" rx="9.2" ry="8.8" fill="url(#mr)"/>
<ellipse cx="1636.1" cy="723.9" rx="6.3" ry="6.3" fill="url(#mG)"/>
<ellipse cx="1640.9" cy="746.3" rx="8.8" ry="8.8" fill="url(#mR)"/>
<ellipse cx="1654.5" cy="753.5" rx="7.9" ry="8.5" fill="url(#mG)"/>
<circle cx="1664.9" cy="713.4" r="5.4" fill="url(#aC)"/>
<circle cx="1660.1" cy="734.3" r="5.4" fill="url(#aC)"/>
<circle cx="1642.5" cy="724.7" r="3.8" fill="url(#aC)"/>
<circle cx="1648.1" cy="748.7" r="3.8" fill="url(#aC)"/>
<circle cx="1658.2" cy="687.5" r="6.4" fill="url(#aI)"/>
<rect x="1683.8" y="687" width="18.3" height="11.2" rx="5.6" transform="rotate(-153.4 1692.9 692.6)" fill="url(#mr)"/>
<rect x="1653.7" y="658.3" width="65.6" height="24.5" rx="12.3" transform="rotate(56.9 1686.5 670.6)" fill="url(#mG)"/>
<path d="M1696.1 642.1L1722.6 644.5L1717.8 676.6z" fill="#6b1c1c" stroke="#6b1c1c" stroke-width="14" stroke-linejoin="round"/>
<ellipse cx="1712.2" cy="654.2" rx="10.6" ry="12.3" fill="url(#mR)" opacity="0.6"/>
<rect x="1739.1" y="629.6" width="33.5" height="11.5" rx="5.8" transform="rotate(-10.5 1755.8 635.3)" fill="url(#mR)"/>
<rect x="1721.6" y="632.8" width="42.8" height="17.1" rx="8.6" transform="rotate(38.7 1743 641.3)" fill="url(#mG)"/>
<rect x="1768" y="619.4" width="29.4" height="13.4" rx="6.7" transform="rotate(0 1782.7 626.1)" fill="url(#mG)"/>
<ellipse cx="1786.7" cy="642.1" rx="12.3" ry="9.7" fill="url(#mR)"/>
<ellipse cx="1776.3" cy="674.2" rx="16.2" ry="9.9" fill="url(#mR)"/>
<rect x="1764" y="652.8" width="30.9" height="11.5" rx="5.8" transform="rotate(-7.1 1779.5 658.6)" fill="url(#mG)"/>
<ellipse cx="1806.7" cy="649.3" rx="10.6" ry="7.1" fill="url(#mR)"/>
<rect x="1794.7" y="642.3" width="41.7" height="23.8" rx="11.9" transform="rotate(-10.3 1815.5 654.2)" fill="url(#mG)"/>
<rect x="1807.7" y="669.1" width="59.7" height="27.9" rx="13.9" transform="rotate(-33.7 1837.6 683)" fill="url(#mR)"/>
<rect x="1824" y="716.7" width="39.1" height="11.2" rx="5.6" transform="rotate(-23.6 1843.6 722.3)" fill="url(#mR)"/>
<rect x="1816.3" y="692.4" width="70.5" height="26" rx="13" transform="rotate(-30.3 1851.6 705.4)" fill="url(#mG)"/>
<ellipse cx="1870.8" cy="734.3" rx="18" ry="18" fill="url(#mR)"/>
<circle cx="1869.7" cy="730.8" r="6.1" fill="url(#aI)"/>
<circle cx="1733.8" cy="638.5" r="5.8" fill="url(#aN)"/>
<circle cx="1820.8" cy="657" r="6.1" fill="url(#aN2)"/>
<circle cx="1720.5" cy="639.3" r="4.8" fill="url(#aO)"/>
<circle cx="1695.7" cy="626.6" r="4" fill="url(#aH)"/>
<circle cx="1717.3" cy="627.2" r="4" fill="url(#aH)"/>
<circle cx="1731.7" cy="621.8" r="4" fill="url(#aH)"/>
<circle cx="1761" cy="617.3" r="4" fill="url(#aH)"/>
<circle cx="1800.6" cy="625.3" r="4" fill="url(#aH)"/>
<circle cx="1661.2" cy="649.3" r="4" fill="url(#aH)"/>
<circle cx="1732.7" cy="682.2" r="4" fill="url(#aH)"/>
<circle cx="1700.2" cy="704.2" r="4" fill="url(#aH)"/>
<circle cx="1675" cy="701.9" r="4" fill="url(#aH)"/>
<circle cx="1755.1" cy="673.7" r="4" fill="url(#aH)"/>
<circle cx="1794.7" cy="681.1" r="4" fill="url(#aH)"/>
<circle cx="1864.1" cy="659.3" r="4" fill="url(#aH)"/>
<circle cx="1803.8" cy="698.2" r="4" fill="url(#aH)"/>
<circle cx="1886.8" cy="692.9" r="4" fill="url(#aH)"/>
<circle cx="1825.9" cy="732.7" r="4" fill="url(#aH)"/>
<circle cx="1668.9" cy="737.5" r="4" fill="url(#aH)"/>
<circle cx="1629.2" cy="755.9" r="4" fill="url(#aH)"/>
<circle cx="1645.7" cy="765.5" r="4" fill="url(#aH)"/>
<circle cx="1731.7" cy="647.4" r="4" fill="url(#aH)"/>
<path d="M1719.4 964.3L1707 944.5M1719.4 964.3L1740.5 960.6M1719.4 964.3L1726.6 973.9M1719.4 964.3L1705.8 981.9" stroke="#b0b0b0" stroke-width="1.6" fill="none"/>
<path d="M1727.4 980.3L1732.7 997.1" stroke="#c8c8c8" stroke-width="1.6" fill="none" stroke-dasharray="2 2"/>
<path d="M1831.5 1053.2L1856.4 1051.9M1856.4 1051.9L1868.4 1070M1868.4 1070L1857.5 1092M1857.5 1092L1834 1092M1834 1092L1821.9 1074M1821.9 1074L1831.5 1053.2M1857.5 1092L1869.7 1108.5M1821.9 1074L1803.8 1075.3M1868.4 1070L1886.8 1070M1856.4 1051.9L1864.4 1035.6M1834 1092L1826.7 1108.5M1869.7 1108.5L1860.4 1122.4M1808.3 1034L1821.9 1034" stroke="#a8a8a8" stroke-width="1.4" fill="none"/>
<circle cx="1707" cy="944.5" r="6.4" fill="url(#aO)"/>
<circle cx="1740.5" cy="960.6" r="6.4" fill="url(#aO)"/>
<circle cx="1705.8" cy="981.9" r="6.4" fill="url(#aO)"/>
<circle cx="1719.4" cy="964.3" r="6.7" fill="url(#aS)"/>
<circle cx="1726.6" cy="973.9" r="6.1" fill="url(#aO)"/>
<ellipse cx="1676.9" cy="1091.7" rx="10.9" ry="14.5" fill="url(#mR)"/>
<ellipse cx="1640.1" cy="1123.7" rx="21.5" ry="17.6" fill="url(#mR)"/>
<ellipse cx="1662.5" cy="1130.9" rx="14.5" ry="19.7" fill="url(#mG)" transform="rotate(20 1662.5 1130.9)"/>
<ellipse cx="1648.1" cy="1087.6" rx="28.2" ry="17.6" fill="url(#mG)" transform="rotate(-12 1648.1 1087.6)"/>
<ellipse cx="1672.1" cy="1066.8" rx="15" ry="10.6" fill="url(#mG)"/>
<rect x="1635.8" y="1040.1" width="56.6" height="24.5" rx="12.3" transform="rotate(2.9 1664.1 1052.4)" fill="url(#mR)"/>
<rect x="1672" y="1049.4" width="35.4" height="14.9" rx="7.4" transform="rotate(20.6 1689.7 1056.8)" fill="url(#mR)"/>
<ellipse cx="1725" cy="1058" rx="12.7" ry="9.2" fill="url(#mR)"/>
<ellipse cx="1696.1" cy="1030" rx="14.5" ry="7.4" fill="url(#mR)"/>
<rect x="1663.4" y="1015.1" width="44.7" height="18.6" rx="9.3" transform="rotate(-47.5 1685.7 1024.3)" fill="url(#mG)"/>
<rect x="1684.2" y="1015.1" width="41.5" height="15.2" rx="7.6" transform="rotate(37.6 1705 1022.7)" fill="url(#mG)"/>
<rect x="1692.4" y="1032" width="42.7" height="20.8" rx="10.4" transform="rotate(98.4 1713.8 1042.4)" fill="url(#mG)"/>
<rect x="1688.7" y="1057.9" width="37.4" height="13" rx="6.5" transform="rotate(113.2 1707.4 1064.4)" fill="url(#mG)"/>
<ellipse cx="1733" cy="1012.8" rx="13.4" ry="13" fill="url(#mR)"/>
<ellipse cx="1733.8" cy="1026.3" rx="8.1" ry="6" fill="url(#mG)"/>
<ellipse cx="1769.9" cy="1000.3" rx="8.8" ry="8.5" fill="url(#mR)"/>
<ellipse cx="1770.7" cy="1035.6" rx="7.4" ry="14.5" fill="url(#mR)"/>
<rect x="1732.3" y="1017.3" width="55.8" height="26" rx="13" transform="rotate(96.2 1760.2 1030.4)" fill="url(#mG)"/>
<ellipse cx="1803.8" cy="1020.3" rx="9.2" ry="14.5" fill="url(#mG)"/>
<path d="M1787.5 1017.1L1803.5 1034L1787.5 1046.8z" fill="#6b1c1c" stroke="#6b1c1c" stroke-width="14" stroke-linejoin="round"/>
<ellipse cx="1793.9" cy="1032.4" rx="9.7" ry="12.3" fill="url(#mR)" opacity="0.7"/>
<rect x="1814.1" y="1040.1" width="28.5" height="13.4" rx="6.7" transform="rotate(58 1828.3 1046.8)" fill="url(#mG)"/>
<circle cx="1856.4" cy="1051.9" r="6.4" fill="url(#aC)"/>
<circle cx="1821.9" cy="1074" r="6.4" fill="url(#aC)"/>
<circle cx="1857.5" cy="1092" r="6.4" fill="url(#aC)"/>
<circle cx="1868.4" cy="1070" r="6.1" fill="url(#aB)"/>
<circle cx="1834" cy="1092" r="6.1" fill="url(#aB)"/>
<circle cx="1869.7" cy="1108.5" r="7.7" fill="url(#aT)"/>
<circle cx="1821.9" cy="1034" r="5.4" fill="url(#aN2)"/>
<circle cx="1658" cy="1064.7" r="5.4" fill="url(#aN2)"/>
<circle cx="1733.8" cy="1015.5" r="5.6" fill="url(#aI)"/>
<circle cx="1720.5" cy="1016.7" r="5.6" fill="url(#aO)"/>
<circle cx="1662.5" cy="1025.2" r="4" fill="url(#aH)"/>
<circle cx="1696.6" cy="1002.2" r="4" fill="url(#aH)"/>
<circle cx="1717.5" cy="1003.8" r="4" fill="url(#aH)"/>
<circle cx="1733" cy="998.7" r="4" fill="url(#aH)"/>
<circle cx="1761" cy="993.9" r="4" fill="url(#aH)"/>
<circle cx="1800.3" cy="1001.9" r="4" fill="url(#aH)"/>
<circle cx="1831.5" cy="1020.8" r="4" fill="url(#aH)"/>
<circle cx="1864.4" cy="1035.6" r="4" fill="url(#aH)"/>
<circle cx="1886.8" cy="1070" r="4" fill="url(#aH)"/>
<circle cx="1803.8" cy="1075.3" r="4" fill="url(#aH)"/>
<circle cx="1826.7" cy="1108.5" r="4" fill="url(#aH)"/>
<circle cx="1860.4" cy="1122.4" r="4" fill="url(#aH)"/>
<circle cx="1794.2" cy="1058" r="4" fill="url(#aH)"/>
<circle cx="1733.3" cy="1058.8" r="4" fill="url(#aH)"/>
<circle cx="1700.2" cy="1082" r="4" fill="url(#aH)"/>
<circle cx="1674.5" cy="1078" r="4" fill="url(#aH)"/>
<circle cx="1667.3" cy="1114.1" r="4" fill="url(#aH)"/>
<circle cx="1644.9" cy="1142.1" r="4" fill="url(#aH)"/>
<circle cx="1732.2" cy="1023.5" r="4" fill="url(#aH)"/>
<circle cx="1717.8" cy="1028.4" r="4" fill="url(#aH)"/>
<ellipse cx="1657.7" cy="1320.4" rx="15.9" ry="15.9" fill="url(#mR)"/>
<ellipse cx="1659.3" cy="1334" rx="16.2" ry="9.2" fill="url(#mG)"/>
<rect x="1645" y="1336" width="25.4" height="15.2" rx="7.6" transform="rotate(71.6 1657.7 1343.6)" fill="url(#mG)"/>
<ellipse cx="1677.7" cy="1350" rx="8.8" ry="9.7" fill="url(#mr)"/>
<ellipse cx="1651.3" cy="1358.1" rx="10.6" ry="9.7" fill="url(#mr)"/>
<ellipse cx="1634.5" cy="1355.7" rx="7.9" ry="7.9" fill="url(#mG)"/>
<ellipse cx="1642.5" cy="1373.3" rx="10.9" ry="10.2" fill="url(#mR)"/>
<ellipse cx="1656.1" cy="1383.7" rx="9.9" ry="10.2" fill="url(#mG)"/>
<circle cx="1664.9" cy="1362.9" r="5.6" fill="url(#aC)"/>
<circle cx="1668.9" cy="1345.2" r="4.8" fill="url(#aC)"/>
<circle cx="1660.1" cy="1324.7" r="6.4" fill="url(#aI)"/>
<rect x="1673.4" y="1322.5" width="32.8" height="16.7" rx="8.4" transform="rotate(36.9 1689.7 1330.8)" fill="url(#mr)"/>
<rect x="1653.6" y="1297.4" width="70.7" height="26" rx="13" transform="rotate(57.4 1688.9 1310.4)" fill="url(#mG)"/>
<rect x="1681.5" y="1285.6" width="63" height="26.4" rx="13.2" transform="rotate(61.2 1713 1298.8)" fill="url(#mR)"/>
<rect x="1692.9" y="1306.8" width="32.1" height="4.8" rx="2.4" transform="rotate(61.9 1709 1309.2)" fill="url(#mG)"/>
<ellipse cx="1723.4" cy="1322.8" rx="8.8" ry="6.2" fill="url(#mG)"/>
<ellipse cx="1737.8" cy="1295.6" rx="12.3" ry="7.1" fill="url(#mR)"/>
<ellipse cx="1760.2" cy="1289.2" rx="7.4" ry="7.4" fill="url(#mR)"/>
<rect x="1719.9" y="1273.5" width="42.2" height="24.2" rx="12.1" transform="rotate(69.1 1741 1285.6)" fill="url(#mG)"/>
<ellipse cx="1787.5" cy="1280.3" rx="15" ry="6.3" fill="url(#mG)" transform="rotate(18 1787.5 1280.3)"/>
<ellipse cx="1773.9" cy="1284" rx="8.8" ry="8.5" fill="url(#mR)"/>
<ellipse cx="1796.3" cy="1290.8" rx="8.1" ry="8.1" fill="url(#mR)"/>
<rect x="1757.8" y="1317.5" width="35.4" height="17.1" rx="8.6" transform="rotate(15.3 1775.5 1326)" fill="url(#mR)"/>
<rect x="1758.6" y="1308.2" width="33.6" height="12.3" rx="6.1" transform="rotate(13 1775.5 1314.3)" fill="url(#mG)"/>
<ellipse cx="1801.9" cy="1304.4" rx="7.4" ry="7.1" fill="url(#mR)"/>
<ellipse cx="1819.5" cy="1321.2" rx="13.2" ry="6" fill="url(#mR)"/>
<rect x="1793.3" y="1300.4" width="46" height="20.1" rx="10" transform="rotate(-8.9 1816.3 1310.4)" fill="url(#mG)"/>
<rect x="1806.2" y="1330.6" width="59.6" height="29.4" rx="14.7" transform="rotate(-21.8 1836 1345.2)" fill="url(#mG)"/>
<rect x="1809.1" y="1325.1" width="57.6" height="27.5" rx="13.8" transform="rotate(-25.2 1838 1338.8)" fill="url(#mR)"/>
<rect x="1814.4" y="1359.4" width="63.1" height="24.5" rx="12.3" transform="rotate(-16.9 1846 1371.7)" fill="url(#mR)"/>
<rect x="1819.1" y="1350.2" width="63.4" height="23.8" rx="11.9" transform="rotate(-21.4 1850.8 1362.1)" fill="url(#mG)"/>
<ellipse cx="1859.6" cy="1400.5" rx="16.2" ry="15.5" fill="url(#mG)"/>
<ellipse cx="1866" cy="1393.3" rx="15.9" ry="15.9" fill="url(#mR)"/>
<path d="M1748.7 1228.3L1740.5 1208.7M1748.7 1228.3L1762.6 1225.4M1748.7 1228.3L1733.3 1246.2M1748.7 1228.3L1768.3 1239.5M1768.3 1239.5L1785.1 1225.1M1768.3 1239.5L1756.7 1241.1M1768.3 1239.5L1777.1 1258.4M1842.3 1267L1829.9 1249.9M1842.3 1267L1861.2 1260.3M1842.3 1267L1848.7 1284.3M1842.3 1267L1823.5 1281.9M1823.5 1281.9L1814.7 1268.3M1823.5 1281.9L1808.3 1290.8M1823.5 1281.9L1834.8 1296.4M1807.5 1234.4L1814.7 1241.1M1814.7 1241.1L1829.9 1249.9M1777.1 1258.4L1771.5 1267.5" stroke="#b4b4b4" stroke-width="1.6" fill="none"/>
<path d="M1733.8 1252.3L1735.4 1266.7M1785.1 1225.1L1807.5 1234.4M1771.5 1271.5L1773.9 1281.1" stroke="#c8c8c8" stroke-width="1.6" fill="none" stroke-dasharray="2 2"/>
<circle cx="1740.5" cy="1208.7" r="6.4" fill="url(#aO)"/>
<circle cx="1733.3" cy="1246.2" r="6.4" fill="url(#aO)"/>
<circle cx="1807.5" cy="1234.4" r="6.4" fill="url(#aO)"/>
<circle cx="1829.9" cy="1249.9" r="6.4" fill="url(#aO)"/>
<circle cx="1861.2" cy="1260.3" r="6.4" fill="url(#aO)"/>
<circle cx="1848.7" cy="1284.3" r="6.4" fill="url(#aO)"/>
<circle cx="1748.7" cy="1228.3" r="6.7" fill="url(#aS)"/>
<circle cx="1842.3" cy="1267" r="6.7" fill="url(#aS)"/>
<circle cx="1756.7" cy="1241.1" r="6.1" fill="url(#aF)"/>
<circle cx="1785.1" cy="1225.1" r="6.1" fill="url(#aF)"/>
<circle cx="1777.1" cy="1258.4" r="6.1" fill="url(#aF)"/>
<circle cx="1814.7" cy="1268.3" r="6.1" fill="url(#aF)"/>
<circle cx="1808.3" cy="1290.8" r="6.1" fill="url(#aF)"/>
<circle cx="1834.8" cy="1296.4" r="6.1" fill="url(#aF)"/>
<circle cx="1768.3" cy="1239.5" r="6.4" fill="url(#aC)"/>
<circle cx="1823.5" cy="1281.9" r="6.4" fill="url(#aC)"/>
<circle cx="1762.6" cy="1225.4" r="6.4" fill="url(#aO)"/>
<circle cx="1793.1" cy="1232.8" r="3.8" fill="url(#aH)"/>
<circle cx="1814.7" cy="1241.1" r="3.8" fill="url(#aH)"/>
<circle cx="1771.5" cy="1267.5" r="3.8" fill="url(#aH)"/>
<circle cx="1808.3" cy="1279.5" r="3.8" fill="url(#aH)"/>
<circle cx="1736.5" cy="1287.6" r="5.8" fill="url(#aN)"/>
<circle cx="1822.7" cy="1315.6" r="6.1" fill="url(#aN2)"/>
<circle cx="1861.5" cy="1393" r="6.1" fill="url(#aI)"/>
<circle cx="1700.2" cy="1270.7" r="4" fill="url(#aH)"/>
<circle cx="1663.3" cy="1290.8" r="4" fill="url(#aH)"/>
<circle cx="1734.6" cy="1326.8" r="4" fill="url(#aH)"/>
<circle cx="1750.6" cy="1326.8" r="4" fill="url(#aH)"/>
<circle cx="1789.1" cy="1339.2" r="4" fill="url(#aH)"/>
<circle cx="1803.5" cy="1349.7" r="4" fill="url(#aH)"/>
<circle cx="1864.4" cy="1324.4" r="4" fill="url(#aH)"/>
<circle cx="1882.8" cy="1360.5" r="4" fill="url(#aH)"/>
<circle cx="1821.1" cy="1383.7" r="4" fill="url(#aH)"/>
<circle cx="1700.6" cy="1343.6" r="4" fill="url(#aH)"/>
<circle cx="1680.1" cy="1334.8" r="4" fill="url(#aH)"/>
<circle cx="1673.7" cy="1365.3" r="4" fill="url(#aH)"/>
<circle cx="1625.6" cy="1388.8" r="4" fill="url(#aH)"/>
<circle cx="1645.7" cy="1393" r="4" fill="url(#aH)"/>
<circle cx="1850.8" cy="1404.5" r="4" fill="url(#aH)"/>
<path d="M1832.7 1744.6L1855.6 1744.6M1855.6 1744.6L1864.7 1763.9M1864.7 1763.9L1853.2 1782.3M1853.2 1782.3L1830.4 1777.5M1830.4 1777.5L1820.8 1759.1M1820.8 1759.1L1832.7 1744.6M1853.2 1782.3L1863.6 1799.9M1820.8 1759.1L1803.8 1756.7M1864.7 1763.9L1882.3 1767.5M1855.6 1744.6L1865.2 1731.8M1830.4 1777.5L1821.9 1791.9M1863.6 1799.9L1852.9 1812.4M1809.9 1721.4L1823.5 1723" stroke="#a8a8a8" stroke-width="1.4" fill="none"/>
<ellipse cx="1680.1" cy="1755" rx="10.9" ry="14.5" fill="url(#mG)"/>
<ellipse cx="1664.1" cy="1791.9" rx="16.2" ry="19.7" fill="url(#mR)" transform="rotate(22 1664.1 1791.9)"/>
<ellipse cx="1641.7" cy="1777.5" rx="23.3" ry="16.2" fill="url(#mG)" transform="rotate(-15 1641.7 1777.5)"/>
<ellipse cx="1649.7" cy="1750.2" rx="28.2" ry="17.6" fill="url(#mR)" transform="rotate(-12 1649.7 1750.2)"/>
<ellipse cx="1648.1" cy="1739" rx="9.7" ry="8.8" fill="url(#mR)"/>
<ellipse cx="1726.6" cy="1734.2" rx="12.7" ry="8.1" fill="url(#mG)"/>
<rect x="1639" y="1706.7" width="56.6" height="24.5" rx="12.3" transform="rotate(2.9 1667.3 1719)" fill="url(#mG)"/>
<rect x="1675.8" y="1717.1" width="34.2" height="13.4" rx="6.7" transform="rotate(22.6 1692.9 1723.8)" fill="url(#mG)"/>
<ellipse cx="1696.1" cy="1705.4" rx="14.5" ry="7.4" fill="url(#mG)"/>
<rect x="1668.9" y="1684.7" width="43.2" height="20.4" rx="10.2" transform="rotate(-39.3 1690.5 1695)" fill="url(#mR)"/>
<rect x="1687.4" y="1688" width="43.2" height="17.1" rx="8.6" transform="rotate(42.5 1709 1696.6)" fill="url(#mR)"/>
<rect x="1693.2" y="1705.7" width="47.6" height="24.2" rx="12.1" transform="rotate(97.9 1717 1717.8)" fill="url(#mR)"/>
<rect x="1693.5" y="1730.9" width="32.6" height="13" rx="6.5" transform="rotate(125 1709.8 1737.4)" fill="url(#mR)"/>
<ellipse cx="1737" cy="1705.4" rx="9.9" ry="6.3" fill="url(#mR)"/>
<ellipse cx="1737.8" cy="1690.2" rx="14.5" ry="14.1" fill="url(#mG)"/>
<ellipse cx="1776.3" cy="1684.5" rx="9.2" ry="8.8" fill="url(#mG)"/>
<ellipse cx="1770.7" cy="1716.6" rx="7.4" ry="14.5" fill="url(#mG)"/>
<rect x="1736.6" y="1695.8" width="58.6" height="27.9" rx="13.9" transform="rotate(105.1 1765.8 1709.8)" fill="url(#mR)"/>
<ellipse cx="1807" cy="1703" rx="7.4" ry="16.2" fill="url(#mR)"/>
<path d="M1796.3 1696.6L1806.7 1721.4L1784.3 1731z" fill="#236a28" stroke="#236a28" stroke-width="14" stroke-linejoin="round"/>
<ellipse cx="1798.7" cy="1715" rx="9.7" ry="11.5" fill="url(#mG)" opacity="0.7"/>
<rect x="1815.7" y="1726.6" width="29.2" height="15.2" rx="7.6" transform="rotate(66.4 1830.3 1734.2)" fill="url(#mR)"/>
<path d="M1748.7 1635.2L1740.5 1615.6M1748.7 1635.2L1762.6 1632.3M1748.7 1635.2L1733.3 1653.1M1748.7 1635.2L1768.3 1646.4M1768.3 1646.4L1785.1 1632M1768.3 1646.4L1756.7 1648M1768.3 1646.4L1777.1 1665.3M1842.3 1674L1829.9 1656.8M1842.3 1674L1861.2 1667.2M1842.3 1674L1848.7 1691.3M1842.3 1674L1823.5 1688.9M1823.5 1688.9L1814.7 1675.2M1823.5 1688.9L1808.3 1697.7M1823.5 1688.9L1834.8 1703.3M1807.5 1641.3L1814.7 1648M1814.7 1648L1829.9 1656.8M1777.1 1665.3L1771.5 1674.4" stroke="#b4b4b4" stroke-width="1.6" fill="none"/>
<path d="M1733.8 1659.2L1735.4 1673.6M1785.1 1632L1807.5 1641.3M1771.5 1678.5L1773.9 1688.1" stroke="#c8c8c8" stroke-width="1.6" fill="none" stroke-dasharray="2 2"/>
<circle cx="1740.5" cy="1615.6" r="6.4" fill="url(#aO)"/>
<circle cx="1733.3" cy="1653.1" r="6.4" fill="url(#aO)"/>
<circle cx="1807.5" cy="1641.3" r="6.4" fill="url(#aO)"/>
<circle cx="1829.9" cy="1656.8" r="6.4" fill="url(#aO)"/>
<circle cx="1861.2" cy="1667.2" r="6.4" fill="url(#aO)"/>
<circle cx="1848.7" cy="1691.3" r="6.4" fill="url(#aO)"/>
<circle cx="1748.7" cy="1635.2" r="6.7" fill="url(#aS)"/>
<circle cx="1842.3" cy="1674" r="6.7" fill="url(#aS)"/>
<circle cx="1756.7" cy="1648" r="6.1" fill="url(#aF)"/>
<circle cx="1785.1" cy="1632" r="6.1" fill="url(#aF)"/>
<circle cx="1777.1" cy="1665.3" r="6.1" fill="url(#aF)"/>
<circle cx="1814.7" cy="1675.2" r="6.1" fill="url(#aF)"/>
<circle cx="1808.3" cy="1697.7" r="6.1" fill="url(#aF)"/>
<circle cx="1834.8" cy="1703.3" r="6.1" fill="url(#aF)"/>
<circle cx="1768.3" cy="1646.4" r="6.4" fill="url(#aC)"/>
<circle cx="1823.5" cy="1688.9" r="6.4" fill="url(#aC)"/>
<circle cx="1762.6" cy="1632.3" r="6.4" fill="url(#aO)"/>
<circle cx="1793.1" cy="1639.7" r="3.8" fill="url(#aH)"/>
<circle cx="1814.7" cy="1648" r="3.8" fill="url(#aH)"/>
<circle cx="1771.5" cy="1674.4" r="3.8" fill="url(#aH)"/>
<circle cx="1808.3" cy="1686.5" r="3.8" fill="url(#aH)"/>
<circle cx="1832.7" cy="1744.6" r="6.4" fill="url(#aC)"/>
<circle cx="1855.6" cy="1744.6" r="6.4" fill="url(#aC)"/>
<circle cx="1853.2" cy="1782.3" r="6.4" fill="url(#aC)"/>
<circle cx="1820.8" cy="1759.1" r="6.4" fill="url(#aC)"/>
<circle cx="1864.7" cy="1763.9" r="6.4" fill="url(#aGr)"/>
<circle cx="1830.4" cy="1777.5" r="6.4" fill="url(#aGr)"/>
<ellipse cx="1861.2" cy="1801.5" rx="9.7" ry="8.8" fill="url(#mG)"/>
<circle cx="1863.6" cy="1799.9" r="6.4" fill="url(#aI)"/>
<circle cx="1737.8" cy="1695" r="6.1" fill="url(#aN)"/>
<circle cx="1660.9" cy="1729.7" r="6.1" fill="url(#aN2)"/>
<circle cx="1823.5" cy="1723" r="5.8" fill="url(#aI)"/>
<circle cx="1665.7" cy="1696.6" r="4" fill="url(#aH)"/>
<circle cx="1701.3" cy="1676.5" r="4" fill="url(#aH)"/>
<circle cx="1735.4" cy="1732.6" r="4" fill="url(#aH)"/>
<circle cx="1750.9" cy="1735" r="4" fill="url(#aH)"/>
<circle cx="1789.4" cy="1746.2" r="4" fill="url(#aH)"/>
<circle cx="1803.8" cy="1756.7" r="4" fill="url(#aH)"/>
<circle cx="1865.2" cy="1731.8" r="4" fill="url(#aH)"/>
<circle cx="1882.3" cy="1767.5" r="4" fill="url(#aH)"/>
<circle cx="1821.9" cy="1791.9" r="4" fill="url(#aH)"/>
<circle cx="1852.9" cy="1812.4" r="4" fill="url(#aH)"/>
<circle cx="1701" cy="1751.8" r="4" fill="url(#aH)"/>
<circle cx="1681.7" cy="1739.8" r="4" fill="url(#aH)"/>
<circle cx="1674" cy="1771.9" r="4" fill="url(#aH)"/>
<circle cx="1625.6" cy="1795.1" r="4" fill="url(#aH)"/>
<circle cx="1646.5" cy="1798.3" r="4" fill="url(#aH)"/>
<text transform="translate(1481.5 629.5) scale(1 1.035)" font-size="46.5" fill="#1a1a1a" font-weight="bold">d</text>
<line x1="1658" y1="802.8" x2="1832" y2="802.8" stroke="#cf1a1d" stroke-width="6"/>
<line x1="1658" y1="922.9" x2="1832" y2="922.9" stroke="#0a3f8f" stroke-width="6"/>
<line x1="1659" y1="922.9" x2="1831" y2="922.9" stroke="#2a6ad0" stroke-width="3"/>
<polygon fill="#8f94a8" points="1745.5,806 1756,824 1747.6,824 1747.6,901.8 1756,901.8 1745.5,919.8 1735,901.8 1743.4,901.8 1743.4,824 1735,824"/>
<text transform="translate(1437.9 813.8) scale(1 1.035)" font-size="40" fill="#cf1a1d">LUMO (eV)</text>
<text transform="translate(1437.9 938) scale(1 1.035)" font-size="40" fill="#0d56a6">HOMO (eV)</text>
<text transform="translate(1852 811.8) scale(1 1.035)" font-size="43.5" fill="#cf1a1d">-4.10</text>
<text transform="translate(1852 932.5) scale(1 1.035)" font-size="43.5" fill="#0d56a6">-6.43</text>
<text transform="translate(1779 879.4) scale(1 1.035)" font-size="43" fill="#9b6bb0">&#916;E = 2.33</text>
<line x1="1656.6" y1="1444.4" x2="1832.3" y2="1444.4" stroke="#cf1a1d" stroke-width="6"/>
<line x1="1656.6" y1="1580.6" x2="1832.3" y2="1580.6" stroke="#0a3f8f" stroke-width="6"/>
<line x1="1657.6" y1="1580.6" x2="1831.3" y2="1580.6" stroke="#2a6ad0" stroke-width="3"/>
<polygon fill="#8f94a8" points="1744.3,1448 1754.8,1466 1746.4,1466 1746.4,1560 1754.8,1560 1744.3,1578 1733.8,1560 1742.2,1560 1742.2,1466 1733.8,1466"/>
<text transform="translate(1437.3 1462.9) scale(1 1.035)" font-size="40" fill="#cf1a1d">LUMO (eV)</text>
<text transform="translate(1437.3 1590) scale(1 1.035)" font-size="40" fill="#0d56a6">HOMO (eV)</text>
<text transform="translate(1851.5 1455) scale(1 1.035)" font-size="43.5" fill="#cf1a1d">-4.07</text>
<text transform="translate(1851 1589.8) scale(1 1.035)" font-size="43.5" fill="#0d56a6">-6.51</text>
<text transform="translate(1778 1526) scale(1 1.035)" font-size="43" fill="#9b6bb0">&#916;E = 2.44</text>
</g>
</svg>
</body></html>
